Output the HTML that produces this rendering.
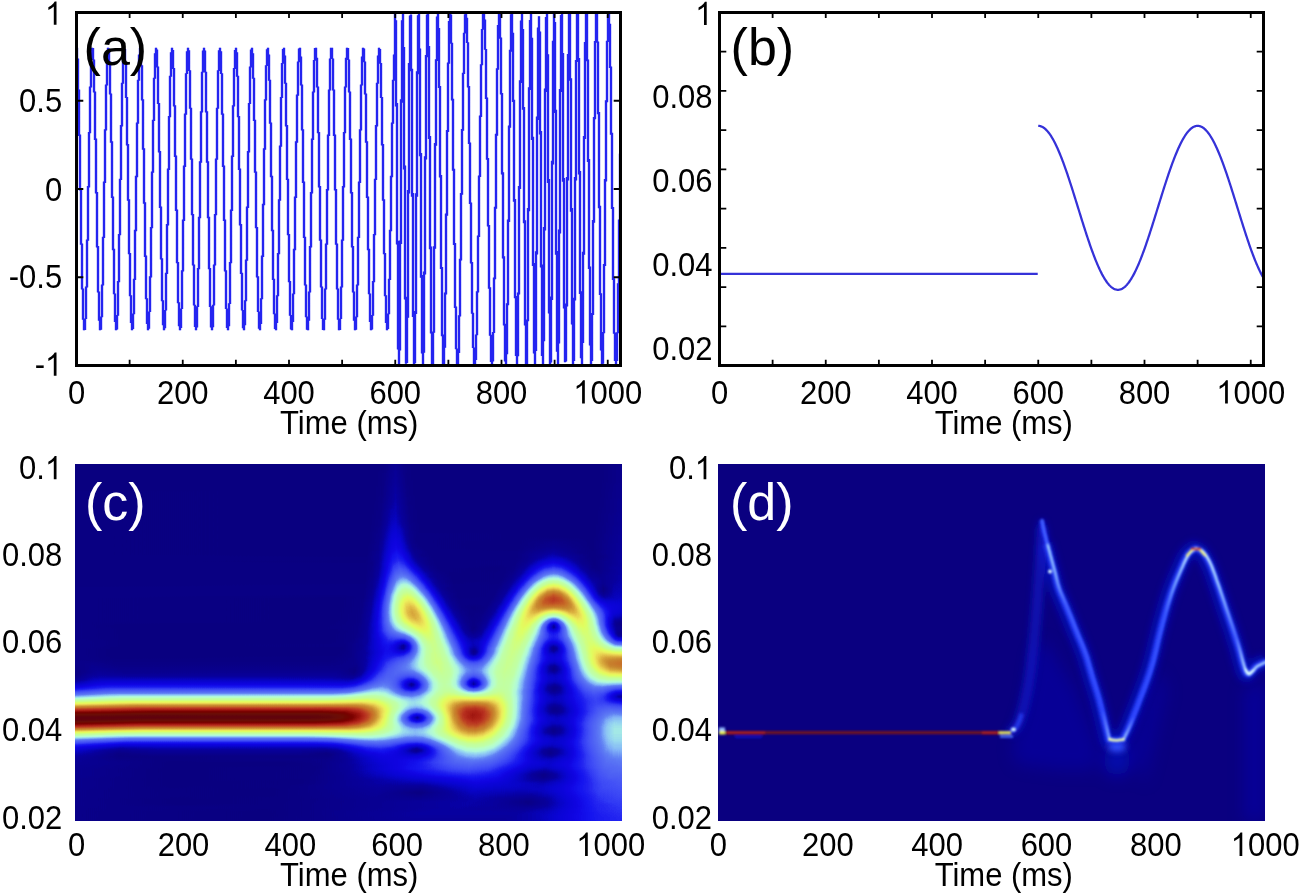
<!DOCTYPE html>
<html><head><meta charset="utf-8"><style>
html,body{margin:0;padding:0;background:#fff;}
body{width:1301px;height:896px;overflow:hidden;}
svg{display:block;font-family:"Liberation Sans", sans-serif;}
text{-webkit-font-smoothing:antialiased;}
</style></head><body>
<svg width="1301" height="896" viewBox="0 0 1301 896">
<rect width="1301" height="896" fill="#fff"/>
<svg x="0" y="0" width="1301" height="896" overflow="hidden"><clipPath id="ca"><rect x="76.5" y="12.5" width="544.0" height="353.0"/></clipPath></svg>
<g clip-path="url(#ca)"><path d="M77.0 47.8V59.1M78.0 58.6V90.6M79.0 89.6V135.9M80.0 134.6V190.5M81.0 189.0V244.8M82.0 243.4V289.4M83.0 288.4V319.8M84.0 319.4V330.2M85.0 318.4V330.0M86.0 286.4V318.9M87.0 239.4V287.4M88.0 186.0V240.7M89.0 131.9V187.5M90.0 86.6V133.2M91.0 57.7V87.6M92.0 47.8V58.2M93.0 48.1V60.0M94.0 59.6V92.5M95.0 91.6V140.0M96.0 138.6V193.4M97.0 192.0V247.5M98.0 246.1V292.4M99.0 291.4V320.7M100.0 320.3V330.2M101.0 316.5V329.7M102.0 284.5V317.3M103.0 236.7V285.5M104.0 181.6V238.0M105.0 129.2V183.1M106.0 84.6V130.5M107.0 56.4V85.6M108.0 47.8V56.8M109.0 48.4V62.2M110.0 61.5V94.5M111.0 93.5V142.7M112.0 141.3V197.9M113.0 196.4V250.2M114.0 248.8V294.3M115.0 293.4V322.1M116.0 321.6V330.2M117.0 315.0V329.4M118.0 281.1V315.8M119.0 234.0V282.3M120.0 178.7V235.3M121.0 125.1V180.1M122.0 82.7V126.5M123.0 55.4V83.7M124.0 47.8V55.9M125.0 48.9V63.7M126.0 63.0V98.1M127.0 96.9V145.4M128.0 144.0V200.8M129.0 199.3V254.2M130.0 252.9V296.3M131.0 295.3V323.0M132.0 322.6V330.2M133.0 313.6V329.0M134.0 278.7V314.3M135.0 229.7V279.9M136.0 175.7V231.2M137.0 122.4V177.2M138.0 79.7V123.8M139.0 54.5V80.7M140.0 47.8V55.0M141.0 49.2V65.9M142.0 65.2V100.5M143.0 99.3V149.7M144.0 148.3V203.8M145.0 202.3V256.9M146.0 255.6V299.3M147.0 298.3V323.9M148.0 323.5V330.2M149.0 311.4V328.7M150.0 276.3V312.1M151.0 226.9V277.5M152.0 171.4V228.3M153.0 119.7V172.8M154.0 77.7V121.1M155.0 53.2V78.7M156.0 47.8V53.6M157.0 49.5V67.4M158.0 66.6V104.1M159.0 102.9V152.6M160.0 151.1V208.1M161.0 206.6V259.6M162.0 258.3V301.3M163.0 300.3V325.3M164.0 324.8V330.2M165.0 309.9V328.3M166.0 272.7V310.6M167.0 224.0V273.9M168.0 168.5V225.4M169.0 116.0V169.9M170.0 75.8V117.2M171.0 52.3V76.7M172.0 47.8V52.7M173.0 50.0V68.9M174.0 68.1V106.5M175.0 105.3V156.9M176.0 155.5V211.0M177.0 209.5V263.2M178.0 262.0V303.2M179.0 302.2V326.2M180.0 325.7V330.2M181.0 308.4V327.9M182.0 270.3V309.1M183.0 219.6V271.5M184.0 165.6V221.1M185.0 113.6V167.0M186.0 73.3V114.8M187.0 51.3V74.0M188.0 47.8V51.8M189.0 50.3V71.1M190.0 70.3V108.8M191.0 107.7V159.8M192.0 158.4V215.3M193.0 213.9V265.6M194.0 264.4V305.4M195.0 304.7V327.1M196.0 326.7V330.2M197.0 306.2V327.6M198.0 268.0V306.9M199.0 216.8V269.2M200.0 161.2V218.2M201.0 111.2V162.7M202.0 71.8V112.4M203.0 50.6V72.6M204.0 47.8V50.7M205.0 50.6V72.6M206.0 71.8V112.4M207.0 111.2V162.7M208.0 161.2V218.2M209.0 216.8V269.2M210.0 268.0V306.9M211.0 306.2V327.6M212.0 327.1V330.2M213.0 304.7V327.3M214.0 264.4V305.4M215.0 213.9V265.6M216.0 158.4V215.3M217.0 107.7V159.8M218.0 70.3V108.8M219.0 50.3V71.1M220.0 47.8V51.8M221.0 51.3V74.0M222.0 73.3V114.8M223.0 113.6V167.0M224.0 165.6V221.1M225.0 219.6V271.5M226.0 270.3V309.1M227.0 308.4V327.9M228.0 325.7V330.2M229.0 303.2V326.2M230.0 262.0V304.0M231.0 209.5V263.2M232.0 155.5V211.0M233.0 105.3V156.9M234.0 68.1V106.5M235.0 50.0V68.9M236.0 47.8V52.7M237.0 52.3V76.7M238.0 75.8V117.2M239.0 116.0V169.9M240.0 168.5V225.4M241.0 224.0V273.9M242.0 272.7V310.6M243.0 309.9V328.3M244.0 324.8V330.2M245.0 300.3V325.3M246.0 259.6V301.3M247.0 206.6V260.8M248.0 151.1V208.1M249.0 102.9V152.6M250.0 66.6V104.1M251.0 49.5V67.4M252.0 47.8V53.6M253.0 53.2V78.7M254.0 77.7V121.1M255.0 119.7V172.8M256.0 171.4V228.3M257.0 226.9V277.5M258.0 276.3V312.1M259.0 311.4V328.7M260.0 323.5V330.2M261.0 298.3V323.9M262.0 255.6V299.3M263.0 203.8V256.9M264.0 148.3V205.2M265.0 99.3V149.7M266.0 65.2V100.5M267.0 49.2V65.9M268.0 47.8V55.0M269.0 54.5V80.7M270.0 79.7V123.8M271.0 122.4V177.2M272.0 175.7V231.2M273.0 229.7V279.9M274.0 278.7V314.3M275.0 313.6V329.0M276.0 322.6V330.2M277.0 295.3V323.0M278.0 252.9V296.3M279.0 199.3V254.2M280.0 145.4V200.8M281.0 96.9V146.8M282.0 63.0V98.1M283.0 48.9V63.7M284.0 47.8V55.9M285.0 55.4V83.7M286.0 82.7V126.5M287.0 125.1V180.1M288.0 178.7V235.3M289.0 234.0V282.3M290.0 281.1V315.8M291.0 315.0V329.4M292.0 321.6V330.2M293.0 293.4V322.1M294.0 248.8V294.3M295.0 196.4V250.2M296.0 141.3V197.9M297.0 94.5V142.7M298.0 61.5V95.7M299.0 48.4V62.2M300.0 47.8V56.8M301.0 56.4V85.6M302.0 84.6V130.5M303.0 129.2V183.1M304.0 181.6V238.0M305.0 236.7V285.5M306.0 284.5V317.3M307.0 316.5V329.7M308.0 320.3V330.2M309.0 291.4V320.7M310.0 246.1V292.4M311.0 192.0V247.5M312.0 138.6V193.4M313.0 91.6V140.0M314.0 60.0V92.5M315.0 48.1V60.7M316.0 47.8V58.2M317.0 57.7V87.6M318.0 86.6V133.2M319.0 131.9V187.5M320.0 186.0V240.7M321.0 239.4V287.4M322.0 286.4V318.9M323.0 318.4V330.0M324.0 319.4V330.2M325.0 288.4V319.8M326.0 243.4V289.4M327.0 189.0V244.8M328.0 134.6V190.5M329.0 89.6V135.9M330.0 58.6V90.6M331.0 47.8V59.1M332.0 47.8V59.1M333.0 58.6V90.6M334.0 89.6V135.9M335.0 134.6V190.5M336.0 189.0V244.8M337.0 243.4V289.4M338.0 288.4V319.8M339.0 319.4V330.2M340.0 318.4V330.0M341.0 286.4V318.9M342.0 239.4V287.4M343.0 186.0V240.7M344.0 131.9V187.5M345.0 86.6V133.2M346.0 57.7V87.6M347.0 47.8V58.2M348.0 48.1V60.0M349.0 59.6V92.5M350.0 91.6V140.0M351.0 138.6V193.4M352.0 192.0V247.5M353.0 246.1V292.4M354.0 291.4V320.7M355.0 320.3V330.2M356.0 316.5V329.7M357.0 284.5V317.3M358.0 236.7V285.5M359.0 181.6V238.0M360.0 129.2V183.1M361.0 84.6V130.5M362.0 56.4V85.6M363.0 47.8V56.8M364.0 48.4V62.2M365.0 61.5V94.5M366.0 93.5V142.7M367.0 141.3V197.9M368.0 196.4V250.2M369.0 248.8V294.3M370.0 293.4V322.1M371.0 321.6V330.2M372.0 315.0V329.4M373.0 281.1V315.8M374.0 234.0V282.3M375.0 178.7V235.3M376.0 125.1V180.1M377.0 82.7V126.5M378.0 55.4V83.7M379.0 47.8V55.9M380.0 48.9V63.7M381.0 63.0V98.1M382.0 96.9V145.4M383.0 144.0V200.8M384.0 199.3V254.2M385.0 252.9V296.3M386.0 295.3V323.0M387.0 322.6V330.2M388.0 313.6V329.0M389.0 278.7V314.3M390.0 229.7V279.9M391.0 175.7V231.2M392.0 122.4V177.2M393.0 79.7V123.8M394.0 54.5V80.7M395.0 12.5V55.0M396.0 20.3V106.5M397.0 102.9V244.4M398.0 240.8V349.6M399.0 348.7V365.5M400.0 240.6V350.5M401.0 99.3V244.1M402.0 20.2V102.8M403.0 12.8V49.2M404.0 47.0V169.4M405.0 165.6V299.5M406.0 296.8V363.8M407.0 314.8V362.9M408.0 189.9V317.8M409.0 63.0V193.6M410.0 15.6V65.9M411.0 14.4V71.3M412.0 68.7V196.7M413.0 193.1V316.9M414.0 314.6V365.0M415.0 311.0V363.2M416.0 193.3V313.9M417.0 71.3V196.8M418.0 15.3V74.2M419.0 12.5V50.3M420.0 48.4V156.2M421.0 152.9V277.8M422.0 274.9V353.4M423.0 351.2V365.1M424.0 271.5V352.7M425.0 156.3V274.5M426.0 55.0V159.5M427.0 14.6V57.3M428.0 12.9V47.7M429.0 46.0V138.9M430.0 136.0V249.3M431.0 246.6V333.4M432.0 332.0V365.5M433.0 331.5V364.6M434.0 246.2V332.8M435.0 143.0V248.7M436.0 59.2V145.7M437.0 16.6V61.1M438.0 12.5V29.1M439.0 28.0V88.1M440.0 85.9V177.4M441.0 174.9V269.1M442.0 267.1V336.2M443.0 334.6V364.3M444.0 346.9V365.5M445.0 292.6V347.8M446.0 213.5V294.4M447.0 130.0V215.7M448.0 62.4V132.1M449.0 20.9V63.8M450.0 13.2V21.3M451.0 14.4V43.7M452.0 42.7V100.5M453.0 98.8V170.8M454.0 168.8V244.9M455.0 243.0V308.0M456.0 306.5V349.2M457.0 348.5V365.2M458.0 352.1V364.9M459.0 315.2V352.9M460.0 258.8V316.4M461.0 192.9V260.4M462.0 129.1V194.7M463.0 72.7V130.8M464.0 32.8V74.0M465.0 14.3V33.6M466.0 12.6V18.2M467.0 17.7V43.1M468.0 42.3V87.4M469.0 86.1V144.0M470.0 142.4V204.1M471.0 202.5V263.6M472.0 262.1V313.8M473.0 312.7V348.1M474.0 347.5V364.3M475.0 359.3V365.2M476.0 334.5V359.9M477.0 291.2V335.3M478.0 235.4V292.5M479.0 175.5V237.0M480.0 115.4V177.1M481.0 64.2V116.9M482.0 29.1V65.3M483.0 13.3V29.8M484.0 13.3V19.9M485.0 19.5V49.8M486.0 48.9V99.1M487.0 97.6V159.7M488.0 158.0V226.6M489.0 224.9V288.8M490.0 287.3V335.7M491.0 334.7V361.9M492.0 360.8V365.5M493.0 332.0V361.4M494.0 277.6V333.0M495.0 206.8V279.2M496.0 133.8V208.8M497.0 68.2V135.8M498.0 25.1V69.7M499.0 12.5V25.8M500.0 13.8V38.7M501.0 37.5V94.6M502.0 92.9V174.4M503.0 172.2V258.5M504.0 256.3V325.4M505.0 323.8V361.4M506.0 353.4V365.3M507.0 303.3V354.3M508.0 219.6V305.2M509.0 125.4V222.1M510.0 49.8V127.7M511.0 14.3V51.7M512.0 12.7V33.8M513.0 32.8V102.1M514.0 99.8V201.7M515.0 198.9V298.2M516.0 296.0V356.1M517.0 355.0V365.3M518.0 292.5V356.2M519.0 185.9V294.5M520.0 80.3V188.9M521.0 20.6V82.9M522.0 14.1V30.1M523.0 28.9V109.8M524.0 107.0V223.3M525.0 220.2V325.5M526.0 323.8V365.5M527.0 319.5V364.9M528.0 208.1V321.3M529.0 87.2V211.3M530.0 20.0V90.1M531.0 12.9V39.4M532.0 37.7V140.1M533.0 136.7V265.9M534.0 262.9V353.6M535.0 350.1V365.5M536.0 251.3V350.9M537.0 116.5V254.4M538.0 27.4V120.0M539.0 16.2V32.9M540.0 31.4V134.5M541.0 130.9V267.6M542.0 264.4V356.1M543.0 338.7V365.1M544.0 227.0V341.2M545.0 88.4V230.5M546.0 16.9V91.9M547.0 12.5V56.6M548.0 54.3V182.9M549.0 179.1V313.5M550.0 310.9V365.3M551.0 296.6V362.6M552.0 160.7V300.0M553.0 40.8V164.6M554.0 12.9V43.4M555.0 21.9V113.1M556.0 109.7V254.7M557.0 251.1V351.8M558.0 341.5V364.8M559.0 229.6V343.6M560.0 89.1V233.4M561.0 15.1V91.9M562.0 13.8V55.0M563.0 53.1V181.7M564.0 178.0V308.6M565.0 305.8V362.2M566.0 303.6V361.4M567.0 176.9V306.6M568.0 54.1V180.6M569.0 13.4V56.1M570.0 13.4V80.8M571.0 78.3V211.7M572.0 208.1V324.6M573.0 322.2V364.4M574.0 297.8V361.0M575.0 177.0V300.6M576.0 60.1V180.5M577.0 12.5V62.1M578.0 13.1V60.0M579.0 58.1V174.5M580.0 171.1V294.1M581.0 291.3V358.3M582.0 341.6V365.1M583.0 251.8V343.1M584.0 136.1V254.8M585.0 42.1V139.1M586.0 13.2V43.4M587.0 13.2V61.3M588.0 59.5V162.0M589.0 159.1V269.1M590.0 266.4V345.5M591.0 344.2V365.4M592.0 312.9V361.0M593.0 220.1V315.1M594.0 116.9V222.8M595.0 40.9V119.2M596.0 13.5V42.6M597.0 12.8V42.8M598.0 41.5V114.3M599.0 112.0V208.2M600.0 205.7V295.1M601.0 293.2V350.4M602.0 349.6V364.9M603.0 332.1V363.8M604.0 263.9V333.2M605.0 179.1V265.9M606.0 100.3V181.4M607.0 40.8V102.3M608.0 14.5V42.0M609.0 12.7V24.7M610.0 23.8V68.1M611.0 66.4V134.7M612.0 132.7V209.0M613.0 207.0V280.1M614.0 278.3V333.7M615.0 332.5V361.1M616.0 360.5V364.5M617.0 332.2V360.9M618.0 283.3V333.3M619.0 219.5V284.9M620.0 153.4V221.3M621.0 153.4V155.2" fill="none" stroke="#c4c4fb" stroke-width="3.1" stroke-linecap="butt"/><path d="M77.0 47.8V59.1M78.0 58.6V90.6M79.0 89.6V135.9M80.0 134.6V190.5M81.0 189.0V244.8M82.0 243.4V289.4M83.0 288.4V319.8M84.0 319.4V330.2M85.0 318.4V330.0M86.0 286.4V318.9M87.0 239.4V287.4M88.0 186.0V240.7M89.0 131.9V187.5M90.0 86.6V133.2M91.0 57.7V87.6M92.0 47.8V58.2M93.0 48.1V60.0M94.0 59.6V92.5M95.0 91.6V140.0M96.0 138.6V193.4M97.0 192.0V247.5M98.0 246.1V292.4M99.0 291.4V320.7M100.0 320.3V330.2M101.0 316.5V329.7M102.0 284.5V317.3M103.0 236.7V285.5M104.0 181.6V238.0M105.0 129.2V183.1M106.0 84.6V130.5M107.0 56.4V85.6M108.0 47.8V56.8M109.0 48.4V62.2M110.0 61.5V94.5M111.0 93.5V142.7M112.0 141.3V197.9M113.0 196.4V250.2M114.0 248.8V294.3M115.0 293.4V322.1M116.0 321.6V330.2M117.0 315.0V329.4M118.0 281.1V315.8M119.0 234.0V282.3M120.0 178.7V235.3M121.0 125.1V180.1M122.0 82.7V126.5M123.0 55.4V83.7M124.0 47.8V55.9M125.0 48.9V63.7M126.0 63.0V98.1M127.0 96.9V145.4M128.0 144.0V200.8M129.0 199.3V254.2M130.0 252.9V296.3M131.0 295.3V323.0M132.0 322.6V330.2M133.0 313.6V329.0M134.0 278.7V314.3M135.0 229.7V279.9M136.0 175.7V231.2M137.0 122.4V177.2M138.0 79.7V123.8M139.0 54.5V80.7M140.0 47.8V55.0M141.0 49.2V65.9M142.0 65.2V100.5M143.0 99.3V149.7M144.0 148.3V203.8M145.0 202.3V256.9M146.0 255.6V299.3M147.0 298.3V323.9M148.0 323.5V330.2M149.0 311.4V328.7M150.0 276.3V312.1M151.0 226.9V277.5M152.0 171.4V228.3M153.0 119.7V172.8M154.0 77.7V121.1M155.0 53.2V78.7M156.0 47.8V53.6M157.0 49.5V67.4M158.0 66.6V104.1M159.0 102.9V152.6M160.0 151.1V208.1M161.0 206.6V259.6M162.0 258.3V301.3M163.0 300.3V325.3M164.0 324.8V330.2M165.0 309.9V328.3M166.0 272.7V310.6M167.0 224.0V273.9M168.0 168.5V225.4M169.0 116.0V169.9M170.0 75.8V117.2M171.0 52.3V76.7M172.0 47.8V52.7M173.0 50.0V68.9M174.0 68.1V106.5M175.0 105.3V156.9M176.0 155.5V211.0M177.0 209.5V263.2M178.0 262.0V303.2M179.0 302.2V326.2M180.0 325.7V330.2M181.0 308.4V327.9M182.0 270.3V309.1M183.0 219.6V271.5M184.0 165.6V221.1M185.0 113.6V167.0M186.0 73.3V114.8M187.0 51.3V74.0M188.0 47.8V51.8M189.0 50.3V71.1M190.0 70.3V108.8M191.0 107.7V159.8M192.0 158.4V215.3M193.0 213.9V265.6M194.0 264.4V305.4M195.0 304.7V327.1M196.0 326.7V330.2M197.0 306.2V327.6M198.0 268.0V306.9M199.0 216.8V269.2M200.0 161.2V218.2M201.0 111.2V162.7M202.0 71.8V112.4M203.0 50.6V72.6M204.0 47.8V50.7M205.0 50.6V72.6M206.0 71.8V112.4M207.0 111.2V162.7M208.0 161.2V218.2M209.0 216.8V269.2M210.0 268.0V306.9M211.0 306.2V327.6M212.0 327.1V330.2M213.0 304.7V327.3M214.0 264.4V305.4M215.0 213.9V265.6M216.0 158.4V215.3M217.0 107.7V159.8M218.0 70.3V108.8M219.0 50.3V71.1M220.0 47.8V51.8M221.0 51.3V74.0M222.0 73.3V114.8M223.0 113.6V167.0M224.0 165.6V221.1M225.0 219.6V271.5M226.0 270.3V309.1M227.0 308.4V327.9M228.0 325.7V330.2M229.0 303.2V326.2M230.0 262.0V304.0M231.0 209.5V263.2M232.0 155.5V211.0M233.0 105.3V156.9M234.0 68.1V106.5M235.0 50.0V68.9M236.0 47.8V52.7M237.0 52.3V76.7M238.0 75.8V117.2M239.0 116.0V169.9M240.0 168.5V225.4M241.0 224.0V273.9M242.0 272.7V310.6M243.0 309.9V328.3M244.0 324.8V330.2M245.0 300.3V325.3M246.0 259.6V301.3M247.0 206.6V260.8M248.0 151.1V208.1M249.0 102.9V152.6M250.0 66.6V104.1M251.0 49.5V67.4M252.0 47.8V53.6M253.0 53.2V78.7M254.0 77.7V121.1M255.0 119.7V172.8M256.0 171.4V228.3M257.0 226.9V277.5M258.0 276.3V312.1M259.0 311.4V328.7M260.0 323.5V330.2M261.0 298.3V323.9M262.0 255.6V299.3M263.0 203.8V256.9M264.0 148.3V205.2M265.0 99.3V149.7M266.0 65.2V100.5M267.0 49.2V65.9M268.0 47.8V55.0M269.0 54.5V80.7M270.0 79.7V123.8M271.0 122.4V177.2M272.0 175.7V231.2M273.0 229.7V279.9M274.0 278.7V314.3M275.0 313.6V329.0M276.0 322.6V330.2M277.0 295.3V323.0M278.0 252.9V296.3M279.0 199.3V254.2M280.0 145.4V200.8M281.0 96.9V146.8M282.0 63.0V98.1M283.0 48.9V63.7M284.0 47.8V55.9M285.0 55.4V83.7M286.0 82.7V126.5M287.0 125.1V180.1M288.0 178.7V235.3M289.0 234.0V282.3M290.0 281.1V315.8M291.0 315.0V329.4M292.0 321.6V330.2M293.0 293.4V322.1M294.0 248.8V294.3M295.0 196.4V250.2M296.0 141.3V197.9M297.0 94.5V142.7M298.0 61.5V95.7M299.0 48.4V62.2M300.0 47.8V56.8M301.0 56.4V85.6M302.0 84.6V130.5M303.0 129.2V183.1M304.0 181.6V238.0M305.0 236.7V285.5M306.0 284.5V317.3M307.0 316.5V329.7M308.0 320.3V330.2M309.0 291.4V320.7M310.0 246.1V292.4M311.0 192.0V247.5M312.0 138.6V193.4M313.0 91.6V140.0M314.0 60.0V92.5M315.0 48.1V60.7M316.0 47.8V58.2M317.0 57.7V87.6M318.0 86.6V133.2M319.0 131.9V187.5M320.0 186.0V240.7M321.0 239.4V287.4M322.0 286.4V318.9M323.0 318.4V330.0M324.0 319.4V330.2M325.0 288.4V319.8M326.0 243.4V289.4M327.0 189.0V244.8M328.0 134.6V190.5M329.0 89.6V135.9M330.0 58.6V90.6M331.0 47.8V59.1M332.0 47.8V59.1M333.0 58.6V90.6M334.0 89.6V135.9M335.0 134.6V190.5M336.0 189.0V244.8M337.0 243.4V289.4M338.0 288.4V319.8M339.0 319.4V330.2M340.0 318.4V330.0M341.0 286.4V318.9M342.0 239.4V287.4M343.0 186.0V240.7M344.0 131.9V187.5M345.0 86.6V133.2M346.0 57.7V87.6M347.0 47.8V58.2M348.0 48.1V60.0M349.0 59.6V92.5M350.0 91.6V140.0M351.0 138.6V193.4M352.0 192.0V247.5M353.0 246.1V292.4M354.0 291.4V320.7M355.0 320.3V330.2M356.0 316.5V329.7M357.0 284.5V317.3M358.0 236.7V285.5M359.0 181.6V238.0M360.0 129.2V183.1M361.0 84.6V130.5M362.0 56.4V85.6M363.0 47.8V56.8M364.0 48.4V62.2M365.0 61.5V94.5M366.0 93.5V142.7M367.0 141.3V197.9M368.0 196.4V250.2M369.0 248.8V294.3M370.0 293.4V322.1M371.0 321.6V330.2M372.0 315.0V329.4M373.0 281.1V315.8M374.0 234.0V282.3M375.0 178.7V235.3M376.0 125.1V180.1M377.0 82.7V126.5M378.0 55.4V83.7M379.0 47.8V55.9M380.0 48.9V63.7M381.0 63.0V98.1M382.0 96.9V145.4M383.0 144.0V200.8M384.0 199.3V254.2M385.0 252.9V296.3M386.0 295.3V323.0M387.0 322.6V330.2M388.0 313.6V329.0M389.0 278.7V314.3M390.0 229.7V279.9M391.0 175.7V231.2M392.0 122.4V177.2M393.0 79.7V123.8M394.0 54.5V80.7M395.0 12.5V55.0M396.0 20.3V106.5M397.0 102.9V244.4M398.0 240.8V349.6M399.0 348.7V365.5M400.0 240.6V350.5M401.0 99.3V244.1M402.0 20.2V102.8M403.0 12.8V49.2M404.0 47.0V169.4M405.0 165.6V299.5M406.0 296.8V363.8M407.0 314.8V362.9M408.0 189.9V317.8M409.0 63.0V193.6M410.0 15.6V65.9M411.0 14.4V71.3M412.0 68.7V196.7M413.0 193.1V316.9M414.0 314.6V365.0M415.0 311.0V363.2M416.0 193.3V313.9M417.0 71.3V196.8M418.0 15.3V74.2M419.0 12.5V50.3M420.0 48.4V156.2M421.0 152.9V277.8M422.0 274.9V353.4M423.0 351.2V365.1M424.0 271.5V352.7M425.0 156.3V274.5M426.0 55.0V159.5M427.0 14.6V57.3M428.0 12.9V47.7M429.0 46.0V138.9M430.0 136.0V249.3M431.0 246.6V333.4M432.0 332.0V365.5M433.0 331.5V364.6M434.0 246.2V332.8M435.0 143.0V248.7M436.0 59.2V145.7M437.0 16.6V61.1M438.0 12.5V29.1M439.0 28.0V88.1M440.0 85.9V177.4M441.0 174.9V269.1M442.0 267.1V336.2M443.0 334.6V364.3M444.0 346.9V365.5M445.0 292.6V347.8M446.0 213.5V294.4M447.0 130.0V215.7M448.0 62.4V132.1M449.0 20.9V63.8M450.0 13.2V21.3M451.0 14.4V43.7M452.0 42.7V100.5M453.0 98.8V170.8M454.0 168.8V244.9M455.0 243.0V308.0M456.0 306.5V349.2M457.0 348.5V365.2M458.0 352.1V364.9M459.0 315.2V352.9M460.0 258.8V316.4M461.0 192.9V260.4M462.0 129.1V194.7M463.0 72.7V130.8M464.0 32.8V74.0M465.0 14.3V33.6M466.0 12.6V18.2M467.0 17.7V43.1M468.0 42.3V87.4M469.0 86.1V144.0M470.0 142.4V204.1M471.0 202.5V263.6M472.0 262.1V313.8M473.0 312.7V348.1M474.0 347.5V364.3M475.0 359.3V365.2M476.0 334.5V359.9M477.0 291.2V335.3M478.0 235.4V292.5M479.0 175.5V237.0M480.0 115.4V177.1M481.0 64.2V116.9M482.0 29.1V65.3M483.0 13.3V29.8M484.0 13.3V19.9M485.0 19.5V49.8M486.0 48.9V99.1M487.0 97.6V159.7M488.0 158.0V226.6M489.0 224.9V288.8M490.0 287.3V335.7M491.0 334.7V361.9M492.0 360.8V365.5M493.0 332.0V361.4M494.0 277.6V333.0M495.0 206.8V279.2M496.0 133.8V208.8M497.0 68.2V135.8M498.0 25.1V69.7M499.0 12.5V25.8M500.0 13.8V38.7M501.0 37.5V94.6M502.0 92.9V174.4M503.0 172.2V258.5M504.0 256.3V325.4M505.0 323.8V361.4M506.0 353.4V365.3M507.0 303.3V354.3M508.0 219.6V305.2M509.0 125.4V222.1M510.0 49.8V127.7M511.0 14.3V51.7M512.0 12.7V33.8M513.0 32.8V102.1M514.0 99.8V201.7M515.0 198.9V298.2M516.0 296.0V356.1M517.0 355.0V365.3M518.0 292.5V356.2M519.0 185.9V294.5M520.0 80.3V188.9M521.0 20.6V82.9M522.0 14.1V30.1M523.0 28.9V109.8M524.0 107.0V223.3M525.0 220.2V325.5M526.0 323.8V365.5M527.0 319.5V364.9M528.0 208.1V321.3M529.0 87.2V211.3M530.0 20.0V90.1M531.0 12.9V39.4M532.0 37.7V140.1M533.0 136.7V265.9M534.0 262.9V353.6M535.0 350.1V365.5M536.0 251.3V350.9M537.0 116.5V254.4M538.0 27.4V120.0M539.0 16.2V32.9M540.0 31.4V134.5M541.0 130.9V267.6M542.0 264.4V356.1M543.0 338.7V365.1M544.0 227.0V341.2M545.0 88.4V230.5M546.0 16.9V91.9M547.0 12.5V56.6M548.0 54.3V182.9M549.0 179.1V313.5M550.0 310.9V365.3M551.0 296.6V362.6M552.0 160.7V300.0M553.0 40.8V164.6M554.0 12.9V43.4M555.0 21.9V113.1M556.0 109.7V254.7M557.0 251.1V351.8M558.0 341.5V364.8M559.0 229.6V343.6M560.0 89.1V233.4M561.0 15.1V91.9M562.0 13.8V55.0M563.0 53.1V181.7M564.0 178.0V308.6M565.0 305.8V362.2M566.0 303.6V361.4M567.0 176.9V306.6M568.0 54.1V180.6M569.0 13.4V56.1M570.0 13.4V80.8M571.0 78.3V211.7M572.0 208.1V324.6M573.0 322.2V364.4M574.0 297.8V361.0M575.0 177.0V300.6M576.0 60.1V180.5M577.0 12.5V62.1M578.0 13.1V60.0M579.0 58.1V174.5M580.0 171.1V294.1M581.0 291.3V358.3M582.0 341.6V365.1M583.0 251.8V343.1M584.0 136.1V254.8M585.0 42.1V139.1M586.0 13.2V43.4M587.0 13.2V61.3M588.0 59.5V162.0M589.0 159.1V269.1M590.0 266.4V345.5M591.0 344.2V365.4M592.0 312.9V361.0M593.0 220.1V315.1M594.0 116.9V222.8M595.0 40.9V119.2M596.0 13.5V42.6M597.0 12.8V42.8M598.0 41.5V114.3M599.0 112.0V208.2M600.0 205.7V295.1M601.0 293.2V350.4M602.0 349.6V364.9M603.0 332.1V363.8M604.0 263.9V333.2M605.0 179.1V265.9M606.0 100.3V181.4M607.0 40.8V102.3M608.0 14.5V42.0M609.0 12.7V24.7M610.0 23.8V68.1M611.0 66.4V134.7M612.0 132.7V209.0M613.0 207.0V280.1M614.0 278.3V333.7M615.0 332.5V361.1M616.0 360.5V364.5M617.0 332.2V360.9M618.0 283.3V333.3M619.0 219.5V284.9M620.0 153.4V221.3M621.0 153.4V155.2" fill="none" stroke="#2424f0" stroke-width="2.1" stroke-linecap="butt"/></g>
<path d="M129.62 364.00v-4.3M129.62 14.00v3.9M182.75 364.00v-4.3M182.75 14.00v3.9M235.88 364.00v-4.3M235.88 14.00v3.9M289.00 364.00v-4.3M289.00 14.00v3.9M342.12 364.00v-4.3M342.12 14.00v3.9M395.25 364.00v-4.3M395.25 14.00v3.9M448.38 364.00v-4.3M448.38 14.00v3.9M501.50 364.00v-4.3M501.50 14.00v3.9M554.62 364.00v-4.3M554.62 14.00v3.9M607.75 364.00v-4.3M607.75 14.00v3.9M78.00 100.75h5.3M619.00 100.75h-5.3M78.00 189.00h5.3M619.00 189.00h-5.3M78.00 277.25h5.3M619.00 277.25h-5.3" stroke="#000" stroke-width="1.8" fill="none"/>
<rect x="76.5" y="12.5" width="544.0" height="353.0" fill="none" stroke="#000" stroke-width="3"/>
<clipPath id="cb"><rect x="719.5" y="12.5" width="544.0" height="353.0"/></clipPath>
<filter id="bl06" x="-5%" y="-5%" width="110%" height="110%"><feGaussianBlur stdDeviation="0.55"/></filter>
<g clip-path="url(#cb)"><path filter="url(#bl06)" d="M719.50 273.98L1037.72 273.98M1038.25 125.85L1038.78 125.87L1039.31 125.92L1039.84 126.01L1040.38 126.14L1040.91 126.30L1041.44 126.50L1041.97 126.73L1042.50 127.00L1043.03 127.30L1043.56 127.64L1044.09 128.02L1044.62 128.43L1045.16 128.87L1045.69 129.35L1046.22 129.86L1046.75 130.41L1047.28 130.99L1047.81 131.61L1048.34 132.26L1048.88 132.94L1049.41 133.65L1049.94 134.40L1050.47 135.18L1051.00 135.99L1051.53 136.83L1052.06 137.71L1052.59 138.61L1053.12 139.55L1053.66 140.51L1054.19 141.51L1054.72 142.53L1055.25 143.58L1055.78 144.66L1056.31 145.77L1056.84 146.91L1057.38 148.07L1057.91 149.26L1058.44 150.47L1058.97 151.71L1059.50 152.98L1060.03 154.26L1060.56 155.57L1061.09 156.91L1061.62 158.26L1062.16 159.64L1062.69 161.04L1063.22 162.46L1063.75 163.90L1064.28 165.36L1064.81 166.84L1065.34 168.34L1065.88 169.85L1066.41 171.38L1066.94 172.92L1067.47 174.48L1068.00 176.06L1068.53 177.65L1069.06 179.25L1069.59 180.87L1070.12 182.50L1070.66 184.13L1071.19 185.78L1071.72 187.44L1072.25 189.11L1072.78 190.78L1073.31 192.47L1073.84 194.16L1074.38 195.85L1074.91 197.55L1075.44 199.26L1075.97 200.97L1076.50 202.68L1077.03 204.39L1077.56 206.11L1078.09 207.83L1078.62 209.54L1079.16 211.26L1079.69 212.97L1080.22 214.69L1080.75 216.40L1081.28 218.10L1081.81 219.80L1082.34 221.50L1082.88 223.19L1083.41 224.87L1083.94 226.55L1084.47 228.21L1085.00 229.87L1085.53 231.52L1086.06 233.16L1086.59 234.79L1087.12 236.40L1087.66 238.00L1088.19 239.59L1088.72 241.17L1089.25 242.73L1089.78 244.28L1090.31 245.81L1090.84 247.32L1091.38 248.81L1091.91 250.29L1092.44 251.75L1092.97 253.19L1093.50 254.61L1094.03 256.01L1094.56 257.39L1095.09 258.74L1095.62 260.08L1096.16 261.39L1096.69 262.68L1097.22 263.94L1097.75 265.18L1098.28 266.40L1098.81 267.58L1099.34 268.75L1099.88 269.88L1100.41 270.99L1100.94 272.07L1101.47 273.12L1102.00 274.15L1102.53 275.14L1103.06 276.10L1103.59 277.04L1104.12 277.94L1104.66 278.82L1105.19 279.66L1105.72 280.47L1106.25 281.25L1106.78 282.00L1107.31 282.71L1107.84 283.40L1108.38 284.04L1108.91 284.66L1109.44 285.24L1109.97 285.79L1110.50 286.30L1111.03 286.78L1111.56 287.23L1112.09 287.64L1112.62 288.01L1113.16 288.35L1113.69 288.65L1114.22 288.92L1114.75 289.15L1115.28 289.35L1115.81 289.51L1116.34 289.64L1116.88 289.73L1117.41 289.78L1117.94 289.80L1118.47 289.78L1119.00 289.73L1119.53 289.64L1120.06 289.51L1120.59 289.35L1121.12 289.15L1121.66 288.92L1122.19 288.65L1122.72 288.35L1123.25 288.01L1123.78 287.64L1124.31 287.23L1124.84 286.78L1125.38 286.30L1125.91 285.79L1126.44 285.24L1126.97 284.66L1127.50 284.04L1128.03 283.40L1128.56 282.71L1129.09 282.00L1129.62 281.25L1130.16 280.47L1130.69 279.66L1131.22 278.82L1131.75 277.94L1132.28 277.04L1132.81 276.10L1133.34 275.14L1133.88 274.15L1134.41 273.12L1134.94 272.07L1135.47 270.99L1136.00 269.88L1136.53 268.75L1137.06 267.58L1137.59 266.40L1138.12 265.18L1138.66 263.94L1139.19 262.68L1139.72 261.39L1140.25 260.08L1140.78 258.74L1141.31 257.39L1141.84 256.01L1142.38 254.61L1142.91 253.19L1143.44 251.75L1143.97 250.29L1144.50 248.81L1145.03 247.32L1145.56 245.81L1146.09 244.28L1146.62 242.73L1147.16 241.17L1147.69 239.59L1148.22 238.00L1148.75 236.40L1149.28 234.79L1149.81 233.16L1150.34 231.52L1150.88 229.87L1151.41 228.21L1151.94 226.55L1152.47 224.87L1153.00 223.19L1153.53 221.50L1154.06 219.80L1154.59 218.10L1155.12 216.40L1155.66 214.69L1156.19 212.97L1156.72 211.26L1157.25 209.54L1157.78 207.83L1158.31 206.11L1158.84 204.39L1159.38 202.68L1159.91 200.97L1160.44 199.26L1160.97 197.55L1161.50 195.85L1162.03 194.16L1162.56 192.47L1163.09 190.78L1163.62 189.11L1164.16 187.44L1164.69 185.78L1165.22 184.13L1165.75 182.50L1166.28 180.87L1166.81 179.25L1167.34 177.65L1167.88 176.06L1168.41 174.48L1168.94 172.92L1169.47 171.38L1170.00 169.85L1170.53 168.34L1171.06 166.84L1171.59 165.36L1172.12 163.90L1172.66 162.46L1173.19 161.04L1173.72 159.64L1174.25 158.26L1174.78 156.91L1175.31 155.57L1175.84 154.26L1176.38 152.98L1176.91 151.71L1177.44 150.47L1177.97 149.26L1178.50 148.07L1179.03 146.91L1179.56 145.77L1180.09 144.66L1180.62 143.58L1181.16 142.53L1181.69 141.51L1182.22 140.51L1182.75 139.55L1183.28 138.61L1183.81 137.71L1184.34 136.83L1184.88 135.99L1185.41 135.18L1185.94 134.40L1186.47 133.65L1187.00 132.94L1187.53 132.26L1188.06 131.61L1188.59 130.99L1189.12 130.41L1189.66 129.86L1190.19 129.35L1190.72 128.87L1191.25 128.43L1191.78 128.02L1192.31 127.64L1192.84 127.30L1193.38 127.00L1193.91 126.73L1194.44 126.50L1194.97 126.30L1195.50 126.14L1196.03 126.01L1196.56 125.92L1197.09 125.87L1197.62 125.85L1198.16 125.87L1198.69 125.92L1199.22 126.01L1199.75 126.14L1200.28 126.30L1200.81 126.50L1201.34 126.73L1201.88 127.00L1202.41 127.30L1202.94 127.64L1203.47 128.02L1204.00 128.43L1204.53 128.87L1205.06 129.35L1205.59 129.86L1206.12 130.41L1206.66 130.99L1207.19 131.61L1207.72 132.26L1208.25 132.94L1208.78 133.65L1209.31 134.40L1209.84 135.18L1210.38 135.99L1210.91 136.83L1211.44 137.71L1211.97 138.61L1212.50 139.55L1213.03 140.51L1213.56 141.51L1214.09 142.53L1214.62 143.58L1215.16 144.66L1215.69 145.77L1216.22 146.91L1216.75 148.07L1217.28 149.26L1217.81 150.47L1218.34 151.71L1218.88 152.98L1219.41 154.26L1219.94 155.57L1220.47 156.91L1221.00 158.26L1221.53 159.64L1222.06 161.04L1222.59 162.46L1223.12 163.90L1223.66 165.36L1224.19 166.84L1224.72 168.34L1225.25 169.85L1225.78 171.38L1226.31 172.92L1226.84 174.48L1227.38 176.06L1227.91 177.65L1228.44 179.25L1228.97 180.87L1229.50 182.50L1230.03 184.13L1230.56 185.78L1231.09 187.44L1231.62 189.11L1232.16 190.78L1232.69 192.47L1233.22 194.16L1233.75 195.85L1234.28 197.55L1234.81 199.26L1235.34 200.97L1235.88 202.68L1236.41 204.39L1236.94 206.11L1237.47 207.83L1238.00 209.54L1238.53 211.26L1239.06 212.97L1239.59 214.69L1240.12 216.40L1240.66 218.10L1241.19 219.80L1241.72 221.50L1242.25 223.19L1242.78 224.87L1243.31 226.55L1243.84 228.21L1244.38 229.87L1244.91 231.52L1245.44 233.16L1245.97 234.79L1246.50 236.40L1247.03 238.00L1247.56 239.59L1248.09 241.17L1248.62 242.73L1249.16 244.28L1249.69 245.81L1250.22 247.32L1250.75 248.81L1251.28 250.29L1251.81 251.75L1252.34 253.19L1252.88 254.61L1253.41 256.01L1253.94 257.39L1254.47 258.74L1255.00 260.08L1255.53 261.39L1256.06 262.68L1256.59 263.94L1257.12 265.18L1257.66 266.40L1258.19 267.58L1258.72 268.75L1259.25 269.88L1259.78 270.99L1260.31 272.07L1260.84 273.12L1261.38 274.15L1261.91 275.14L1262.44 276.10L1262.97 277.04L1263.50 277.94" fill="none" stroke="#3430d8" stroke-width="2.25"/></g>
<path d="M772.62 364.00v-4.3M772.62 14.00v3.9M825.75 364.00v-4.3M825.75 14.00v3.9M878.88 364.00v-4.3M878.88 14.00v3.9M932.00 364.00v-4.3M932.00 14.00v3.9M985.12 364.00v-4.3M985.12 14.00v3.9M1038.25 364.00v-4.3M1038.25 14.00v3.9M1091.38 364.00v-4.3M1091.38 14.00v3.9M1144.50 364.00v-4.3M1144.50 14.00v3.9M1197.62 364.00v-4.3M1197.62 14.00v3.9M1250.75 364.00v-4.3M1250.75 14.00v3.9M721.00 326.28h5.3M1262.00 326.28h-5.3M721.00 287.06h5.3M1262.00 287.06h-5.3M721.00 247.83h5.3M1262.00 247.83h-5.3M721.00 208.61h5.3M1262.00 208.61h-5.3M721.00 169.39h5.3M1262.00 169.39h-5.3M721.00 130.17h5.3M1262.00 130.17h-5.3M721.00 90.94h5.3M1262.00 90.94h-5.3M721.00 51.72h5.3M1262.00 51.72h-5.3" stroke="#000" stroke-width="1.8" fill="none"/>
<rect x="719.5" y="12.5" width="544.0" height="353.0" fill="none" stroke="#000" stroke-width="3"/>
<defs><filter id="jetc" x="0" y="0" width="1" height="1" color-interpolation-filters="sRGB"><feGaussianBlur stdDeviation="0 1.3"/>
<feComponentTransfer>
<feFuncR type="table" tableValues="0.039 0.037 0.035 0.033 0.031 0.031 0.031 0.034 0.039 0.049 0.059 0.067 0.073 0.084 0.114 0.149 0.188 0.218 0.245 0.268 0.289 0.304 0.320 0.336 0.351 0.367 0.397 0.450 0.502 0.536 0.569 0.604 0.643 0.682 0.699 0.710 0.722 0.733 0.744 0.754 0.760 0.765 0.775 0.792 0.808 0.826 0.847 0.868 0.886 0.902 0.918 0.923 0.918 0.912 0.900 0.879 0.859 0.837 0.816 0.794 0.784 0.784 0.784 0.777 0.765 0.754 0.742 0.730 0.713 0.688 0.663 0.622 0.579 0.533 0.486 0.458 0.441 0.429 0.410 0.388 0.376"/>
<feFuncG type="table" tableValues="0.000 0.000 0.000 0.000 0.000 0.007 0.013 0.016 0.016 0.016 0.016 0.031 0.058 0.084 0.114 0.161 0.220 0.259 0.295 0.326 0.355 0.378 0.402 0.425 0.452 0.483 0.533 0.612 0.690 0.746 0.802 0.858 0.910 0.962 0.980 0.990 1.000 1.000 1.000 1.000 1.000 1.000 1.000 1.000 1.000 1.000 1.000 1.000 0.990 0.971 0.951 0.920 0.878 0.837 0.791 0.739 0.688 0.640 0.596 0.553 0.515 0.482 0.450 0.405 0.355 0.304 0.260 0.217 0.178 0.146 0.115 0.085 0.056 0.031 0.008 0.012 0.030 0.051 0.049 0.023 0.000"/>
<feFuncB type="table" tableValues="0.502 0.531 0.561 0.590 0.620 0.680 0.741 0.790 0.831 0.854 0.877 0.900 0.923 0.941 0.941 0.947 0.957 0.962 0.965 0.965 0.963 0.959 0.957 0.957 0.957 0.957 0.959 0.966 0.973 0.961 0.950 0.935 0.902 0.869 0.840 0.812 0.784 0.739 0.695 0.655 0.639 0.622 0.597 0.558 0.520 0.480 0.439 0.398 0.374 0.369 0.363 0.353 0.337 0.322 0.301 0.276 0.250 0.228 0.212 0.195 0.182 0.171 0.160 0.153 0.147 0.142 0.136 0.130 0.119 0.100 0.081 0.060 0.038 0.021 0.005 0.000 0.000 0.020 0.031 0.040 0.063"/>
</feComponentTransfer></filter><linearGradient id="c0" gradientUnits="userSpaceOnUse" x1="75" x2="622" y1="0" y2="0"><stop offset="0.0009" stop-color="#000000"/><stop offset="0.5512" stop-color="#000000"/><stop offset="0.5658" stop-color="#020202"/><stop offset="0.5859" stop-color="#080808"/><stop offset="0.6042" stop-color="#010101"/><stop offset="0.6188" stop-color="#000000"/><stop offset="0.9625" stop-color="#000000"/><stop offset="0.9991" stop-color="#040404"/></linearGradient>
<linearGradient id="c1" gradientUnits="userSpaceOnUse" x1="75" x2="622" y1="0" y2="0"><stop offset="0.0009" stop-color="#000000"/><stop offset="0.5494" stop-color="#000000"/><stop offset="0.5640" stop-color="#010101"/><stop offset="0.5859" stop-color="#090909"/><stop offset="0.6042" stop-color="#020202"/><stop offset="0.6188" stop-color="#000000"/><stop offset="0.9625" stop-color="#000000"/><stop offset="0.9991" stop-color="#050505"/></linearGradient>
<linearGradient id="c2" gradientUnits="userSpaceOnUse" x1="75" x2="622" y1="0" y2="0"><stop offset="0.0009" stop-color="#000000"/><stop offset="0.5494" stop-color="#000000"/><stop offset="0.5640" stop-color="#010101"/><stop offset="0.5859" stop-color="#090909"/><stop offset="0.6042" stop-color="#020202"/><stop offset="0.6188" stop-color="#000000"/><stop offset="0.9607" stop-color="#000000"/><stop offset="0.9991" stop-color="#050505"/></linearGradient>
<linearGradient id="c3" gradientUnits="userSpaceOnUse" x1="75" x2="622" y1="0" y2="0"><stop offset="0.0009" stop-color="#000000"/><stop offset="0.5494" stop-color="#000000"/><stop offset="0.5640" stop-color="#020202"/><stop offset="0.5859" stop-color="#0a0a0a"/><stop offset="0.6060" stop-color="#010101"/><stop offset="0.6207" stop-color="#000000"/><stop offset="0.9607" stop-color="#000000"/><stop offset="0.9991" stop-color="#050505"/></linearGradient>
<linearGradient id="c4" gradientUnits="userSpaceOnUse" x1="75" x2="622" y1="0" y2="0"><stop offset="0.0009" stop-color="#000000"/><stop offset="0.5494" stop-color="#000000"/><stop offset="0.5640" stop-color="#020202"/><stop offset="0.5859" stop-color="#0a0a0a"/><stop offset="0.6060" stop-color="#020202"/><stop offset="0.6207" stop-color="#000000"/><stop offset="0.9607" stop-color="#000000"/><stop offset="0.9991" stop-color="#050505"/></linearGradient>
<linearGradient id="c5" gradientUnits="userSpaceOnUse" x1="75" x2="622" y1="0" y2="0"><stop offset="0.0009" stop-color="#000000"/><stop offset="0.5475" stop-color="#000000"/><stop offset="0.5640" stop-color="#020202"/><stop offset="0.5859" stop-color="#0b0b0b"/><stop offset="0.6060" stop-color="#020202"/><stop offset="0.6207" stop-color="#000000"/><stop offset="0.9607" stop-color="#000000"/><stop offset="0.9991" stop-color="#050505"/></linearGradient>
<linearGradient id="c6" gradientUnits="userSpaceOnUse" x1="75" x2="622" y1="0" y2="0"><stop offset="0.0009" stop-color="#000000"/><stop offset="0.5475" stop-color="#000000"/><stop offset="0.5622" stop-color="#020202"/><stop offset="0.5859" stop-color="#0b0b0b"/><stop offset="0.6060" stop-color="#020202"/><stop offset="0.6225" stop-color="#000000"/><stop offset="0.9589" stop-color="#000000"/><stop offset="0.9991" stop-color="#050505"/></linearGradient>
<linearGradient id="c7" gradientUnits="userSpaceOnUse" x1="75" x2="622" y1="0" y2="0"><stop offset="0.0009" stop-color="#000000"/><stop offset="0.5475" stop-color="#000000"/><stop offset="0.5622" stop-color="#020202"/><stop offset="0.5859" stop-color="#0c0c0c"/><stop offset="0.6060" stop-color="#020202"/><stop offset="0.6225" stop-color="#000000"/><stop offset="0.9589" stop-color="#000000"/><stop offset="0.9991" stop-color="#060606"/></linearGradient>
<linearGradient id="c8" gradientUnits="userSpaceOnUse" x1="75" x2="622" y1="0" y2="0"><stop offset="0.0009" stop-color="#000000"/><stop offset="0.5457" stop-color="#000000"/><stop offset="0.5622" stop-color="#020202"/><stop offset="0.5859" stop-color="#0d0d0d"/><stop offset="0.6079" stop-color="#020202"/><stop offset="0.6225" stop-color="#000000"/><stop offset="0.9589" stop-color="#000000"/><stop offset="0.9991" stop-color="#060606"/></linearGradient>
<linearGradient id="c9" gradientUnits="userSpaceOnUse" x1="75" x2="622" y1="0" y2="0"><stop offset="0.0009" stop-color="#010101"/><stop offset="0.5457" stop-color="#000000"/><stop offset="0.5622" stop-color="#020202"/><stop offset="0.5859" stop-color="#0d0d0d"/><stop offset="0.6079" stop-color="#020202"/><stop offset="0.6243" stop-color="#000000"/><stop offset="0.9570" stop-color="#000000"/><stop offset="0.9991" stop-color="#060606"/></linearGradient>
<linearGradient id="c10" gradientUnits="userSpaceOnUse" x1="75" x2="622" y1="0" y2="0"><stop offset="0.0009" stop-color="#010101"/><stop offset="0.5457" stop-color="#000000"/><stop offset="0.5622" stop-color="#020202"/><stop offset="0.5859" stop-color="#0e0e0e"/><stop offset="0.6079" stop-color="#020202"/><stop offset="0.6243" stop-color="#000000"/><stop offset="0.9570" stop-color="#000000"/><stop offset="0.9991" stop-color="#060606"/></linearGradient>
<linearGradient id="c11" gradientUnits="userSpaceOnUse" x1="75" x2="622" y1="0" y2="0"><stop offset="0.0009" stop-color="#010101"/><stop offset="0.5457" stop-color="#000000"/><stop offset="0.5622" stop-color="#030303"/><stop offset="0.5859" stop-color="#0e0e0e"/><stop offset="0.6079" stop-color="#030303"/><stop offset="0.6243" stop-color="#000000"/><stop offset="0.9570" stop-color="#000000"/><stop offset="0.9991" stop-color="#060606"/></linearGradient>
<linearGradient id="c12" gradientUnits="userSpaceOnUse" x1="75" x2="622" y1="0" y2="0"><stop offset="0.0009" stop-color="#010101"/><stop offset="0.5439" stop-color="#000000"/><stop offset="0.5603" stop-color="#020202"/><stop offset="0.5859" stop-color="#0f0f0f"/><stop offset="0.6097" stop-color="#020202"/><stop offset="0.6261" stop-color="#000000"/><stop offset="0.9552" stop-color="#000000"/><stop offset="0.9991" stop-color="#070707"/></linearGradient>
<linearGradient id="c13" gradientUnits="userSpaceOnUse" x1="75" x2="622" y1="0" y2="0"><stop offset="0.0009" stop-color="#010101"/><stop offset="0.5439" stop-color="#000000"/><stop offset="0.5603" stop-color="#030303"/><stop offset="0.5859" stop-color="#101010"/><stop offset="0.6097" stop-color="#020202"/><stop offset="0.6261" stop-color="#000000"/><stop offset="0.9552" stop-color="#000000"/><stop offset="0.9991" stop-color="#070707"/></linearGradient>
<linearGradient id="c14" gradientUnits="userSpaceOnUse" x1="75" x2="622" y1="0" y2="0"><stop offset="0.0009" stop-color="#010101"/><stop offset="0.5420" stop-color="#000000"/><stop offset="0.5603" stop-color="#030303"/><stop offset="0.5859" stop-color="#111111"/><stop offset="0.6097" stop-color="#030303"/><stop offset="0.6261" stop-color="#000000"/><stop offset="0.9552" stop-color="#000000"/><stop offset="0.9991" stop-color="#070707"/></linearGradient>
<linearGradient id="c15" gradientUnits="userSpaceOnUse" x1="75" x2="622" y1="0" y2="0"><stop offset="0.0009" stop-color="#010101"/><stop offset="0.5420" stop-color="#000000"/><stop offset="0.5603" stop-color="#030303"/><stop offset="0.5786" stop-color="#101010"/><stop offset="0.5859" stop-color="#111111"/><stop offset="0.6097" stop-color="#030303"/><stop offset="0.6280" stop-color="#000000"/><stop offset="0.9534" stop-color="#000000"/><stop offset="0.9991" stop-color="#070707"/></linearGradient>
<linearGradient id="c16" gradientUnits="userSpaceOnUse" x1="75" x2="622" y1="0" y2="0"><stop offset="0.0009" stop-color="#010101"/><stop offset="0.5420" stop-color="#000000"/><stop offset="0.5585" stop-color="#030303"/><stop offset="0.5786" stop-color="#101010"/><stop offset="0.5859" stop-color="#121212"/><stop offset="0.6097" stop-color="#030303"/><stop offset="0.6280" stop-color="#000000"/><stop offset="0.9534" stop-color="#000000"/><stop offset="0.9991" stop-color="#070707"/></linearGradient>
<linearGradient id="c17" gradientUnits="userSpaceOnUse" x1="75" x2="622" y1="0" y2="0"><stop offset="0.0009" stop-color="#010101"/><stop offset="0.5402" stop-color="#000000"/><stop offset="0.5585" stop-color="#030303"/><stop offset="0.5786" stop-color="#111111"/><stop offset="0.5859" stop-color="#131313"/><stop offset="0.6115" stop-color="#030303"/><stop offset="0.6298" stop-color="#000000"/><stop offset="0.9516" stop-color="#000000"/><stop offset="0.9991" stop-color="#080808"/></linearGradient>
<linearGradient id="c18" gradientUnits="userSpaceOnUse" x1="75" x2="622" y1="0" y2="0"><stop offset="0.0009" stop-color="#010101"/><stop offset="0.5402" stop-color="#000000"/><stop offset="0.5585" stop-color="#030303"/><stop offset="0.5786" stop-color="#121212"/><stop offset="0.5859" stop-color="#141414"/><stop offset="0.6115" stop-color="#030303"/><stop offset="0.6298" stop-color="#000000"/><stop offset="0.9516" stop-color="#000000"/><stop offset="0.9991" stop-color="#080808"/></linearGradient>
<linearGradient id="c19" gradientUnits="userSpaceOnUse" x1="75" x2="622" y1="0" y2="0"><stop offset="0.0009" stop-color="#010101"/><stop offset="0.5402" stop-color="#000000"/><stop offset="0.5585" stop-color="#040404"/><stop offset="0.5786" stop-color="#131313"/><stop offset="0.5859" stop-color="#151515"/><stop offset="0.6115" stop-color="#030303"/><stop offset="0.6298" stop-color="#000000"/><stop offset="0.9516" stop-color="#000000"/><stop offset="0.9991" stop-color="#080808"/></linearGradient>
<linearGradient id="c20" gradientUnits="userSpaceOnUse" x1="75" x2="622" y1="0" y2="0"><stop offset="0.0009" stop-color="#010101"/><stop offset="0.5384" stop-color="#000000"/><stop offset="0.5567" stop-color="#030303"/><stop offset="0.5786" stop-color="#141414"/><stop offset="0.5859" stop-color="#171717"/><stop offset="0.6115" stop-color="#040404"/><stop offset="0.6316" stop-color="#000000"/><stop offset="0.9497" stop-color="#000000"/><stop offset="0.9991" stop-color="#080808"/></linearGradient>
<linearGradient id="c21" gradientUnits="userSpaceOnUse" x1="75" x2="622" y1="0" y2="0"><stop offset="0.0009" stop-color="#010101"/><stop offset="0.5384" stop-color="#000000"/><stop offset="0.5567" stop-color="#040404"/><stop offset="0.5786" stop-color="#161616"/><stop offset="0.5859" stop-color="#181818"/><stop offset="0.5932" stop-color="#151515"/><stop offset="0.6115" stop-color="#040404"/><stop offset="0.6316" stop-color="#000000"/><stop offset="0.9497" stop-color="#000000"/><stop offset="0.9991" stop-color="#090909"/></linearGradient>
<linearGradient id="c22" gradientUnits="userSpaceOnUse" x1="75" x2="622" y1="0" y2="0"><stop offset="0.0009" stop-color="#010101"/><stop offset="0.5384" stop-color="#000000"/><stop offset="0.5567" stop-color="#040404"/><stop offset="0.5786" stop-color="#171717"/><stop offset="0.5859" stop-color="#1a1a1a"/><stop offset="0.5932" stop-color="#161616"/><stop offset="0.6133" stop-color="#040404"/><stop offset="0.6298" stop-color="#000000"/><stop offset="0.9497" stop-color="#000000"/><stop offset="0.9991" stop-color="#090909"/></linearGradient>
<linearGradient id="c23" gradientUnits="userSpaceOnUse" x1="75" x2="622" y1="0" y2="0"><stop offset="0.0009" stop-color="#010101"/><stop offset="0.5366" stop-color="#000000"/><stop offset="0.5567" stop-color="#050505"/><stop offset="0.5786" stop-color="#191919"/><stop offset="0.5859" stop-color="#1b1b1b"/><stop offset="0.5932" stop-color="#181818"/><stop offset="0.6115" stop-color="#050505"/><stop offset="0.6261" stop-color="#010101"/><stop offset="0.9479" stop-color="#000000"/><stop offset="0.9991" stop-color="#090909"/></linearGradient>
<linearGradient id="c24" gradientUnits="userSpaceOnUse" x1="75" x2="622" y1="0" y2="0"><stop offset="0.0009" stop-color="#010101"/><stop offset="0.5366" stop-color="#000000"/><stop offset="0.5567" stop-color="#050505"/><stop offset="0.5786" stop-color="#1a1a1a"/><stop offset="0.5859" stop-color="#1d1d1d"/><stop offset="0.5932" stop-color="#1a1a1a"/><stop offset="0.6133" stop-color="#050505"/><stop offset="0.6243" stop-color="#010101"/><stop offset="0.9479" stop-color="#000000"/><stop offset="0.9991" stop-color="#0a0a0a"/></linearGradient>
<linearGradient id="c25" gradientUnits="userSpaceOnUse" x1="75" x2="622" y1="0" y2="0"><stop offset="0.0009" stop-color="#010101"/><stop offset="0.5366" stop-color="#000000"/><stop offset="0.5567" stop-color="#060606"/><stop offset="0.5786" stop-color="#1c1c1c"/><stop offset="0.5859" stop-color="#1f1f1f"/><stop offset="0.5932" stop-color="#1c1c1c"/><stop offset="0.6133" stop-color="#050505"/><stop offset="0.6243" stop-color="#010101"/><stop offset="0.8090" stop-color="#000000"/><stop offset="0.8748" stop-color="#030303"/><stop offset="0.9461" stop-color="#000000"/><stop offset="0.9991" stop-color="#0a0a0a"/></linearGradient>
<linearGradient id="c26" gradientUnits="userSpaceOnUse" x1="75" x2="622" y1="0" y2="0"><stop offset="0.0009" stop-color="#010101"/><stop offset="0.5347" stop-color="#000000"/><stop offset="0.5548" stop-color="#050505"/><stop offset="0.5786" stop-color="#1d1d1d"/><stop offset="0.5859" stop-color="#202020"/><stop offset="0.5951" stop-color="#1c1c1c"/><stop offset="0.6152" stop-color="#050505"/><stop offset="0.6280" stop-color="#010101"/><stop offset="0.8071" stop-color="#000000"/><stop offset="0.8748" stop-color="#050505"/><stop offset="0.9442" stop-color="#000000"/><stop offset="0.9991" stop-color="#0a0a0a"/></linearGradient>
<linearGradient id="c27" gradientUnits="userSpaceOnUse" x1="75" x2="622" y1="0" y2="0"><stop offset="0.0009" stop-color="#010101"/><stop offset="0.5347" stop-color="#000000"/><stop offset="0.5548" stop-color="#060606"/><stop offset="0.5786" stop-color="#1e1e1e"/><stop offset="0.5859" stop-color="#222222"/><stop offset="0.5951" stop-color="#1e1e1e"/><stop offset="0.6170" stop-color="#050505"/><stop offset="0.6316" stop-color="#010101"/><stop offset="0.8071" stop-color="#000000"/><stop offset="0.8748" stop-color="#060606"/><stop offset="0.9442" stop-color="#000000"/><stop offset="0.9991" stop-color="#0b0b0b"/></linearGradient>
<linearGradient id="c28" gradientUnits="userSpaceOnUse" x1="75" x2="622" y1="0" y2="0"><stop offset="0.0009" stop-color="#010101"/><stop offset="0.5347" stop-color="#000000"/><stop offset="0.5548" stop-color="#060606"/><stop offset="0.5786" stop-color="#202020"/><stop offset="0.5878" stop-color="#242424"/><stop offset="0.5951" stop-color="#212121"/><stop offset="0.6188" stop-color="#060606"/><stop offset="0.6408" stop-color="#010101"/><stop offset="0.8071" stop-color="#000000"/><stop offset="0.8748" stop-color="#090909"/><stop offset="0.9461" stop-color="#000000"/><stop offset="0.9991" stop-color="#0b0b0b"/></linearGradient>
<linearGradient id="c29" gradientUnits="userSpaceOnUse" x1="75" x2="622" y1="0" y2="0"><stop offset="0.0009" stop-color="#010101"/><stop offset="0.5329" stop-color="#000000"/><stop offset="0.5548" stop-color="#070707"/><stop offset="0.5786" stop-color="#222222"/><stop offset="0.5878" stop-color="#272727"/><stop offset="0.5969" stop-color="#222222"/><stop offset="0.6207" stop-color="#070707"/><stop offset="0.6463" stop-color="#010101"/><stop offset="0.8071" stop-color="#010101"/><stop offset="0.8748" stop-color="#0d0d0d"/><stop offset="0.9241" stop-color="#020202"/><stop offset="0.9479" stop-color="#010101"/><stop offset="0.9991" stop-color="#0b0b0b"/></linearGradient>
<linearGradient id="c30" gradientUnits="userSpaceOnUse" x1="75" x2="622" y1="0" y2="0"><stop offset="0.0009" stop-color="#010101"/><stop offset="0.5329" stop-color="#000000"/><stop offset="0.5548" stop-color="#080808"/><stop offset="0.5804" stop-color="#262626"/><stop offset="0.5896" stop-color="#2a2a2a"/><stop offset="0.5987" stop-color="#242424"/><stop offset="0.6225" stop-color="#080808"/><stop offset="0.6335" stop-color="#030303"/><stop offset="0.6517" stop-color="#010101"/><stop offset="0.8071" stop-color="#010101"/><stop offset="0.8729" stop-color="#111111"/><stop offset="0.9424" stop-color="#010101"/><stop offset="0.9607" stop-color="#020202"/><stop offset="0.9991" stop-color="#0c0c0c"/></linearGradient>
<linearGradient id="c31" gradientUnits="userSpaceOnUse" x1="75" x2="622" y1="0" y2="0"><stop offset="0.0009" stop-color="#010101"/><stop offset="0.5329" stop-color="#010101"/><stop offset="0.5548" stop-color="#080808"/><stop offset="0.5804" stop-color="#282828"/><stop offset="0.5896" stop-color="#2d2d2d"/><stop offset="0.5987" stop-color="#282828"/><stop offset="0.6170" stop-color="#111111"/><stop offset="0.6261" stop-color="#080808"/><stop offset="0.6554" stop-color="#010101"/><stop offset="0.8053" stop-color="#010101"/><stop offset="0.8254" stop-color="#050505"/><stop offset="0.8729" stop-color="#171717"/><stop offset="0.8876" stop-color="#151515"/><stop offset="0.9223" stop-color="#060606"/><stop offset="0.9442" stop-color="#010101"/><stop offset="0.9589" stop-color="#020202"/><stop offset="0.9991" stop-color="#0c0c0c"/></linearGradient>
<linearGradient id="c32" gradientUnits="userSpaceOnUse" x1="75" x2="622" y1="0" y2="0"><stop offset="0.0009" stop-color="#010101"/><stop offset="0.5311" stop-color="#000000"/><stop offset="0.5439" stop-color="#030303"/><stop offset="0.5548" stop-color="#090909"/><stop offset="0.5804" stop-color="#2b2b2b"/><stop offset="0.5914" stop-color="#313131"/><stop offset="0.6005" stop-color="#2c2c2c"/><stop offset="0.6188" stop-color="#131313"/><stop offset="0.6280" stop-color="#0a0a0a"/><stop offset="0.6408" stop-color="#040404"/><stop offset="0.6590" stop-color="#010101"/><stop offset="0.8053" stop-color="#020202"/><stop offset="0.8254" stop-color="#070707"/><stop offset="0.8601" stop-color="#1b1b1b"/><stop offset="0.8748" stop-color="#1f1f1f"/><stop offset="0.8894" stop-color="#1b1b1b"/><stop offset="0.9260" stop-color="#060606"/><stop offset="0.9479" stop-color="#010101"/><stop offset="0.9991" stop-color="#0d0d0d"/></linearGradient>
<linearGradient id="c33" gradientUnits="userSpaceOnUse" x1="75" x2="622" y1="0" y2="0"><stop offset="0.0009" stop-color="#010101"/><stop offset="0.5311" stop-color="#010101"/><stop offset="0.5439" stop-color="#030303"/><stop offset="0.5548" stop-color="#0a0a0a"/><stop offset="0.5823" stop-color="#303030"/><stop offset="0.5914" stop-color="#363636"/><stop offset="0.6024" stop-color="#303030"/><stop offset="0.6207" stop-color="#161616"/><stop offset="0.6316" stop-color="#0b0b0b"/><stop offset="0.6444" stop-color="#040404"/><stop offset="0.6609" stop-color="#010101"/><stop offset="0.8035" stop-color="#020202"/><stop offset="0.8236" stop-color="#090909"/><stop offset="0.8583" stop-color="#222222"/><stop offset="0.8748" stop-color="#282828"/><stop offset="0.8912" stop-color="#222222"/><stop offset="0.9278" stop-color="#080808"/><stop offset="0.9497" stop-color="#010101"/><stop offset="0.9991" stop-color="#0d0d0d"/></linearGradient>
<linearGradient id="c34" gradientUnits="userSpaceOnUse" x1="75" x2="622" y1="0" y2="0"><stop offset="0.0009" stop-color="#010101"/><stop offset="0.5311" stop-color="#010101"/><stop offset="0.5439" stop-color="#040404"/><stop offset="0.5548" stop-color="#0b0b0b"/><stop offset="0.5640" stop-color="#161616"/><stop offset="0.5823" stop-color="#343434"/><stop offset="0.5932" stop-color="#3b3b3b"/><stop offset="0.6042" stop-color="#353535"/><stop offset="0.6243" stop-color="#181818"/><stop offset="0.6353" stop-color="#0c0c0c"/><stop offset="0.6481" stop-color="#050505"/><stop offset="0.6645" stop-color="#010101"/><stop offset="0.7724" stop-color="#000000"/><stop offset="0.8035" stop-color="#030303"/><stop offset="0.8218" stop-color="#0b0b0b"/><stop offset="0.8583" stop-color="#2c2c2c"/><stop offset="0.8748" stop-color="#333333"/><stop offset="0.8894" stop-color="#2e2e2e"/><stop offset="0.9241" stop-color="#0e0e0e"/><stop offset="0.9461" stop-color="#020202"/><stop offset="0.9552" stop-color="#020202"/><stop offset="0.9863" stop-color="#0c0c0c"/><stop offset="0.9991" stop-color="#0d0d0d"/></linearGradient>
<linearGradient id="c35" gradientUnits="userSpaceOnUse" x1="75" x2="622" y1="0" y2="0"><stop offset="0.0009" stop-color="#010101"/><stop offset="0.5311" stop-color="#010101"/><stop offset="0.5439" stop-color="#040404"/><stop offset="0.5548" stop-color="#0c0c0c"/><stop offset="0.5640" stop-color="#181818"/><stop offset="0.5841" stop-color="#3a3a3a"/><stop offset="0.5951" stop-color="#424242"/><stop offset="0.6060" stop-color="#3b3b3b"/><stop offset="0.6280" stop-color="#191919"/><stop offset="0.6389" stop-color="#0d0d0d"/><stop offset="0.6517" stop-color="#050505"/><stop offset="0.6682" stop-color="#010101"/><stop offset="0.7706" stop-color="#000000"/><stop offset="0.8016" stop-color="#030303"/><stop offset="0.8218" stop-color="#0f0f0f"/><stop offset="0.8583" stop-color="#383838"/><stop offset="0.8748" stop-color="#404040"/><stop offset="0.8894" stop-color="#3a3a3a"/><stop offset="0.9241" stop-color="#121212"/><stop offset="0.9442" stop-color="#050505"/><stop offset="0.9570" stop-color="#030303"/><stop offset="0.9991" stop-color="#0e0e0e"/></linearGradient>
<linearGradient id="c36" gradientUnits="userSpaceOnUse" x1="75" x2="622" y1="0" y2="0"><stop offset="0.0009" stop-color="#010101"/><stop offset="0.5311" stop-color="#010101"/><stop offset="0.5439" stop-color="#050505"/><stop offset="0.5548" stop-color="#0d0d0d"/><stop offset="0.5640" stop-color="#1a1a1a"/><stop offset="0.5859" stop-color="#414141"/><stop offset="0.5969" stop-color="#494949"/><stop offset="0.6079" stop-color="#414141"/><stop offset="0.6371" stop-color="#141414"/><stop offset="0.6572" stop-color="#050505"/><stop offset="0.6865" stop-color="#000000"/><stop offset="0.7834" stop-color="#010101"/><stop offset="0.8016" stop-color="#050505"/><stop offset="0.8163" stop-color="#0e0e0e"/><stop offset="0.8291" stop-color="#1c1c1c"/><stop offset="0.8583" stop-color="#464646"/><stop offset="0.8675" stop-color="#4d4d4d"/><stop offset="0.8748" stop-color="#505050"/><stop offset="0.8821" stop-color="#4e4e4e"/><stop offset="0.8912" stop-color="#464646"/><stop offset="0.9241" stop-color="#181818"/><stop offset="0.9424" stop-color="#080808"/><stop offset="0.9589" stop-color="#050505"/><stop offset="0.9991" stop-color="#0e0e0e"/></linearGradient>
<linearGradient id="c37" gradientUnits="userSpaceOnUse" x1="75" x2="622" y1="0" y2="0"><stop offset="0.0009" stop-color="#010101"/><stop offset="0.5293" stop-color="#010101"/><stop offset="0.5439" stop-color="#050505"/><stop offset="0.5548" stop-color="#0e0e0e"/><stop offset="0.5640" stop-color="#1c1c1c"/><stop offset="0.5859" stop-color="#474747"/><stop offset="0.5932" stop-color="#4f4f4f"/><stop offset="0.5987" stop-color="#515151"/><stop offset="0.6042" stop-color="#4f4f4f"/><stop offset="0.6115" stop-color="#464646"/><stop offset="0.6408" stop-color="#151515"/><stop offset="0.6499" stop-color="#0b0b0b"/><stop offset="0.6609" stop-color="#050505"/><stop offset="0.6901" stop-color="#000000"/><stop offset="0.7815" stop-color="#010101"/><stop offset="0.7998" stop-color="#060606"/><stop offset="0.8144" stop-color="#111111"/><stop offset="0.8272" stop-color="#222222"/><stop offset="0.8565" stop-color="#535353"/><stop offset="0.8656" stop-color="#5d5d5d"/><stop offset="0.8748" stop-color="#616161"/><stop offset="0.8821" stop-color="#5f5f5f"/><stop offset="0.8912" stop-color="#565656"/><stop offset="0.9260" stop-color="#1d1d1d"/><stop offset="0.9424" stop-color="#0b0b0b"/><stop offset="0.9607" stop-color="#060606"/><stop offset="0.9991" stop-color="#0f0f0f"/></linearGradient>
<linearGradient id="c38" gradientUnits="userSpaceOnUse" x1="75" x2="622" y1="0" y2="0"><stop offset="0.0009" stop-color="#010101"/><stop offset="0.5293" stop-color="#010101"/><stop offset="0.5439" stop-color="#060606"/><stop offset="0.5548" stop-color="#101010"/><stop offset="0.5658" stop-color="#222222"/><stop offset="0.5878" stop-color="#505050"/><stop offset="0.5951" stop-color="#585858"/><stop offset="0.6005" stop-color="#5a5a5a"/><stop offset="0.6060" stop-color="#585858"/><stop offset="0.6133" stop-color="#4e4e4e"/><stop offset="0.6353" stop-color="#242424"/><stop offset="0.6444" stop-color="#161616"/><stop offset="0.6627" stop-color="#060606"/><stop offset="0.6920" stop-color="#000000"/><stop offset="0.7797" stop-color="#010101"/><stop offset="0.7980" stop-color="#070707"/><stop offset="0.8126" stop-color="#141414"/><stop offset="0.8254" stop-color="#272727"/><stop offset="0.8565" stop-color="#646464"/><stop offset="0.8656" stop-color="#6f6f6f"/><stop offset="0.8748" stop-color="#737373"/><stop offset="0.8839" stop-color="#707070"/><stop offset="0.8931" stop-color="#656565"/><stop offset="0.9260" stop-color="#252525"/><stop offset="0.9351" stop-color="#171717"/><stop offset="0.9442" stop-color="#0e0e0e"/><stop offset="0.9644" stop-color="#070707"/><stop offset="0.9991" stop-color="#0f0f0f"/></linearGradient>
<linearGradient id="c39" gradientUnits="userSpaceOnUse" x1="75" x2="622" y1="0" y2="0"><stop offset="0.0009" stop-color="#010101"/><stop offset="0.5293" stop-color="#010101"/><stop offset="0.5439" stop-color="#070707"/><stop offset="0.5548" stop-color="#111111"/><stop offset="0.5658" stop-color="#242424"/><stop offset="0.5878" stop-color="#575757"/><stop offset="0.5951" stop-color="#616161"/><stop offset="0.6005" stop-color="#646464"/><stop offset="0.6060" stop-color="#636363"/><stop offset="0.6115" stop-color="#5d5d5d"/><stop offset="0.6444" stop-color="#1c1c1c"/><stop offset="0.6536" stop-color="#101010"/><stop offset="0.6645" stop-color="#070707"/><stop offset="0.6920" stop-color="#000000"/><stop offset="0.7761" stop-color="#010101"/><stop offset="0.7962" stop-color="#090909"/><stop offset="0.8108" stop-color="#171717"/><stop offset="0.8236" stop-color="#2e2e2e"/><stop offset="0.8473" stop-color="#656565"/><stop offset="0.8565" stop-color="#777777"/><stop offset="0.8656" stop-color="#838383"/><stop offset="0.8748" stop-color="#878787"/><stop offset="0.8839" stop-color="#838383"/><stop offset="0.8931" stop-color="#777777"/><stop offset="0.9022" stop-color="#666666"/><stop offset="0.9278" stop-color="#2b2b2b"/><stop offset="0.9369" stop-color="#1b1b1b"/><stop offset="0.9461" stop-color="#101010"/><stop offset="0.9644" stop-color="#070707"/><stop offset="0.9991" stop-color="#101010"/></linearGradient>
<linearGradient id="c40" gradientUnits="userSpaceOnUse" x1="75" x2="622" y1="0" y2="0"><stop offset="0.0009" stop-color="#010101"/><stop offset="0.5293" stop-color="#020202"/><stop offset="0.5439" stop-color="#070707"/><stop offset="0.5548" stop-color="#131313"/><stop offset="0.5658" stop-color="#272727"/><stop offset="0.5896" stop-color="#626262"/><stop offset="0.5969" stop-color="#6c6c6c"/><stop offset="0.6024" stop-color="#6f6f6f"/><stop offset="0.6079" stop-color="#6d6d6d"/><stop offset="0.6152" stop-color="#646464"/><stop offset="0.6463" stop-color="#202020"/><stop offset="0.6554" stop-color="#121212"/><stop offset="0.6664" stop-color="#080808"/><stop offset="0.6938" stop-color="#010101"/><stop offset="0.7742" stop-color="#020202"/><stop offset="0.7925" stop-color="#090909"/><stop offset="0.8071" stop-color="#181818"/><stop offset="0.8218" stop-color="#343434"/><stop offset="0.8455" stop-color="#727272"/><stop offset="0.8547" stop-color="#868686"/><stop offset="0.8656" stop-color="#969696"/><stop offset="0.8748" stop-color="#9b9b9b"/><stop offset="0.8839" stop-color="#979797"/><stop offset="0.8949" stop-color="#878787"/><stop offset="0.9040" stop-color="#737373"/><stop offset="0.9314" stop-color="#2d2d2d"/><stop offset="0.9406" stop-color="#1c1c1c"/><stop offset="0.9497" stop-color="#101010"/><stop offset="0.9644" stop-color="#050505"/><stop offset="0.9863" stop-color="#0f0f0f"/><stop offset="0.9991" stop-color="#111111"/></linearGradient>
<linearGradient id="c41" gradientUnits="userSpaceOnUse" x1="75" x2="622" y1="0" y2="0"><stop offset="0.0009" stop-color="#020202"/><stop offset="0.5293" stop-color="#020202"/><stop offset="0.5439" stop-color="#080808"/><stop offset="0.5548" stop-color="#151515"/><stop offset="0.5658" stop-color="#2a2a2a"/><stop offset="0.5896" stop-color="#696969"/><stop offset="0.5969" stop-color="#757575"/><stop offset="0.6042" stop-color="#7a7a7a"/><stop offset="0.6115" stop-color="#767676"/><stop offset="0.6188" stop-color="#6a6a6a"/><stop offset="0.6426" stop-color="#303030"/><stop offset="0.6517" stop-color="#1e1e1e"/><stop offset="0.6609" stop-color="#111111"/><stop offset="0.6700" stop-color="#080808"/><stop offset="0.6810" stop-color="#030303"/><stop offset="0.6974" stop-color="#010101"/><stop offset="0.7724" stop-color="#020202"/><stop offset="0.7907" stop-color="#0a0a0a"/><stop offset="0.8053" stop-color="#1c1c1c"/><stop offset="0.8199" stop-color="#3b3b3b"/><stop offset="0.8437" stop-color="#7e7e7e"/><stop offset="0.8528" stop-color="#959595"/><stop offset="0.8638" stop-color="#a7a7a7"/><stop offset="0.8748" stop-color="#adadad"/><stop offset="0.8839" stop-color="#a9a9a9"/><stop offset="0.8949" stop-color="#999999"/><stop offset="0.9059" stop-color="#7f7f7f"/><stop offset="0.9260" stop-color="#464646"/><stop offset="0.9351" stop-color="#2f2f2f"/><stop offset="0.9442" stop-color="#1c1c1c"/><stop offset="0.9552" stop-color="#0c0c0c"/><stop offset="0.9662" stop-color="#020202"/><stop offset="0.9845" stop-color="#0f0f0f"/><stop offset="0.9991" stop-color="#111111"/></linearGradient>
<linearGradient id="c42" gradientUnits="userSpaceOnUse" x1="75" x2="622" y1="0" y2="0"><stop offset="0.0009" stop-color="#020202"/><stop offset="0.5274" stop-color="#020202"/><stop offset="0.5420" stop-color="#080808"/><stop offset="0.5548" stop-color="#171717"/><stop offset="0.5658" stop-color="#2d2d2d"/><stop offset="0.5914" stop-color="#747474"/><stop offset="0.5987" stop-color="#808080"/><stop offset="0.6060" stop-color="#858585"/><stop offset="0.6115" stop-color="#828282"/><stop offset="0.6188" stop-color="#777777"/><stop offset="0.6517" stop-color="#252525"/><stop offset="0.6609" stop-color="#151515"/><stop offset="0.6718" stop-color="#0a0a0a"/><stop offset="0.6828" stop-color="#040404"/><stop offset="0.6993" stop-color="#010101"/><stop offset="0.7687" stop-color="#020202"/><stop offset="0.7888" stop-color="#0c0c0c"/><stop offset="0.8035" stop-color="#1f1f1f"/><stop offset="0.8163" stop-color="#3d3d3d"/><stop offset="0.8419" stop-color="#8a8a8a"/><stop offset="0.8510" stop-color="#a2a2a2"/><stop offset="0.8638" stop-color="#b8b8b8"/><stop offset="0.8748" stop-color="#bebebe"/><stop offset="0.8857" stop-color="#b8b8b8"/><stop offset="0.8967" stop-color="#a7a7a7"/><stop offset="0.9077" stop-color="#8b8b8b"/><stop offset="0.9369" stop-color="#343434"/><stop offset="0.9479" stop-color="#1b1b1b"/><stop offset="0.9589" stop-color="#090909"/><stop offset="0.9662" stop-color="#030303"/><stop offset="0.9845" stop-color="#101010"/><stop offset="0.9991" stop-color="#121212"/></linearGradient>
<linearGradient id="c43" gradientUnits="userSpaceOnUse" x1="75" x2="622" y1="0" y2="0"><stop offset="0.0009" stop-color="#020202"/><stop offset="0.5274" stop-color="#020202"/><stop offset="0.5420" stop-color="#090909"/><stop offset="0.5548" stop-color="#181818"/><stop offset="0.5658" stop-color="#303030"/><stop offset="0.5859" stop-color="#6d6d6d"/><stop offset="0.5932" stop-color="#7f7f7f"/><stop offset="0.6005" stop-color="#8b8b8b"/><stop offset="0.6079" stop-color="#8f8f8f"/><stop offset="0.6133" stop-color="#8c8c8c"/><stop offset="0.6207" stop-color="#808080"/><stop offset="0.6536" stop-color="#292929"/><stop offset="0.6627" stop-color="#181818"/><stop offset="0.6737" stop-color="#0b0b0b"/><stop offset="0.6846" stop-color="#050505"/><stop offset="0.7011" stop-color="#010101"/><stop offset="0.7669" stop-color="#020202"/><stop offset="0.7852" stop-color="#0c0c0c"/><stop offset="0.7998" stop-color="#202020"/><stop offset="0.8144" stop-color="#434343"/><stop offset="0.8382" stop-color="#8f8f8f"/><stop offset="0.8492" stop-color="#adadad"/><stop offset="0.8620" stop-color="#c3c3c3"/><stop offset="0.8748" stop-color="#cbcbcb"/><stop offset="0.8876" stop-color="#c4c4c4"/><stop offset="0.9004" stop-color="#aeaeae"/><stop offset="0.9113" stop-color="#909090"/><stop offset="0.9388" stop-color="#393939"/><stop offset="0.9479" stop-color="#222222"/><stop offset="0.9570" stop-color="#111111"/><stop offset="0.9662" stop-color="#080808"/><stop offset="0.9863" stop-color="#121212"/><stop offset="0.9991" stop-color="#131313"/></linearGradient>
<linearGradient id="c44" gradientUnits="userSpaceOnUse" x1="75" x2="622" y1="0" y2="0"><stop offset="0.0009" stop-color="#020202"/><stop offset="0.4854" stop-color="#000000"/><stop offset="0.5274" stop-color="#020202"/><stop offset="0.5420" stop-color="#0a0a0a"/><stop offset="0.5548" stop-color="#1a1a1a"/><stop offset="0.5676" stop-color="#383838"/><stop offset="0.5859" stop-color="#727272"/><stop offset="0.5932" stop-color="#868686"/><stop offset="0.6005" stop-color="#939393"/><stop offset="0.6079" stop-color="#999999"/><stop offset="0.6152" stop-color="#959595"/><stop offset="0.6225" stop-color="#898989"/><stop offset="0.6298" stop-color="#777777"/><stop offset="0.6554" stop-color="#2e2e2e"/><stop offset="0.6645" stop-color="#1b1b1b"/><stop offset="0.6755" stop-color="#0d0d0d"/><stop offset="0.6883" stop-color="#040404"/><stop offset="0.7029" stop-color="#010101"/><stop offset="0.7633" stop-color="#020202"/><stop offset="0.7815" stop-color="#0c0c0c"/><stop offset="0.7962" stop-color="#202020"/><stop offset="0.8108" stop-color="#444444"/><stop offset="0.8364" stop-color="#979797"/><stop offset="0.8473" stop-color="#b5b5b5"/><stop offset="0.8601" stop-color="#cbcbcb"/><stop offset="0.8748" stop-color="#d3d3d3"/><stop offset="0.8894" stop-color="#cbcbcb"/><stop offset="0.9022" stop-color="#b6b6b6"/><stop offset="0.9132" stop-color="#999999"/><stop offset="0.9424" stop-color="#393939"/><stop offset="0.9497" stop-color="#262626"/><stop offset="0.9570" stop-color="#181818"/><stop offset="0.9625" stop-color="#121212"/><stop offset="0.9680" stop-color="#0f0f0f"/><stop offset="0.9991" stop-color="#151515"/></linearGradient>
<linearGradient id="c45" gradientUnits="userSpaceOnUse" x1="75" x2="622" y1="0" y2="0"><stop offset="0.0009" stop-color="#020202"/><stop offset="0.4854" stop-color="#000000"/><stop offset="0.5274" stop-color="#030303"/><stop offset="0.5420" stop-color="#0b0b0b"/><stop offset="0.5548" stop-color="#1c1c1c"/><stop offset="0.5676" stop-color="#3b3b3b"/><stop offset="0.5932" stop-color="#8b8b8b"/><stop offset="0.6024" stop-color="#9d9d9d"/><stop offset="0.6097" stop-color="#a2a2a2"/><stop offset="0.6170" stop-color="#9e9e9e"/><stop offset="0.6243" stop-color="#919191"/><stop offset="0.6316" stop-color="#7f7f7f"/><stop offset="0.6572" stop-color="#323232"/><stop offset="0.6664" stop-color="#1e1e1e"/><stop offset="0.6773" stop-color="#0f0f0f"/><stop offset="0.6883" stop-color="#060606"/><stop offset="0.7029" stop-color="#020202"/><stop offset="0.7596" stop-color="#020202"/><stop offset="0.7761" stop-color="#0a0a0a"/><stop offset="0.7907" stop-color="#1c1c1c"/><stop offset="0.7980" stop-color="#2b2b2b"/><stop offset="0.8053" stop-color="#3e3e3e"/><stop offset="0.8327" stop-color="#999999"/><stop offset="0.8437" stop-color="#b6b6b6"/><stop offset="0.8510" stop-color="#c4c4c4"/><stop offset="0.8583" stop-color="#cdcdcd"/><stop offset="0.8748" stop-color="#d5d5d5"/><stop offset="0.8912" stop-color="#cecece"/><stop offset="0.8985" stop-color="#c5c5c5"/><stop offset="0.9059" stop-color="#b7b7b7"/><stop offset="0.9168" stop-color="#9a9a9a"/><stop offset="0.9442" stop-color="#3f3f3f"/><stop offset="0.9516" stop-color="#2c2c2c"/><stop offset="0.9589" stop-color="#1f1f1f"/><stop offset="0.9644" stop-color="#191919"/><stop offset="0.9717" stop-color="#161616"/><stop offset="0.9991" stop-color="#171717"/></linearGradient>
<linearGradient id="c46" gradientUnits="userSpaceOnUse" x1="75" x2="622" y1="0" y2="0"><stop offset="0.0009" stop-color="#020202"/><stop offset="0.4817" stop-color="#000000"/><stop offset="0.5256" stop-color="#030303"/><stop offset="0.5420" stop-color="#0c0c0c"/><stop offset="0.5548" stop-color="#1e1e1e"/><stop offset="0.5676" stop-color="#3e3e3e"/><stop offset="0.5878" stop-color="#7f7f7f"/><stop offset="0.5951" stop-color="#949494"/><stop offset="0.6042" stop-color="#a5a5a5"/><stop offset="0.6115" stop-color="#a9a9a9"/><stop offset="0.6188" stop-color="#a5a5a5"/><stop offset="0.6261" stop-color="#989898"/><stop offset="0.6335" stop-color="#868686"/><stop offset="0.6517" stop-color="#4c4c4c"/><stop offset="0.6609" stop-color="#323232"/><stop offset="0.6700" stop-color="#1e1e1e"/><stop offset="0.6792" stop-color="#101010"/><stop offset="0.6901" stop-color="#070707"/><stop offset="0.7048" stop-color="#020202"/><stop offset="0.7559" stop-color="#020202"/><stop offset="0.7761" stop-color="#0d0d0d"/><stop offset="0.7852" stop-color="#191919"/><stop offset="0.7925" stop-color="#272727"/><stop offset="0.8053" stop-color="#494949"/><stop offset="0.8309" stop-color="#9e9e9e"/><stop offset="0.8437" stop-color="#bcbcbc"/><stop offset="0.8565" stop-color="#cbcbcb"/><stop offset="0.8729" stop-color="#cfcfcf"/><stop offset="0.8931" stop-color="#cbcbcb"/><stop offset="0.9004" stop-color="#c5c5c5"/><stop offset="0.9077" stop-color="#bababa"/><stop offset="0.9205" stop-color="#9a9a9a"/><stop offset="0.9479" stop-color="#414141"/><stop offset="0.9552" stop-color="#303030"/><stop offset="0.9607" stop-color="#262626"/><stop offset="0.9735" stop-color="#1b1b1b"/><stop offset="0.9991" stop-color="#191919"/></linearGradient>
<linearGradient id="c47" gradientUnits="userSpaceOnUse" x1="75" x2="622" y1="0" y2="0"><stop offset="0.0009" stop-color="#020202"/><stop offset="0.4835" stop-color="#000000"/><stop offset="0.5256" stop-color="#030303"/><stop offset="0.5420" stop-color="#0d0d0d"/><stop offset="0.5548" stop-color="#202020"/><stop offset="0.5676" stop-color="#404040"/><stop offset="0.5878" stop-color="#818181"/><stop offset="0.5969" stop-color="#9b9b9b"/><stop offset="0.6060" stop-color="#ababab"/><stop offset="0.6133" stop-color="#afafaf"/><stop offset="0.6207" stop-color="#ababab"/><stop offset="0.6298" stop-color="#9a9a9a"/><stop offset="0.6371" stop-color="#868686"/><stop offset="0.6627" stop-color="#363636"/><stop offset="0.6718" stop-color="#212121"/><stop offset="0.6810" stop-color="#121212"/><stop offset="0.6920" stop-color="#080808"/><stop offset="0.7066" stop-color="#020202"/><stop offset="0.7285" stop-color="#000000"/><stop offset="0.7523" stop-color="#020202"/><stop offset="0.7706" stop-color="#0b0b0b"/><stop offset="0.7852" stop-color="#1f1f1f"/><stop offset="0.7925" stop-color="#2f2f2f"/><stop offset="0.7998" stop-color="#434343"/><stop offset="0.8236" stop-color="#919191"/><stop offset="0.8327" stop-color="#aaaaaa"/><stop offset="0.8437" stop-color="#bebebe"/><stop offset="0.8565" stop-color="#c5c5c5"/><stop offset="0.8949" stop-color="#c4c4c4"/><stop offset="0.9077" stop-color="#bcbcbc"/><stop offset="0.9132" stop-color="#b3b3b3"/><stop offset="0.9205" stop-color="#a2a2a2"/><stop offset="0.9479" stop-color="#4d4d4d"/><stop offset="0.9607" stop-color="#2f2f2f"/><stop offset="0.9680" stop-color="#252525"/><stop offset="0.9771" stop-color="#1e1e1e"/><stop offset="0.9991" stop-color="#1a1a1a"/></linearGradient>
<linearGradient id="c48" gradientUnits="userSpaceOnUse" x1="75" x2="622" y1="0" y2="0"><stop offset="0.0009" stop-color="#020202"/><stop offset="0.4781" stop-color="#000000"/><stop offset="0.5238" stop-color="#030303"/><stop offset="0.5402" stop-color="#0c0c0c"/><stop offset="0.5548" stop-color="#212121"/><stop offset="0.5676" stop-color="#414141"/><stop offset="0.5878" stop-color="#828282"/><stop offset="0.5969" stop-color="#9c9c9c"/><stop offset="0.6060" stop-color="#adadad"/><stop offset="0.6152" stop-color="#b3b3b3"/><stop offset="0.6225" stop-color="#afafaf"/><stop offset="0.6316" stop-color="#9f9f9f"/><stop offset="0.6408" stop-color="#858585"/><stop offset="0.6645" stop-color="#3a3a3a"/><stop offset="0.6737" stop-color="#242424"/><stop offset="0.6828" stop-color="#141414"/><stop offset="0.6938" stop-color="#090909"/><stop offset="0.7066" stop-color="#030303"/><stop offset="0.7285" stop-color="#000000"/><stop offset="0.7486" stop-color="#020202"/><stop offset="0.7669" stop-color="#0b0b0b"/><stop offset="0.7815" stop-color="#1e1e1e"/><stop offset="0.7888" stop-color="#2e2e2e"/><stop offset="0.7962" stop-color="#414141"/><stop offset="0.8181" stop-color="#898989"/><stop offset="0.8272" stop-color="#a3a3a3"/><stop offset="0.8364" stop-color="#b4b4b4"/><stop offset="0.8473" stop-color="#bbbbbb"/><stop offset="0.8748" stop-color="#afafaf"/><stop offset="0.9004" stop-color="#bbbbbb"/><stop offset="0.9113" stop-color="#b6b6b6"/><stop offset="0.9168" stop-color="#afafaf"/><stop offset="0.9241" stop-color="#a0a0a0"/><stop offset="0.9516" stop-color="#4d4d4d"/><stop offset="0.9644" stop-color="#313131"/><stop offset="0.9717" stop-color="#262626"/><stop offset="0.9808" stop-color="#1e1e1e"/><stop offset="0.9991" stop-color="#191919"/></linearGradient>
<linearGradient id="c49" gradientUnits="userSpaceOnUse" x1="75" x2="622" y1="0" y2="0"><stop offset="0.0009" stop-color="#020202"/><stop offset="0.4799" stop-color="#000000"/><stop offset="0.5238" stop-color="#030303"/><stop offset="0.5402" stop-color="#0d0d0d"/><stop offset="0.5530" stop-color="#1f1f1f"/><stop offset="0.5658" stop-color="#3d3d3d"/><stop offset="0.5896" stop-color="#878787"/><stop offset="0.5987" stop-color="#9f9f9f"/><stop offset="0.6079" stop-color="#b0b0b0"/><stop offset="0.6170" stop-color="#b5b5b5"/><stop offset="0.6261" stop-color="#afafaf"/><stop offset="0.6353" stop-color="#9e9e9e"/><stop offset="0.6444" stop-color="#848484"/><stop offset="0.6645" stop-color="#434343"/><stop offset="0.6773" stop-color="#232323"/><stop offset="0.6901" stop-color="#101010"/><stop offset="0.7048" stop-color="#050505"/><stop offset="0.7249" stop-color="#010101"/><stop offset="0.7450" stop-color="#020202"/><stop offset="0.7596" stop-color="#080808"/><stop offset="0.7706" stop-color="#121212"/><stop offset="0.7797" stop-color="#212121"/><stop offset="0.7888" stop-color="#363636"/><stop offset="0.8144" stop-color="#868686"/><stop offset="0.8236" stop-color="#9f9f9f"/><stop offset="0.8327" stop-color="#aeaeae"/><stop offset="0.8400" stop-color="#b2b2b2"/><stop offset="0.8473" stop-color="#b0b0b0"/><stop offset="0.8656" stop-color="#9a9a9a"/><stop offset="0.8748" stop-color="#959595"/><stop offset="0.8839" stop-color="#999999"/><stop offset="0.9040" stop-color="#b1b1b1"/><stop offset="0.9113" stop-color="#b2b2b2"/><stop offset="0.9168" stop-color="#afafaf"/><stop offset="0.9223" stop-color="#a7a7a7"/><stop offset="0.9296" stop-color="#989898"/><stop offset="0.9552" stop-color="#4c4c4c"/><stop offset="0.9680" stop-color="#2f2f2f"/><stop offset="0.9826" stop-color="#1c1c1c"/><stop offset="0.9991" stop-color="#171717"/></linearGradient>
<linearGradient id="c50" gradientUnits="userSpaceOnUse" x1="75" x2="622" y1="0" y2="0"><stop offset="0.0009" stop-color="#020202"/><stop offset="0.4744" stop-color="#000000"/><stop offset="0.5219" stop-color="#030303"/><stop offset="0.5384" stop-color="#0c0c0c"/><stop offset="0.5530" stop-color="#202020"/><stop offset="0.5658" stop-color="#3d3d3d"/><stop offset="0.5896" stop-color="#848484"/><stop offset="0.5987" stop-color="#9c9c9c"/><stop offset="0.6097" stop-color="#afafaf"/><stop offset="0.6188" stop-color="#b5b5b5"/><stop offset="0.6280" stop-color="#afafaf"/><stop offset="0.6371" stop-color="#9f9f9f"/><stop offset="0.6463" stop-color="#878787"/><stop offset="0.6682" stop-color="#414141"/><stop offset="0.6810" stop-color="#222222"/><stop offset="0.6938" stop-color="#0f0f0f"/><stop offset="0.7084" stop-color="#050505"/><stop offset="0.7249" stop-color="#010101"/><stop offset="0.7431" stop-color="#030303"/><stop offset="0.7578" stop-color="#090909"/><stop offset="0.7687" stop-color="#141414"/><stop offset="0.7779" stop-color="#242424"/><stop offset="0.7870" stop-color="#393939"/><stop offset="0.8108" stop-color="#828282"/><stop offset="0.8181" stop-color="#969696"/><stop offset="0.8272" stop-color="#a7a7a7"/><stop offset="0.8346" stop-color="#ababab"/><stop offset="0.8400" stop-color="#a9a9a9"/><stop offset="0.8455" stop-color="#a3a3a3"/><stop offset="0.8656" stop-color="#7d7d7d"/><stop offset="0.8748" stop-color="#767676"/><stop offset="0.8839" stop-color="#7d7d7d"/><stop offset="0.9004" stop-color="#9d9d9d"/><stop offset="0.9077" stop-color="#a7a7a7"/><stop offset="0.9150" stop-color="#ababab"/><stop offset="0.9205" stop-color="#a9a9a9"/><stop offset="0.9260" stop-color="#a3a3a3"/><stop offset="0.9333" stop-color="#949494"/><stop offset="0.9589" stop-color="#484848"/><stop offset="0.9717" stop-color="#2a2a2a"/><stop offset="0.9845" stop-color="#181818"/><stop offset="0.9991" stop-color="#131313"/></linearGradient>
<linearGradient id="c51" gradientUnits="userSpaceOnUse" x1="75" x2="622" y1="0" y2="0"><stop offset="0.0009" stop-color="#020202"/><stop offset="0.4762" stop-color="#000000"/><stop offset="0.5219" stop-color="#030303"/><stop offset="0.5384" stop-color="#0d0d0d"/><stop offset="0.5512" stop-color="#1d1d1d"/><stop offset="0.5640" stop-color="#383838"/><stop offset="0.5896" stop-color="#7f7f7f"/><stop offset="0.6005" stop-color="#9a9a9a"/><stop offset="0.6115" stop-color="#acacac"/><stop offset="0.6225" stop-color="#b2b2b2"/><stop offset="0.6316" stop-color="#acacac"/><stop offset="0.6408" stop-color="#9c9c9c"/><stop offset="0.6499" stop-color="#848484"/><stop offset="0.6718" stop-color="#3f3f3f"/><stop offset="0.6828" stop-color="#252525"/><stop offset="0.6956" stop-color="#111111"/><stop offset="0.7102" stop-color="#060606"/><stop offset="0.7249" stop-color="#020202"/><stop offset="0.7413" stop-color="#030303"/><stop offset="0.7541" stop-color="#090909"/><stop offset="0.7651" stop-color="#141414"/><stop offset="0.7742" stop-color="#232323"/><stop offset="0.7834" stop-color="#373737"/><stop offset="0.8071" stop-color="#7f7f7f"/><stop offset="0.8144" stop-color="#929292"/><stop offset="0.8236" stop-color="#a2a2a2"/><stop offset="0.8309" stop-color="#a5a5a5"/><stop offset="0.8364" stop-color="#a3a3a3"/><stop offset="0.8437" stop-color="#989898"/><stop offset="0.8656" stop-color="#5f5f5f"/><stop offset="0.8711" stop-color="#565656"/><stop offset="0.8748" stop-color="#545454"/><stop offset="0.8784" stop-color="#555555"/><stop offset="0.8839" stop-color="#5e5e5e"/><stop offset="0.9022" stop-color="#8f8f8f"/><stop offset="0.9095" stop-color="#9d9d9d"/><stop offset="0.9186" stop-color="#a5a5a5"/><stop offset="0.9260" stop-color="#a2a2a2"/><stop offset="0.9314" stop-color="#9a9a9a"/><stop offset="0.9388" stop-color="#8a8a8a"/><stop offset="0.9644" stop-color="#3c3c3c"/><stop offset="0.9753" stop-color="#212121"/><stop offset="0.9863" stop-color="#111111"/><stop offset="0.9991" stop-color="#0d0d0d"/></linearGradient>
<linearGradient id="c52" gradientUnits="userSpaceOnUse" x1="75" x2="622" y1="0" y2="0"><stop offset="0.0009" stop-color="#020202"/><stop offset="0.4707" stop-color="#000000"/><stop offset="0.5201" stop-color="#030303"/><stop offset="0.5366" stop-color="#0c0c0c"/><stop offset="0.5494" stop-color="#1b1b1b"/><stop offset="0.5622" stop-color="#343434"/><stop offset="0.5896" stop-color="#797979"/><stop offset="0.6024" stop-color="#959595"/><stop offset="0.6152" stop-color="#a8a8a8"/><stop offset="0.6261" stop-color="#adadad"/><stop offset="0.6353" stop-color="#a8a8a8"/><stop offset="0.6444" stop-color="#989898"/><stop offset="0.6536" stop-color="#808080"/><stop offset="0.6755" stop-color="#3d3d3d"/><stop offset="0.6865" stop-color="#242424"/><stop offset="0.6993" stop-color="#101010"/><stop offset="0.7139" stop-color="#050505"/><stop offset="0.7267" stop-color="#020202"/><stop offset="0.7413" stop-color="#040404"/><stop offset="0.7523" stop-color="#0a0a0a"/><stop offset="0.7633" stop-color="#161616"/><stop offset="0.7724" stop-color="#252525"/><stop offset="0.7797" stop-color="#363636"/><stop offset="0.8108" stop-color="#8e8e8e"/><stop offset="0.8199" stop-color="#9d9d9d"/><stop offset="0.8272" stop-color="#a1a1a1"/><stop offset="0.8346" stop-color="#9b9b9b"/><stop offset="0.8419" stop-color="#8e8e8e"/><stop offset="0.8492" stop-color="#797979"/><stop offset="0.8675" stop-color="#3d3d3d"/><stop offset="0.8711" stop-color="#353535"/><stop offset="0.8748" stop-color="#313131"/><stop offset="0.8784" stop-color="#343434"/><stop offset="0.8821" stop-color="#3b3b3b"/><stop offset="0.9004" stop-color="#787878"/><stop offset="0.9095" stop-color="#919191"/><stop offset="0.9186" stop-color="#9e9e9e"/><stop offset="0.9278" stop-color="#9e9e9e"/><stop offset="0.9351" stop-color="#959595"/><stop offset="0.9424" stop-color="#848484"/><stop offset="0.9662" stop-color="#393939"/><stop offset="0.9771" stop-color="#1c1c1c"/><stop offset="0.9881" stop-color="#0a0a0a"/><stop offset="0.9991" stop-color="#050505"/></linearGradient>
<linearGradient id="c53" gradientUnits="userSpaceOnUse" x1="75" x2="622" y1="0" y2="0"><stop offset="0.0009" stop-color="#030303"/><stop offset="0.0777" stop-color="#000000"/><stop offset="0.4653" stop-color="#000000"/><stop offset="0.5183" stop-color="#030303"/><stop offset="0.5347" stop-color="#0b0b0b"/><stop offset="0.5494" stop-color="#1c1c1c"/><stop offset="0.5603" stop-color="#2f2f2f"/><stop offset="0.5878" stop-color="#6c6c6c"/><stop offset="0.6042" stop-color="#8c8c8c"/><stop offset="0.6188" stop-color="#a1a1a1"/><stop offset="0.6298" stop-color="#a7a7a7"/><stop offset="0.6389" stop-color="#a2a2a2"/><stop offset="0.6481" stop-color="#939393"/><stop offset="0.6572" stop-color="#7c7c7c"/><stop offset="0.6773" stop-color="#404040"/><stop offset="0.6901" stop-color="#222222"/><stop offset="0.7029" stop-color="#101010"/><stop offset="0.7176" stop-color="#050505"/><stop offset="0.7285" stop-color="#020202"/><stop offset="0.7395" stop-color="#050505"/><stop offset="0.7505" stop-color="#0b0b0b"/><stop offset="0.7614" stop-color="#171717"/><stop offset="0.7687" stop-color="#242424"/><stop offset="0.7779" stop-color="#383838"/><stop offset="0.8071" stop-color="#8a8a8a"/><stop offset="0.8163" stop-color="#999999"/><stop offset="0.8236" stop-color="#9d9d9d"/><stop offset="0.8327" stop-color="#959595"/><stop offset="0.8419" stop-color="#818181"/><stop offset="0.8510" stop-color="#646464"/><stop offset="0.8693" stop-color="#1f1f1f"/><stop offset="0.8748" stop-color="#121212"/><stop offset="0.8766" stop-color="#131313"/><stop offset="0.8803" stop-color="#1d1d1d"/><stop offset="0.8985" stop-color="#626262"/><stop offset="0.9095" stop-color="#858585"/><stop offset="0.9186" stop-color="#979797"/><stop offset="0.9278" stop-color="#9b9b9b"/><stop offset="0.9351" stop-color="#959595"/><stop offset="0.9442" stop-color="#828282"/><stop offset="0.9698" stop-color="#303030"/><stop offset="0.9790" stop-color="#181818"/><stop offset="0.9899" stop-color="#060606"/><stop offset="0.9991" stop-color="#020202"/></linearGradient>
<linearGradient id="c54" gradientUnits="userSpaceOnUse" x1="75" x2="622" y1="0" y2="0"><stop offset="0.0009" stop-color="#030303"/><stop offset="0.0795" stop-color="#000000"/><stop offset="0.4488" stop-color="#000000"/><stop offset="0.5165" stop-color="#030303"/><stop offset="0.5329" stop-color="#0a0a0a"/><stop offset="0.5475" stop-color="#191919"/><stop offset="0.5603" stop-color="#2e2e2e"/><stop offset="0.5878" stop-color="#636363"/><stop offset="0.6115" stop-color="#8a8a8a"/><stop offset="0.6243" stop-color="#9c9c9c"/><stop offset="0.6335" stop-color="#a1a1a1"/><stop offset="0.6426" stop-color="#9d9d9d"/><stop offset="0.6517" stop-color="#8e8e8e"/><stop offset="0.6609" stop-color="#777777"/><stop offset="0.6828" stop-color="#393939"/><stop offset="0.6956" stop-color="#1e1e1e"/><stop offset="0.7084" stop-color="#0d0d0d"/><stop offset="0.7249" stop-color="#020202"/><stop offset="0.7303" stop-color="#010101"/><stop offset="0.7431" stop-color="#080808"/><stop offset="0.7523" stop-color="#101010"/><stop offset="0.7614" stop-color="#1c1c1c"/><stop offset="0.7761" stop-color="#3b3b3b"/><stop offset="0.8035" stop-color="#868686"/><stop offset="0.8126" stop-color="#959595"/><stop offset="0.8199" stop-color="#9a9a9a"/><stop offset="0.8291" stop-color="#939393"/><stop offset="0.8382" stop-color="#818181"/><stop offset="0.8492" stop-color="#606060"/><stop offset="0.8693" stop-color="#181818"/><stop offset="0.8748" stop-color="#0a0a0a"/><stop offset="0.8766" stop-color="#0c0c0c"/><stop offset="0.8803" stop-color="#171717"/><stop offset="0.9022" stop-color="#646464"/><stop offset="0.9113" stop-color="#7f7f7f"/><stop offset="0.9205" stop-color="#929292"/><stop offset="0.9296" stop-color="#979797"/><stop offset="0.9369" stop-color="#929292"/><stop offset="0.9461" stop-color="#808080"/><stop offset="0.9534" stop-color="#6b6b6b"/><stop offset="0.9717" stop-color="#2e2e2e"/><stop offset="0.9808" stop-color="#171717"/><stop offset="0.9899" stop-color="#090909"/><stop offset="0.9991" stop-color="#060606"/></linearGradient>
<linearGradient id="c55" gradientUnits="userSpaceOnUse" x1="75" x2="622" y1="0" y2="0"><stop offset="0.0009" stop-color="#030303"/><stop offset="0.0941" stop-color="#000000"/><stop offset="0.4762" stop-color="#000000"/><stop offset="0.5146" stop-color="#030303"/><stop offset="0.5311" stop-color="#090909"/><stop offset="0.5457" stop-color="#171717"/><stop offset="0.5804" stop-color="#4e4e4e"/><stop offset="0.6042" stop-color="#6e6e6e"/><stop offset="0.6243" stop-color="#8f8f8f"/><stop offset="0.6316" stop-color="#989898"/><stop offset="0.6389" stop-color="#9b9b9b"/><stop offset="0.6463" stop-color="#979797"/><stop offset="0.6554" stop-color="#898989"/><stop offset="0.6645" stop-color="#737373"/><stop offset="0.6846" stop-color="#3b3b3b"/><stop offset="0.6974" stop-color="#202020"/><stop offset="0.7102" stop-color="#0e0e0e"/><stop offset="0.7267" stop-color="#020202"/><stop offset="0.7413" stop-color="#080808"/><stop offset="0.7578" stop-color="#1b1b1b"/><stop offset="0.7724" stop-color="#383838"/><stop offset="0.7943" stop-color="#747474"/><stop offset="0.8016" stop-color="#868686"/><stop offset="0.8108" stop-color="#949494"/><stop offset="0.8181" stop-color="#979797"/><stop offset="0.8254" stop-color="#929292"/><stop offset="0.8327" stop-color="#868686"/><stop offset="0.8419" stop-color="#6f6f6f"/><stop offset="0.8638" stop-color="#2e2e2e"/><stop offset="0.8693" stop-color="#232323"/><stop offset="0.8748" stop-color="#1e1e1e"/><stop offset="0.8803" stop-color="#222222"/><stop offset="0.8857" stop-color="#2d2d2d"/><stop offset="0.9095" stop-color="#737373"/><stop offset="0.9186" stop-color="#888888"/><stop offset="0.9278" stop-color="#939393"/><stop offset="0.9369" stop-color="#929292"/><stop offset="0.9424" stop-color="#8a8a8a"/><stop offset="0.9497" stop-color="#7a7a7a"/><stop offset="0.9735" stop-color="#2f2f2f"/><stop offset="0.9826" stop-color="#171717"/><stop offset="0.9918" stop-color="#080808"/><stop offset="0.9991" stop-color="#060606"/></linearGradient>
<linearGradient id="c56" gradientUnits="userSpaceOnUse" x1="75" x2="622" y1="0" y2="0"><stop offset="0.0009" stop-color="#030303"/><stop offset="0.0941" stop-color="#000000"/><stop offset="0.4744" stop-color="#000000"/><stop offset="0.5146" stop-color="#030303"/><stop offset="0.5311" stop-color="#0a0a0a"/><stop offset="0.5457" stop-color="#171717"/><stop offset="0.5768" stop-color="#414141"/><stop offset="0.6024" stop-color="#595959"/><stop offset="0.6115" stop-color="#686868"/><stop offset="0.6298" stop-color="#8b8b8b"/><stop offset="0.6371" stop-color="#939393"/><stop offset="0.6426" stop-color="#959595"/><stop offset="0.6499" stop-color="#929292"/><stop offset="0.6590" stop-color="#848484"/><stop offset="0.6664" stop-color="#747474"/><stop offset="0.6883" stop-color="#393939"/><stop offset="0.7011" stop-color="#1f1f1f"/><stop offset="0.7139" stop-color="#0e0e0e"/><stop offset="0.7285" stop-color="#060606"/><stop offset="0.7431" stop-color="#0d0d0d"/><stop offset="0.7578" stop-color="#202020"/><stop offset="0.7706" stop-color="#3b3b3b"/><stop offset="0.7962" stop-color="#7e7e7e"/><stop offset="0.8035" stop-color="#8c8c8c"/><stop offset="0.8108" stop-color="#949494"/><stop offset="0.8181" stop-color="#949494"/><stop offset="0.8272" stop-color="#8a8a8a"/><stop offset="0.8364" stop-color="#777777"/><stop offset="0.8601" stop-color="#3a3a3a"/><stop offset="0.8675" stop-color="#2e2e2e"/><stop offset="0.8748" stop-color="#292929"/><stop offset="0.8821" stop-color="#2e2e2e"/><stop offset="0.8894" stop-color="#393939"/><stop offset="0.9132" stop-color="#767676"/><stop offset="0.9223" stop-color="#898989"/><stop offset="0.9296" stop-color="#919191"/><stop offset="0.9369" stop-color="#919191"/><stop offset="0.9442" stop-color="#8a8a8a"/><stop offset="0.9516" stop-color="#7b7b7b"/><stop offset="0.9771" stop-color="#2c2c2c"/><stop offset="0.9863" stop-color="#141414"/><stop offset="0.9936" stop-color="#050505"/><stop offset="0.9991" stop-color="#030303"/></linearGradient>
<linearGradient id="c57" gradientUnits="userSpaceOnUse" x1="75" x2="622" y1="0" y2="0"><stop offset="0.0009" stop-color="#030303"/><stop offset="0.0960" stop-color="#000000"/><stop offset="0.4707" stop-color="#000000"/><stop offset="0.5128" stop-color="#030303"/><stop offset="0.5256" stop-color="#070707"/><stop offset="0.5384" stop-color="#101010"/><stop offset="0.5750" stop-color="#383838"/><stop offset="0.6024" stop-color="#464646"/><stop offset="0.6115" stop-color="#545454"/><stop offset="0.6335" stop-color="#858585"/><stop offset="0.6408" stop-color="#8f8f8f"/><stop offset="0.6463" stop-color="#919191"/><stop offset="0.6536" stop-color="#8e8e8e"/><stop offset="0.6627" stop-color="#808080"/><stop offset="0.6920" stop-color="#373737"/><stop offset="0.7048" stop-color="#1e1e1e"/><stop offset="0.7194" stop-color="#0e0e0e"/><stop offset="0.7322" stop-color="#0b0b0b"/><stop offset="0.7431" stop-color="#111111"/><stop offset="0.7559" stop-color="#222222"/><stop offset="0.7669" stop-color="#393939"/><stop offset="0.7962" stop-color="#828282"/><stop offset="0.8053" stop-color="#8f8f8f"/><stop offset="0.8126" stop-color="#939393"/><stop offset="0.8199" stop-color="#8f8f8f"/><stop offset="0.8272" stop-color="#858585"/><stop offset="0.8528" stop-color="#484848"/><stop offset="0.8601" stop-color="#3a3a3a"/><stop offset="0.8675" stop-color="#303030"/><stop offset="0.8748" stop-color="#2d2d2d"/><stop offset="0.8821" stop-color="#303030"/><stop offset="0.8912" stop-color="#3c3c3c"/><stop offset="0.9168" stop-color="#787878"/><stop offset="0.9260" stop-color="#898989"/><stop offset="0.9333" stop-color="#909090"/><stop offset="0.9406" stop-color="#909090"/><stop offset="0.9479" stop-color="#878787"/><stop offset="0.9552" stop-color="#787878"/><stop offset="0.9881" stop-color="#181818"/><stop offset="0.9936" stop-color="#0e0e0e"/><stop offset="0.9991" stop-color="#0d0d0d"/></linearGradient>
<linearGradient id="c58" gradientUnits="userSpaceOnUse" x1="75" x2="622" y1="0" y2="0"><stop offset="0.0009" stop-color="#030303"/><stop offset="0.0978" stop-color="#000000"/><stop offset="0.4689" stop-color="#000000"/><stop offset="0.5110" stop-color="#030303"/><stop offset="0.5347" stop-color="#0d0d0d"/><stop offset="0.5731" stop-color="#313131"/><stop offset="0.5823" stop-color="#333333"/><stop offset="0.5969" stop-color="#303030"/><stop offset="0.6024" stop-color="#323232"/><stop offset="0.6115" stop-color="#414141"/><stop offset="0.6353" stop-color="#7f7f7f"/><stop offset="0.6426" stop-color="#8a8a8a"/><stop offset="0.6499" stop-color="#8e8e8e"/><stop offset="0.6572" stop-color="#8a8a8a"/><stop offset="0.6664" stop-color="#7c7c7c"/><stop offset="0.6938" stop-color="#393939"/><stop offset="0.7048" stop-color="#232323"/><stop offset="0.7139" stop-color="#171717"/><stop offset="0.7249" stop-color="#101010"/><stop offset="0.7395" stop-color="#131313"/><stop offset="0.7523" stop-color="#212121"/><stop offset="0.7651" stop-color="#3b3b3b"/><stop offset="0.7925" stop-color="#7e7e7e"/><stop offset="0.8016" stop-color="#8d8d8d"/><stop offset="0.8090" stop-color="#919191"/><stop offset="0.8163" stop-color="#8f8f8f"/><stop offset="0.8236" stop-color="#868686"/><stop offset="0.8309" stop-color="#787878"/><stop offset="0.8492" stop-color="#4b4b4b"/><stop offset="0.8583" stop-color="#383838"/><stop offset="0.8675" stop-color="#2c2c2c"/><stop offset="0.8748" stop-color="#282828"/><stop offset="0.8821" stop-color="#2c2c2c"/><stop offset="0.8912" stop-color="#373737"/><stop offset="0.9004" stop-color="#4a4a4a"/><stop offset="0.9186" stop-color="#777777"/><stop offset="0.9278" stop-color="#888888"/><stop offset="0.9369" stop-color="#909090"/><stop offset="0.9442" stop-color="#8f8f8f"/><stop offset="0.9516" stop-color="#878787"/><stop offset="0.9589" stop-color="#787878"/><stop offset="0.9808" stop-color="#3b3b3b"/><stop offset="0.9881" stop-color="#292929"/><stop offset="0.9936" stop-color="#222222"/><stop offset="0.9991" stop-color="#212121"/></linearGradient>
<linearGradient id="c59" gradientUnits="userSpaceOnUse" x1="75" x2="622" y1="0" y2="0"><stop offset="0.0009" stop-color="#040404"/><stop offset="0.0996" stop-color="#000000"/><stop offset="0.4671" stop-color="#000000"/><stop offset="0.5091" stop-color="#030303"/><stop offset="0.5329" stop-color="#0c0c0c"/><stop offset="0.5622" stop-color="#262626"/><stop offset="0.5713" stop-color="#2b2b2b"/><stop offset="0.5804" stop-color="#2b2b2b"/><stop offset="0.5969" stop-color="#1d1d1d"/><stop offset="0.6024" stop-color="#1e1e1e"/><stop offset="0.6060" stop-color="#232323"/><stop offset="0.6115" stop-color="#303030"/><stop offset="0.6280" stop-color="#636363"/><stop offset="0.6353" stop-color="#777777"/><stop offset="0.6444" stop-color="#878787"/><stop offset="0.6517" stop-color="#8b8b8b"/><stop offset="0.6590" stop-color="#898989"/><stop offset="0.6682" stop-color="#7c7c7c"/><stop offset="0.6956" stop-color="#3b3b3b"/><stop offset="0.7066" stop-color="#252525"/><stop offset="0.7176" stop-color="#171717"/><stop offset="0.7267" stop-color="#121212"/><stop offset="0.7377" stop-color="#151515"/><stop offset="0.7505" stop-color="#232323"/><stop offset="0.7614" stop-color="#393939"/><stop offset="0.7907" stop-color="#7e7e7e"/><stop offset="0.7998" stop-color="#8c8c8c"/><stop offset="0.8071" stop-color="#8f8f8f"/><stop offset="0.8144" stop-color="#8d8d8d"/><stop offset="0.8236" stop-color="#818181"/><stop offset="0.8565" stop-color="#343434"/><stop offset="0.8656" stop-color="#242424"/><stop offset="0.8729" stop-color="#1e1e1e"/><stop offset="0.8803" stop-color="#202020"/><stop offset="0.8894" stop-color="#2c2c2c"/><stop offset="0.8985" stop-color="#3f3f3f"/><stop offset="0.9241" stop-color="#7e7e7e"/><stop offset="0.9333" stop-color="#8d8d8d"/><stop offset="0.9406" stop-color="#929292"/><stop offset="0.9479" stop-color="#919191"/><stop offset="0.9552" stop-color="#898989"/><stop offset="0.9644" stop-color="#777777"/><stop offset="0.9863" stop-color="#434343"/><stop offset="0.9918" stop-color="#3c3c3c"/><stop offset="0.9991" stop-color="#3a3a3a"/></linearGradient>
<linearGradient id="c60" gradientUnits="userSpaceOnUse" x1="75" x2="622" y1="0" y2="0"><stop offset="0.0009" stop-color="#040404"/><stop offset="0.0941" stop-color="#000000"/><stop offset="0.4927" stop-color="#010101"/><stop offset="0.5256" stop-color="#080808"/><stop offset="0.5622" stop-color="#242424"/><stop offset="0.5731" stop-color="#272727"/><stop offset="0.5841" stop-color="#212121"/><stop offset="0.6005" stop-color="#090909"/><stop offset="0.6079" stop-color="#191919"/><stop offset="0.6261" stop-color="#565656"/><stop offset="0.6353" stop-color="#717171"/><stop offset="0.6444" stop-color="#838383"/><stop offset="0.6536" stop-color="#8a8a8a"/><stop offset="0.6609" stop-color="#888888"/><stop offset="0.6682" stop-color="#7f7f7f"/><stop offset="0.6773" stop-color="#6d6d6d"/><stop offset="0.6974" stop-color="#3c3c3c"/><stop offset="0.7066" stop-color="#292929"/><stop offset="0.7176" stop-color="#191919"/><stop offset="0.7285" stop-color="#111111"/><stop offset="0.7377" stop-color="#151515"/><stop offset="0.7486" stop-color="#242424"/><stop offset="0.7596" stop-color="#3a3a3a"/><stop offset="0.7870" stop-color="#7b7b7b"/><stop offset="0.7962" stop-color="#898989"/><stop offset="0.8035" stop-color="#8e8e8e"/><stop offset="0.8126" stop-color="#8b8b8b"/><stop offset="0.8218" stop-color="#7f7f7f"/><stop offset="0.8309" stop-color="#6c6c6c"/><stop offset="0.8601" stop-color="#242424"/><stop offset="0.8693" stop-color="#141414"/><stop offset="0.8748" stop-color="#101010"/><stop offset="0.8821" stop-color="#161616"/><stop offset="0.8912" stop-color="#272727"/><stop offset="0.9278" stop-color="#818181"/><stop offset="0.9351" stop-color="#8d8d8d"/><stop offset="0.9424" stop-color="#949494"/><stop offset="0.9497" stop-color="#959595"/><stop offset="0.9570" stop-color="#8f8f8f"/><stop offset="0.9644" stop-color="#858585"/><stop offset="0.9863" stop-color="#5d5d5d"/><stop offset="0.9918" stop-color="#585858"/><stop offset="0.9991" stop-color="#565656"/></linearGradient>
<linearGradient id="c61" gradientUnits="userSpaceOnUse" x1="75" x2="622" y1="0" y2="0"><stop offset="0.0009" stop-color="#040404"/><stop offset="0.0686" stop-color="#000000"/><stop offset="0.4890" stop-color="#000000"/><stop offset="0.5238" stop-color="#080808"/><stop offset="0.5603" stop-color="#222222"/><stop offset="0.5713" stop-color="#262626"/><stop offset="0.5823" stop-color="#212121"/><stop offset="0.5969" stop-color="#0c0c0c"/><stop offset="0.6005" stop-color="#0a0a0a"/><stop offset="0.6079" stop-color="#1a1a1a"/><stop offset="0.6280" stop-color="#5a5a5a"/><stop offset="0.6371" stop-color="#727272"/><stop offset="0.6481" stop-color="#858585"/><stop offset="0.6572" stop-color="#8a8a8a"/><stop offset="0.6645" stop-color="#868686"/><stop offset="0.6718" stop-color="#7c7c7c"/><stop offset="0.6810" stop-color="#6a6a6a"/><stop offset="0.7011" stop-color="#393939"/><stop offset="0.7121" stop-color="#222222"/><stop offset="0.7230" stop-color="#101010"/><stop offset="0.7303" stop-color="#0d0d0d"/><stop offset="0.7377" stop-color="#141414"/><stop offset="0.7486" stop-color="#272727"/><stop offset="0.7779" stop-color="#6c6c6c"/><stop offset="0.7870" stop-color="#7e7e7e"/><stop offset="0.7962" stop-color="#8a8a8a"/><stop offset="0.8035" stop-color="#8d8d8d"/><stop offset="0.8126" stop-color="#888888"/><stop offset="0.8218" stop-color="#7a7a7a"/><stop offset="0.8583" stop-color="#232323"/><stop offset="0.8748" stop-color="#040404"/><stop offset="0.8803" stop-color="#0b0b0b"/><stop offset="0.8931" stop-color="#262626"/><stop offset="0.9278" stop-color="#7e7e7e"/><stop offset="0.9351" stop-color="#8c8c8c"/><stop offset="0.9424" stop-color="#969696"/><stop offset="0.9497" stop-color="#9a9a9a"/><stop offset="0.9589" stop-color="#989898"/><stop offset="0.9863" stop-color="#787878"/><stop offset="0.9991" stop-color="#747474"/></linearGradient>
<linearGradient id="c62" gradientUnits="userSpaceOnUse" x1="75" x2="622" y1="0" y2="0"><stop offset="0.0009" stop-color="#040404"/><stop offset="0.0686" stop-color="#000000"/><stop offset="0.4799" stop-color="#000000"/><stop offset="0.5055" stop-color="#030303"/><stop offset="0.5293" stop-color="#0b0b0b"/><stop offset="0.5676" stop-color="#252525"/><stop offset="0.5786" stop-color="#252525"/><stop offset="0.5951" stop-color="#1b1b1b"/><stop offset="0.6024" stop-color="#1d1d1d"/><stop offset="0.6115" stop-color="#2e2e2e"/><stop offset="0.6298" stop-color="#606060"/><stop offset="0.6389" stop-color="#767676"/><stop offset="0.6481" stop-color="#848484"/><stop offset="0.6572" stop-color="#8a8a8a"/><stop offset="0.6664" stop-color="#868686"/><stop offset="0.6773" stop-color="#767676"/><stop offset="0.7121" stop-color="#242424"/><stop offset="0.7285" stop-color="#040404"/><stop offset="0.7322" stop-color="#070707"/><stop offset="0.7450" stop-color="#212121"/><stop offset="0.7815" stop-color="#777777"/><stop offset="0.7907" stop-color="#868686"/><stop offset="0.7998" stop-color="#8b8b8b"/><stop offset="0.8090" stop-color="#888888"/><stop offset="0.8181" stop-color="#7c7c7c"/><stop offset="0.8272" stop-color="#6a6a6a"/><stop offset="0.8565" stop-color="#262626"/><stop offset="0.8675" stop-color="#131313"/><stop offset="0.8748" stop-color="#0d0d0d"/><stop offset="0.8821" stop-color="#131313"/><stop offset="0.8931" stop-color="#252525"/><stop offset="0.9040" stop-color="#3e3e3e"/><stop offset="0.9314" stop-color="#838383"/><stop offset="0.9388" stop-color="#919191"/><stop offset="0.9461" stop-color="#9b9b9b"/><stop offset="0.9534" stop-color="#a1a1a1"/><stop offset="0.9625" stop-color="#a1a1a1"/><stop offset="0.9881" stop-color="#919191"/><stop offset="0.9991" stop-color="#8f8f8f"/></linearGradient>
<linearGradient id="c63" gradientUnits="userSpaceOnUse" x1="75" x2="622" y1="0" y2="0"><stop offset="0.0009" stop-color="#040404"/><stop offset="0.0686" stop-color="#000000"/><stop offset="0.4781" stop-color="#000000"/><stop offset="0.5073" stop-color="#040404"/><stop offset="0.5311" stop-color="#0c0c0c"/><stop offset="0.5676" stop-color="#272727"/><stop offset="0.5932" stop-color="#282828"/><stop offset="0.6005" stop-color="#2b2b2b"/><stop offset="0.6115" stop-color="#3a3a3a"/><stop offset="0.6335" stop-color="#6b6b6b"/><stop offset="0.6426" stop-color="#7d7d7d"/><stop offset="0.6517" stop-color="#888888"/><stop offset="0.6590" stop-color="#8b8b8b"/><stop offset="0.6682" stop-color="#868686"/><stop offset="0.6792" stop-color="#767676"/><stop offset="0.7157" stop-color="#212121"/><stop offset="0.7230" stop-color="#121212"/><stop offset="0.7285" stop-color="#0c0c0c"/><stop offset="0.7322" stop-color="#0e0e0e"/><stop offset="0.7395" stop-color="#1b1b1b"/><stop offset="0.7797" stop-color="#787878"/><stop offset="0.7888" stop-color="#858585"/><stop offset="0.7980" stop-color="#8a8a8a"/><stop offset="0.8071" stop-color="#878787"/><stop offset="0.8163" stop-color="#7b7b7b"/><stop offset="0.8254" stop-color="#6a6a6a"/><stop offset="0.8473" stop-color="#383838"/><stop offset="0.8583" stop-color="#242424"/><stop offset="0.8675" stop-color="#1a1a1a"/><stop offset="0.8766" stop-color="#171717"/><stop offset="0.8876" stop-color="#1f1f1f"/><stop offset="0.8985" stop-color="#313131"/><stop offset="0.9095" stop-color="#494949"/><stop offset="0.9351" stop-color="#888888"/><stop offset="0.9497" stop-color="#a1a1a1"/><stop offset="0.9570" stop-color="#a8a8a8"/><stop offset="0.9662" stop-color="#acacac"/><stop offset="0.9991" stop-color="#a6a6a6"/></linearGradient>
<linearGradient id="c64" gradientUnits="userSpaceOnUse" x1="75" x2="622" y1="0" y2="0"><stop offset="0.0009" stop-color="#040404"/><stop offset="0.0704" stop-color="#000000"/><stop offset="0.4744" stop-color="#010101"/><stop offset="0.5091" stop-color="#040404"/><stop offset="0.5293" stop-color="#0c0c0c"/><stop offset="0.5658" stop-color="#282828"/><stop offset="0.6005" stop-color="#383838"/><stop offset="0.6133" stop-color="#484848"/><stop offset="0.6426" stop-color="#7e7e7e"/><stop offset="0.6517" stop-color="#888888"/><stop offset="0.6590" stop-color="#8b8b8b"/><stop offset="0.6682" stop-color="#888888"/><stop offset="0.6792" stop-color="#7b7b7b"/><stop offset="0.6883" stop-color="#696969"/><stop offset="0.7139" stop-color="#2f2f2f"/><stop offset="0.7212" stop-color="#222222"/><stop offset="0.7267" stop-color="#1d1d1d"/><stop offset="0.7340" stop-color="#1f1f1f"/><stop offset="0.7413" stop-color="#292929"/><stop offset="0.7706" stop-color="#6a6a6a"/><stop offset="0.7797" stop-color="#7b7b7b"/><stop offset="0.7888" stop-color="#868686"/><stop offset="0.7962" stop-color="#8a8a8a"/><stop offset="0.8053" stop-color="#868686"/><stop offset="0.8144" stop-color="#7b7b7b"/><stop offset="0.8455" stop-color="#3a3a3a"/><stop offset="0.8565" stop-color="#282828"/><stop offset="0.8675" stop-color="#1d1d1d"/><stop offset="0.8766" stop-color="#1b1b1b"/><stop offset="0.8876" stop-color="#212121"/><stop offset="0.9004" stop-color="#333333"/><stop offset="0.9113" stop-color="#4a4a4a"/><stop offset="0.9388" stop-color="#8e8e8e"/><stop offset="0.9534" stop-color="#a8a8a8"/><stop offset="0.9625" stop-color="#b1b1b1"/><stop offset="0.9717" stop-color="#b6b6b6"/><stop offset="0.9991" stop-color="#b8b8b8"/></linearGradient>
<linearGradient id="c65" gradientUnits="userSpaceOnUse" x1="75" x2="622" y1="0" y2="0"><stop offset="0.0009" stop-color="#040404"/><stop offset="0.0722" stop-color="#010101"/><stop offset="0.4671" stop-color="#010101"/><stop offset="0.5128" stop-color="#050505"/><stop offset="0.5329" stop-color="#0e0e0e"/><stop offset="0.5676" stop-color="#2d2d2d"/><stop offset="0.6005" stop-color="#424242"/><stop offset="0.6152" stop-color="#535353"/><stop offset="0.6444" stop-color="#808080"/><stop offset="0.6536" stop-color="#898989"/><stop offset="0.6609" stop-color="#8c8c8c"/><stop offset="0.6682" stop-color="#8a8a8a"/><stop offset="0.6773" stop-color="#818181"/><stop offset="0.6865" stop-color="#727272"/><stop offset="0.7139" stop-color="#3c3c3c"/><stop offset="0.7212" stop-color="#323232"/><stop offset="0.7285" stop-color="#2e2e2e"/><stop offset="0.7358" stop-color="#313131"/><stop offset="0.7431" stop-color="#3a3a3a"/><stop offset="0.7706" stop-color="#707070"/><stop offset="0.7815" stop-color="#818181"/><stop offset="0.7907" stop-color="#888888"/><stop offset="0.7998" stop-color="#888888"/><stop offset="0.8071" stop-color="#828282"/><stop offset="0.8163" stop-color="#747474"/><stop offset="0.8437" stop-color="#3b3b3b"/><stop offset="0.8547" stop-color="#292929"/><stop offset="0.8656" stop-color="#1d1d1d"/><stop offset="0.8766" stop-color="#1a1a1a"/><stop offset="0.8894" stop-color="#212121"/><stop offset="0.9022" stop-color="#343434"/><stop offset="0.9132" stop-color="#4b4b4b"/><stop offset="0.9424" stop-color="#939393"/><stop offset="0.9570" stop-color="#adadad"/><stop offset="0.9662" stop-color="#b8b8b8"/><stop offset="0.9753" stop-color="#bebebe"/><stop offset="0.9991" stop-color="#c3c3c3"/></linearGradient>
<linearGradient id="c66" gradientUnits="userSpaceOnUse" x1="75" x2="622" y1="0" y2="0"><stop offset="0.0009" stop-color="#040404"/><stop offset="0.0320" stop-color="#050505"/><stop offset="0.0759" stop-color="#020202"/><stop offset="0.4616" stop-color="#020202"/><stop offset="0.5146" stop-color="#050505"/><stop offset="0.5329" stop-color="#0f0f0f"/><stop offset="0.5695" stop-color="#333333"/><stop offset="0.6042" stop-color="#4c4c4c"/><stop offset="0.6188" stop-color="#5c5c5c"/><stop offset="0.6463" stop-color="#818181"/><stop offset="0.6554" stop-color="#898989"/><stop offset="0.6627" stop-color="#8c8c8c"/><stop offset="0.6700" stop-color="#8a8a8a"/><stop offset="0.6792" stop-color="#828282"/><stop offset="0.7121" stop-color="#4b4b4b"/><stop offset="0.7212" stop-color="#414141"/><stop offset="0.7285" stop-color="#3e3e3e"/><stop offset="0.7358" stop-color="#404040"/><stop offset="0.7450" stop-color="#494949"/><stop offset="0.7706" stop-color="#757575"/><stop offset="0.7797" stop-color="#818181"/><stop offset="0.7888" stop-color="#888888"/><stop offset="0.7980" stop-color="#878787"/><stop offset="0.8053" stop-color="#818181"/><stop offset="0.8144" stop-color="#747474"/><stop offset="0.8419" stop-color="#3b3b3b"/><stop offset="0.8547" stop-color="#252525"/><stop offset="0.8675" stop-color="#161616"/><stop offset="0.8766" stop-color="#131313"/><stop offset="0.8876" stop-color="#1a1a1a"/><stop offset="0.9022" stop-color="#303030"/><stop offset="0.9150" stop-color="#4b4b4b"/><stop offset="0.9442" stop-color="#939393"/><stop offset="0.9589" stop-color="#aeaeae"/><stop offset="0.9771" stop-color="#c1c1c1"/><stop offset="0.9991" stop-color="#c7c7c7"/></linearGradient>
<linearGradient id="c67" gradientUnits="userSpaceOnUse" x1="75" x2="622" y1="0" y2="0"><stop offset="0.0009" stop-color="#030303"/><stop offset="0.0320" stop-color="#060606"/><stop offset="0.0814" stop-color="#030303"/><stop offset="0.5146" stop-color="#040404"/><stop offset="0.5329" stop-color="#101010"/><stop offset="0.5731" stop-color="#3a3a3a"/><stop offset="0.6133" stop-color="#565656"/><stop offset="0.6517" stop-color="#848484"/><stop offset="0.6664" stop-color="#8b8b8b"/><stop offset="0.6810" stop-color="#828282"/><stop offset="0.7121" stop-color="#545454"/><stop offset="0.7212" stop-color="#4b4b4b"/><stop offset="0.7285" stop-color="#494949"/><stop offset="0.7358" stop-color="#4a4a4a"/><stop offset="0.7450" stop-color="#525252"/><stop offset="0.7706" stop-color="#797979"/><stop offset="0.7797" stop-color="#838383"/><stop offset="0.7888" stop-color="#888888"/><stop offset="0.7980" stop-color="#868686"/><stop offset="0.8053" stop-color="#7f7f7f"/><stop offset="0.8144" stop-color="#717171"/><stop offset="0.8437" stop-color="#343434"/><stop offset="0.8565" stop-color="#1d1d1d"/><stop offset="0.8693" stop-color="#0c0c0c"/><stop offset="0.8766" stop-color="#090909"/><stop offset="0.8894" stop-color="#171717"/><stop offset="0.9040" stop-color="#303030"/><stop offset="0.9168" stop-color="#4b4b4b"/><stop offset="0.9442" stop-color="#8d8d8d"/><stop offset="0.9607" stop-color="#ababab"/><stop offset="0.9790" stop-color="#bebebe"/><stop offset="0.9991" stop-color="#c3c3c3"/></linearGradient>
<linearGradient id="c68" gradientUnits="userSpaceOnUse" x1="75" x2="622" y1="0" y2="0"><stop offset="0.0009" stop-color="#020202"/><stop offset="0.0375" stop-color="#080808"/><stop offset="0.0850" stop-color="#050505"/><stop offset="0.4854" stop-color="#050505"/><stop offset="0.5128" stop-color="#020202"/><stop offset="0.5293" stop-color="#0e0e0e"/><stop offset="0.5731" stop-color="#3e3e3e"/><stop offset="0.6188" stop-color="#575757"/><stop offset="0.6536" stop-color="#828282"/><stop offset="0.6682" stop-color="#8a8a8a"/><stop offset="0.6828" stop-color="#828282"/><stop offset="0.7139" stop-color="#565656"/><stop offset="0.7285" stop-color="#4d4d4d"/><stop offset="0.7431" stop-color="#555555"/><stop offset="0.7687" stop-color="#797979"/><stop offset="0.7779" stop-color="#838383"/><stop offset="0.7870" stop-color="#888888"/><stop offset="0.7962" stop-color="#858585"/><stop offset="0.8035" stop-color="#7e7e7e"/><stop offset="0.8126" stop-color="#717171"/><stop offset="0.8419" stop-color="#353535"/><stop offset="0.8547" stop-color="#1e1e1e"/><stop offset="0.8748" stop-color="#030303"/><stop offset="0.8876" stop-color="#121212"/><stop offset="0.9040" stop-color="#2c2c2c"/><stop offset="0.9442" stop-color="#858585"/><stop offset="0.9607" stop-color="#a3a3a3"/><stop offset="0.9790" stop-color="#b5b5b5"/><stop offset="0.9991" stop-color="#bababa"/></linearGradient>
<linearGradient id="c69" gradientUnits="userSpaceOnUse" x1="75" x2="622" y1="0" y2="0"><stop offset="0.0009" stop-color="#010101"/><stop offset="0.0411" stop-color="#0a0a0a"/><stop offset="0.0905" stop-color="#070707"/><stop offset="0.4781" stop-color="#080808"/><stop offset="0.5110" stop-color="#020202"/><stop offset="0.5256" stop-color="#0d0d0d"/><stop offset="0.5567" stop-color="#323232"/><stop offset="0.5713" stop-color="#404040"/><stop offset="0.5859" stop-color="#464646"/><stop offset="0.6097" stop-color="#494949"/><stop offset="0.6207" stop-color="#4f4f4f"/><stop offset="0.6298" stop-color="#595959"/><stop offset="0.6554" stop-color="#7e7e7e"/><stop offset="0.6700" stop-color="#878787"/><stop offset="0.6846" stop-color="#808080"/><stop offset="0.7157" stop-color="#535353"/><stop offset="0.7285" stop-color="#4a4a4a"/><stop offset="0.7358" stop-color="#4d4d4d"/><stop offset="0.7431" stop-color="#545454"/><stop offset="0.7669" stop-color="#787878"/><stop offset="0.7761" stop-color="#828282"/><stop offset="0.7852" stop-color="#878787"/><stop offset="0.7943" stop-color="#848484"/><stop offset="0.8016" stop-color="#7e7e7e"/><stop offset="0.8108" stop-color="#717171"/><stop offset="0.8400" stop-color="#373737"/><stop offset="0.8528" stop-color="#212121"/><stop offset="0.8656" stop-color="#111111"/><stop offset="0.8766" stop-color="#0d0d0d"/><stop offset="0.8894" stop-color="#161616"/><stop offset="0.9040" stop-color="#2b2b2b"/><stop offset="0.9442" stop-color="#7c7c7c"/><stop offset="0.9607" stop-color="#979797"/><stop offset="0.9790" stop-color="#a8a8a8"/><stop offset="0.9991" stop-color="#acacac"/></linearGradient>
<linearGradient id="c70" gradientUnits="userSpaceOnUse" x1="75" x2="622" y1="0" y2="0"><stop offset="0.0009" stop-color="#020202"/><stop offset="0.0265" stop-color="#0b0b0b"/><stop offset="0.0466" stop-color="#0d0d0d"/><stop offset="0.0978" stop-color="#0b0b0b"/><stop offset="0.4707" stop-color="#0b0b0b"/><stop offset="0.5091" stop-color="#060606"/><stop offset="0.5219" stop-color="#0e0e0e"/><stop offset="0.5548" stop-color="#363636"/><stop offset="0.5695" stop-color="#424242"/><stop offset="0.5841" stop-color="#454545"/><stop offset="0.6097" stop-color="#3d3d3d"/><stop offset="0.6207" stop-color="#414141"/><stop offset="0.6298" stop-color="#4d4d4d"/><stop offset="0.6554" stop-color="#787878"/><stop offset="0.6645" stop-color="#818181"/><stop offset="0.6718" stop-color="#848484"/><stop offset="0.6792" stop-color="#838383"/><stop offset="0.6883" stop-color="#7a7a7a"/><stop offset="0.7176" stop-color="#484848"/><stop offset="0.7285" stop-color="#3f3f3f"/><stop offset="0.7340" stop-color="#414141"/><stop offset="0.7413" stop-color="#494949"/><stop offset="0.7633" stop-color="#717171"/><stop offset="0.7724" stop-color="#7e7e7e"/><stop offset="0.7834" stop-color="#858585"/><stop offset="0.7925" stop-color="#848484"/><stop offset="0.7998" stop-color="#7e7e7e"/><stop offset="0.8090" stop-color="#717171"/><stop offset="0.8382" stop-color="#393939"/><stop offset="0.8510" stop-color="#252525"/><stop offset="0.8656" stop-color="#161616"/><stop offset="0.8784" stop-color="#141414"/><stop offset="0.8912" stop-color="#1b1b1b"/><stop offset="0.9040" stop-color="#2a2a2a"/><stop offset="0.9442" stop-color="#737373"/><stop offset="0.9607" stop-color="#8a8a8a"/><stop offset="0.9771" stop-color="#969696"/><stop offset="0.9991" stop-color="#999999"/></linearGradient>
<linearGradient id="c71" gradientUnits="userSpaceOnUse" x1="75" x2="622" y1="0" y2="0"><stop offset="0.0009" stop-color="#070707"/><stop offset="0.0320" stop-color="#101010"/><stop offset="0.0503" stop-color="#121212"/><stop offset="0.4616" stop-color="#101010"/><stop offset="0.5073" stop-color="#0d0d0d"/><stop offset="0.5219" stop-color="#161616"/><stop offset="0.5548" stop-color="#3c3c3c"/><stop offset="0.5695" stop-color="#454545"/><stop offset="0.5823" stop-color="#444444"/><stop offset="0.6097" stop-color="#2e2e2e"/><stop offset="0.6188" stop-color="#2f2f2f"/><stop offset="0.6280" stop-color="#3b3b3b"/><stop offset="0.6481" stop-color="#646464"/><stop offset="0.6572" stop-color="#747474"/><stop offset="0.6664" stop-color="#7e7e7e"/><stop offset="0.6737" stop-color="#818181"/><stop offset="0.6810" stop-color="#7f7f7f"/><stop offset="0.6901" stop-color="#757575"/><stop offset="0.6993" stop-color="#656565"/><stop offset="0.7212" stop-color="#343434"/><stop offset="0.7267" stop-color="#2d2d2d"/><stop offset="0.7303" stop-color="#2d2d2d"/><stop offset="0.7395" stop-color="#393939"/><stop offset="0.7578" stop-color="#636363"/><stop offset="0.7669" stop-color="#747474"/><stop offset="0.7761" stop-color="#808080"/><stop offset="0.7852" stop-color="#848484"/><stop offset="0.7943" stop-color="#808080"/><stop offset="0.8053" stop-color="#747474"/><stop offset="0.8382" stop-color="#383838"/><stop offset="0.8528" stop-color="#232323"/><stop offset="0.8656" stop-color="#181818"/><stop offset="0.8784" stop-color="#161616"/><stop offset="0.8912" stop-color="#1c1c1c"/><stop offset="0.9040" stop-color="#292929"/><stop offset="0.9424" stop-color="#666666"/><stop offset="0.9589" stop-color="#7a7a7a"/><stop offset="0.9753" stop-color="#838383"/><stop offset="0.9991" stop-color="#858585"/></linearGradient>
<linearGradient id="c72" gradientUnits="userSpaceOnUse" x1="75" x2="622" y1="0" y2="0"><stop offset="0.0009" stop-color="#0d0d0d"/><stop offset="0.0356" stop-color="#171717"/><stop offset="0.0558" stop-color="#191919"/><stop offset="0.4525" stop-color="#171717"/><stop offset="0.5000" stop-color="#151515"/><stop offset="0.5165" stop-color="#1c1c1c"/><stop offset="0.5512" stop-color="#404040"/><stop offset="0.5603" stop-color="#474747"/><stop offset="0.5695" stop-color="#494949"/><stop offset="0.5768" stop-color="#474747"/><stop offset="0.5859" stop-color="#404040"/><stop offset="0.6097" stop-color="#1d1d1d"/><stop offset="0.6152" stop-color="#191919"/><stop offset="0.6188" stop-color="#1b1b1b"/><stop offset="0.6243" stop-color="#242424"/><stop offset="0.6463" stop-color="#595959"/><stop offset="0.6572" stop-color="#6f6f6f"/><stop offset="0.6664" stop-color="#7b7b7b"/><stop offset="0.6755" stop-color="#7f7f7f"/><stop offset="0.6846" stop-color="#7a7a7a"/><stop offset="0.6956" stop-color="#6a6a6a"/><stop offset="0.7066" stop-color="#4f4f4f"/><stop offset="0.7230" stop-color="#1e1e1e"/><stop offset="0.7285" stop-color="#141414"/><stop offset="0.7340" stop-color="#1b1b1b"/><stop offset="0.7523" stop-color="#515151"/><stop offset="0.7633" stop-color="#6c6c6c"/><stop offset="0.7742" stop-color="#7d7d7d"/><stop offset="0.7852" stop-color="#828282"/><stop offset="0.7943" stop-color="#7e7e7e"/><stop offset="0.8035" stop-color="#747474"/><stop offset="0.8382" stop-color="#363636"/><stop offset="0.8510" stop-color="#242424"/><stop offset="0.8656" stop-color="#161616"/><stop offset="0.8784" stop-color="#141414"/><stop offset="0.8894" stop-color="#181818"/><stop offset="0.9022" stop-color="#242424"/><stop offset="0.9406" stop-color="#5a5a5a"/><stop offset="0.9552" stop-color="#696969"/><stop offset="0.9717" stop-color="#6f6f6f"/><stop offset="0.9991" stop-color="#6e6e6e"/></linearGradient>
<linearGradient id="c73" gradientUnits="userSpaceOnUse" x1="75" x2="622" y1="0" y2="0"><stop offset="0.0009" stop-color="#151515"/><stop offset="0.0411" stop-color="#202020"/><stop offset="0.0612" stop-color="#222222"/><stop offset="0.4945" stop-color="#202020"/><stop offset="0.5128" stop-color="#262626"/><stop offset="0.5475" stop-color="#474747"/><stop offset="0.5640" stop-color="#4f4f4f"/><stop offset="0.5750" stop-color="#4b4b4b"/><stop offset="0.5859" stop-color="#404040"/><stop offset="0.5969" stop-color="#2e2e2e"/><stop offset="0.6152" stop-color="#060606"/><stop offset="0.6207" stop-color="#101010"/><stop offset="0.6408" stop-color="#484848"/><stop offset="0.6536" stop-color="#666666"/><stop offset="0.6645" stop-color="#777777"/><stop offset="0.6755" stop-color="#7e7e7e"/><stop offset="0.6865" stop-color="#787878"/><stop offset="0.6974" stop-color="#676767"/><stop offset="0.7084" stop-color="#4a4a4a"/><stop offset="0.7249" stop-color="#141414"/><stop offset="0.7285" stop-color="#0b0b0b"/><stop offset="0.7322" stop-color="#111111"/><stop offset="0.7505" stop-color="#4c4c4c"/><stop offset="0.7614" stop-color="#696969"/><stop offset="0.7724" stop-color="#7b7b7b"/><stop offset="0.7834" stop-color="#818181"/><stop offset="0.7925" stop-color="#7e7e7e"/><stop offset="0.8035" stop-color="#727272"/><stop offset="0.8382" stop-color="#343434"/><stop offset="0.8528" stop-color="#1e1e1e"/><stop offset="0.8656" stop-color="#111111"/><stop offset="0.8766" stop-color="#0d0d0d"/><stop offset="0.8857" stop-color="#111111"/><stop offset="0.8967" stop-color="#1a1a1a"/><stop offset="0.9369" stop-color="#4c4c4c"/><stop offset="0.9516" stop-color="#5a5a5a"/><stop offset="0.9662" stop-color="#5e5e5e"/><stop offset="0.9991" stop-color="#585858"/></linearGradient>
<linearGradient id="c74" gradientUnits="userSpaceOnUse" x1="75" x2="622" y1="0" y2="0"><stop offset="0.0009" stop-color="#212121"/><stop offset="0.0448" stop-color="#2c2c2c"/><stop offset="0.0667" stop-color="#2f2f2f"/><stop offset="0.4890" stop-color="#2d2d2d"/><stop offset="0.5091" stop-color="#343434"/><stop offset="0.5439" stop-color="#515151"/><stop offset="0.5603" stop-color="#575757"/><stop offset="0.5713" stop-color="#535353"/><stop offset="0.5804" stop-color="#4b4b4b"/><stop offset="0.5914" stop-color="#3b3b3b"/><stop offset="0.6097" stop-color="#191919"/><stop offset="0.6152" stop-color="#151515"/><stop offset="0.6188" stop-color="#171717"/><stop offset="0.6243" stop-color="#212121"/><stop offset="0.6463" stop-color="#575757"/><stop offset="0.6572" stop-color="#6d6d6d"/><stop offset="0.6682" stop-color="#7b7b7b"/><stop offset="0.6773" stop-color="#7f7f7f"/><stop offset="0.6865" stop-color="#7b7b7b"/><stop offset="0.6956" stop-color="#707070"/><stop offset="0.7048" stop-color="#5d5d5d"/><stop offset="0.7212" stop-color="#343434"/><stop offset="0.7285" stop-color="#2b2b2b"/><stop offset="0.7358" stop-color="#323232"/><stop offset="0.7559" stop-color="#636363"/><stop offset="0.7669" stop-color="#777777"/><stop offset="0.7779" stop-color="#818181"/><stop offset="0.7888" stop-color="#808080"/><stop offset="0.7962" stop-color="#7a7a7a"/><stop offset="0.8053" stop-color="#6e6e6e"/><stop offset="0.8492" stop-color="#212121"/><stop offset="0.8638" stop-color="#0e0e0e"/><stop offset="0.8748" stop-color="#050505"/><stop offset="0.8803" stop-color="#060606"/><stop offset="0.8894" stop-color="#0f0f0f"/><stop offset="0.9314" stop-color="#3f3f3f"/><stop offset="0.9479" stop-color="#4d4d4d"/><stop offset="0.9644" stop-color="#4f4f4f"/><stop offset="0.9881" stop-color="#434343"/><stop offset="0.9991" stop-color="#414141"/></linearGradient>
<linearGradient id="c75" gradientUnits="userSpaceOnUse" x1="75" x2="622" y1="0" y2="0"><stop offset="0.0009" stop-color="#313131"/><stop offset="0.0503" stop-color="#3c3c3c"/><stop offset="0.0740" stop-color="#3f3f3f"/><stop offset="0.4817" stop-color="#3e3e3e"/><stop offset="0.5037" stop-color="#444444"/><stop offset="0.5402" stop-color="#5d5d5d"/><stop offset="0.5548" stop-color="#626262"/><stop offset="0.5640" stop-color="#606060"/><stop offset="0.5731" stop-color="#5b5b5b"/><stop offset="0.5841" stop-color="#4f4f4f"/><stop offset="0.6042" stop-color="#323232"/><stop offset="0.6152" stop-color="#2c2c2c"/><stop offset="0.6207" stop-color="#2f2f2f"/><stop offset="0.6280" stop-color="#393939"/><stop offset="0.6590" stop-color="#737373"/><stop offset="0.6737" stop-color="#828282"/><stop offset="0.6828" stop-color="#838383"/><stop offset="0.6920" stop-color="#7e7e7e"/><stop offset="0.7011" stop-color="#727272"/><stop offset="0.7194" stop-color="#535353"/><stop offset="0.7285" stop-color="#4c4c4c"/><stop offset="0.7340" stop-color="#4e4e4e"/><stop offset="0.7395" stop-color="#545454"/><stop offset="0.7651" stop-color="#7d7d7d"/><stop offset="0.7724" stop-color="#838383"/><stop offset="0.7797" stop-color="#858585"/><stop offset="0.7888" stop-color="#818181"/><stop offset="0.7980" stop-color="#777777"/><stop offset="0.8455" stop-color="#252525"/><stop offset="0.8620" stop-color="#101010"/><stop offset="0.8748" stop-color="#050505"/><stop offset="0.8857" stop-color="#0b0b0b"/><stop offset="0.9314" stop-color="#3a3a3a"/><stop offset="0.9479" stop-color="#444444"/><stop offset="0.9644" stop-color="#434343"/><stop offset="0.9881" stop-color="#2f2f2f"/><stop offset="0.9991" stop-color="#2c2c2c"/></linearGradient>
<linearGradient id="c76" gradientUnits="userSpaceOnUse" x1="75" x2="622" y1="0" y2="0"><stop offset="0.0009" stop-color="#444444"/><stop offset="0.0539" stop-color="#505050"/><stop offset="0.0814" stop-color="#525252"/><stop offset="0.4726" stop-color="#535353"/><stop offset="0.4982" stop-color="#585858"/><stop offset="0.5347" stop-color="#6c6c6c"/><stop offset="0.5494" stop-color="#707070"/><stop offset="0.5676" stop-color="#6a6a6a"/><stop offset="0.6024" stop-color="#464646"/><stop offset="0.6152" stop-color="#414141"/><stop offset="0.6280" stop-color="#4a4a4a"/><stop offset="0.6609" stop-color="#7b7b7b"/><stop offset="0.6773" stop-color="#8a8a8a"/><stop offset="0.6846" stop-color="#8b8b8b"/><stop offset="0.6938" stop-color="#888888"/><stop offset="0.7176" stop-color="#727272"/><stop offset="0.7285" stop-color="#6c6c6c"/><stop offset="0.7395" stop-color="#717171"/><stop offset="0.7633" stop-color="#878787"/><stop offset="0.7742" stop-color="#8b8b8b"/><stop offset="0.7834" stop-color="#888888"/><stop offset="0.7943" stop-color="#7d7d7d"/><stop offset="0.8419" stop-color="#2b2b2b"/><stop offset="0.8565" stop-color="#191919"/><stop offset="0.8693" stop-color="#0f0f0f"/><stop offset="0.8784" stop-color="#0d0d0d"/><stop offset="0.8894" stop-color="#111111"/><stop offset="0.9333" stop-color="#363636"/><stop offset="0.9497" stop-color="#3e3e3e"/><stop offset="0.9662" stop-color="#383838"/><stop offset="0.9899" stop-color="#1c1c1c"/><stop offset="0.9991" stop-color="#191919"/></linearGradient>
<linearGradient id="c77" gradientUnits="userSpaceOnUse" x1="75" x2="622" y1="0" y2="0"><stop offset="0.0009" stop-color="#5b5b5b"/><stop offset="0.0594" stop-color="#676767"/><stop offset="0.0887" stop-color="#6a6a6a"/><stop offset="0.4653" stop-color="#6b6b6b"/><stop offset="0.4909" stop-color="#6f6f6f"/><stop offset="0.5293" stop-color="#7e7e7e"/><stop offset="0.5439" stop-color="#808080"/><stop offset="0.5622" stop-color="#7a7a7a"/><stop offset="0.5987" stop-color="#595959"/><stop offset="0.6152" stop-color="#535353"/><stop offset="0.6316" stop-color="#5c5c5c"/><stop offset="0.6664" stop-color="#888888"/><stop offset="0.6828" stop-color="#959595"/><stop offset="0.6974" stop-color="#969696"/><stop offset="0.7285" stop-color="#8a8a8a"/><stop offset="0.7669" stop-color="#959595"/><stop offset="0.7779" stop-color="#919191"/><stop offset="0.7888" stop-color="#868686"/><stop offset="0.8016" stop-color="#727272"/><stop offset="0.8382" stop-color="#313131"/><stop offset="0.8510" stop-color="#212121"/><stop offset="0.8638" stop-color="#161616"/><stop offset="0.8766" stop-color="#121212"/><stop offset="0.8894" stop-color="#151515"/><stop offset="0.9351" stop-color="#343434"/><stop offset="0.9516" stop-color="#393939"/><stop offset="0.9607" stop-color="#363636"/><stop offset="0.9698" stop-color="#2f2f2f"/><stop offset="0.9936" stop-color="#0d0d0d"/><stop offset="0.9991" stop-color="#0b0b0b"/></linearGradient>
<linearGradient id="c78" gradientUnits="userSpaceOnUse" x1="75" x2="622" y1="0" y2="0"><stop offset="0.0009" stop-color="#767676"/><stop offset="0.0649" stop-color="#828282"/><stop offset="0.0960" stop-color="#848484"/><stop offset="0.4580" stop-color="#858585"/><stop offset="0.5347" stop-color="#939393"/><stop offset="0.5567" stop-color="#8c8c8c"/><stop offset="0.5987" stop-color="#666666"/><stop offset="0.6170" stop-color="#5f5f5f"/><stop offset="0.6261" stop-color="#626262"/><stop offset="0.6371" stop-color="#696969"/><stop offset="0.6737" stop-color="#969696"/><stop offset="0.6901" stop-color="#a3a3a3"/><stop offset="0.7048" stop-color="#a6a6a6"/><stop offset="0.7523" stop-color="#a5a5a5"/><stop offset="0.7669" stop-color="#a1a1a1"/><stop offset="0.7815" stop-color="#939393"/><stop offset="0.7962" stop-color="#7d7d7d"/><stop offset="0.8346" stop-color="#363636"/><stop offset="0.8492" stop-color="#232323"/><stop offset="0.8620" stop-color="#181818"/><stop offset="0.8766" stop-color="#141414"/><stop offset="0.8912" stop-color="#161616"/><stop offset="0.9351" stop-color="#313131"/><stop offset="0.9516" stop-color="#373737"/><stop offset="0.9662" stop-color="#323232"/><stop offset="0.9899" stop-color="#1b1b1b"/><stop offset="0.9991" stop-color="#181818"/></linearGradient>
<linearGradient id="c79" gradientUnits="userSpaceOnUse" x1="75" x2="622" y1="0" y2="0"><stop offset="0.0009" stop-color="#939393"/><stop offset="0.0996" stop-color="#a0a0a0"/><stop offset="0.4397" stop-color="#a1a1a1"/><stop offset="0.5238" stop-color="#a8a8a8"/><stop offset="0.5494" stop-color="#9f9f9f"/><stop offset="0.5640" stop-color="#929292"/><stop offset="0.5987" stop-color="#6e6e6e"/><stop offset="0.6097" stop-color="#666666"/><stop offset="0.6207" stop-color="#646464"/><stop offset="0.6316" stop-color="#686868"/><stop offset="0.6426" stop-color="#717171"/><stop offset="0.6773" stop-color="#9f9f9f"/><stop offset="0.6938" stop-color="#b0b0b0"/><stop offset="0.7121" stop-color="#b9b9b9"/><stop offset="0.7358" stop-color="#bbbbbb"/><stop offset="0.7559" stop-color="#b4b4b4"/><stop offset="0.7742" stop-color="#a3a3a3"/><stop offset="0.7907" stop-color="#898989"/><stop offset="0.8199" stop-color="#4f4f4f"/><stop offset="0.8346" stop-color="#353535"/><stop offset="0.8492" stop-color="#222222"/><stop offset="0.8638" stop-color="#151515"/><stop offset="0.8766" stop-color="#111111"/><stop offset="0.8894" stop-color="#131313"/><stop offset="0.9369" stop-color="#313131"/><stop offset="0.9534" stop-color="#373737"/><stop offset="0.9662" stop-color="#353535"/><stop offset="0.9991" stop-color="#282828"/></linearGradient>
<linearGradient id="c80" gradientUnits="userSpaceOnUse" x1="75" x2="622" y1="0" y2="0"><stop offset="0.0009" stop-color="#b1b1b1"/><stop offset="0.1106" stop-color="#bdbdbd"/><stop offset="0.5110" stop-color="#bfbfbf"/><stop offset="0.5293" stop-color="#bababa"/><stop offset="0.5457" stop-color="#afafaf"/><stop offset="0.5622" stop-color="#9e9e9e"/><stop offset="0.6005" stop-color="#6d6d6d"/><stop offset="0.6115" stop-color="#646464"/><stop offset="0.6225" stop-color="#616161"/><stop offset="0.6335" stop-color="#646464"/><stop offset="0.6444" stop-color="#6f6f6f"/><stop offset="0.6810" stop-color="#a8a8a8"/><stop offset="0.6974" stop-color="#bdbdbd"/><stop offset="0.7139" stop-color="#c9c9c9"/><stop offset="0.7322" stop-color="#cccccc"/><stop offset="0.7505" stop-color="#c5c5c5"/><stop offset="0.7687" stop-color="#b1b1b1"/><stop offset="0.7852" stop-color="#969696"/><stop offset="0.8181" stop-color="#525252"/><stop offset="0.8327" stop-color="#373737"/><stop offset="0.8510" stop-color="#1d1d1d"/><stop offset="0.8675" stop-color="#0e0e0e"/><stop offset="0.8766" stop-color="#0b0b0b"/><stop offset="0.8876" stop-color="#0e0e0e"/><stop offset="0.9369" stop-color="#313131"/><stop offset="0.9534" stop-color="#393939"/><stop offset="0.9698" stop-color="#3b3b3b"/><stop offset="0.9991" stop-color="#363636"/></linearGradient>
<linearGradient id="c81" gradientUnits="userSpaceOnUse" x1="75" x2="622" y1="0" y2="0"><stop offset="0.0009" stop-color="#cdcdcd"/><stop offset="0.1216" stop-color="#d7d7d7"/><stop offset="0.4689" stop-color="#d8d8d8"/><stop offset="0.5000" stop-color="#d6d6d6"/><stop offset="0.5219" stop-color="#cecece"/><stop offset="0.5420" stop-color="#bebebe"/><stop offset="0.5622" stop-color="#a5a5a5"/><stop offset="0.6042" stop-color="#636363"/><stop offset="0.6152" stop-color="#585858"/><stop offset="0.6243" stop-color="#545454"/><stop offset="0.6335" stop-color="#585858"/><stop offset="0.6444" stop-color="#646464"/><stop offset="0.6828" stop-color="#acacac"/><stop offset="0.6993" stop-color="#c6c6c6"/><stop offset="0.7157" stop-color="#d5d5d5"/><stop offset="0.7322" stop-color="#d8d8d8"/><stop offset="0.7486" stop-color="#d0d0d0"/><stop offset="0.7651" stop-color="#bcbcbc"/><stop offset="0.7815" stop-color="#9f9f9f"/><stop offset="0.8163" stop-color="#555555"/><stop offset="0.8327" stop-color="#363636"/><stop offset="0.8528" stop-color="#191919"/><stop offset="0.8748" stop-color="#040404"/><stop offset="0.8839" stop-color="#070707"/><stop offset="0.9351" stop-color="#303030"/><stop offset="0.9552" stop-color="#3d3d3d"/><stop offset="0.9753" stop-color="#434343"/><stop offset="0.9991" stop-color="#414141"/></linearGradient>
<linearGradient id="c82" gradientUnits="userSpaceOnUse" x1="75" x2="622" y1="0" y2="0"><stop offset="0.0009" stop-color="#e6e6e6"/><stop offset="0.1453" stop-color="#ededed"/><stop offset="0.4452" stop-color="#ededed"/><stop offset="0.4945" stop-color="#e8e8e8"/><stop offset="0.5201" stop-color="#dcdcdc"/><stop offset="0.5439" stop-color="#c4c4c4"/><stop offset="0.5658" stop-color="#a2a2a2"/><stop offset="0.6079" stop-color="#505050"/><stop offset="0.6170" stop-color="#444444"/><stop offset="0.6261" stop-color="#3f3f3f"/><stop offset="0.6353" stop-color="#464646"/><stop offset="0.6444" stop-color="#545454"/><stop offset="0.6810" stop-color="#a7a7a7"/><stop offset="0.6993" stop-color="#c9c9c9"/><stop offset="0.7157" stop-color="#dbdbdb"/><stop offset="0.7322" stop-color="#dfdfdf"/><stop offset="0.7468" stop-color="#d8d8d8"/><stop offset="0.7614" stop-color="#c6c6c6"/><stop offset="0.7779" stop-color="#a8a8a8"/><stop offset="0.8126" stop-color="#5b5b5b"/><stop offset="0.8309" stop-color="#383838"/><stop offset="0.8510" stop-color="#1b1b1b"/><stop offset="0.8729" stop-color="#070707"/><stop offset="0.8803" stop-color="#060606"/><stop offset="0.8894" stop-color="#0b0b0b"/><stop offset="0.9644" stop-color="#464646"/><stop offset="0.9808" stop-color="#4c4c4c"/><stop offset="0.9991" stop-color="#4b4b4b"/></linearGradient>
<linearGradient id="c83" gradientUnits="userSpaceOnUse" x1="75" x2="622" y1="0" y2="0"><stop offset="0.0009" stop-color="#f7f7f7"/><stop offset="0.1197" stop-color="#fafafa"/><stop offset="0.4214" stop-color="#fafafa"/><stop offset="0.4634" stop-color="#f9f9f9"/><stop offset="0.4909" stop-color="#f3f3f3"/><stop offset="0.5201" stop-color="#e3e3e3"/><stop offset="0.5347" stop-color="#d3d3d3"/><stop offset="0.5475" stop-color="#c2c2c2"/><stop offset="0.5731" stop-color="#919191"/><stop offset="0.6133" stop-color="#343434"/><stop offset="0.6188" stop-color="#2a2a2a"/><stop offset="0.6243" stop-color="#242424"/><stop offset="0.6316" stop-color="#282828"/><stop offset="0.6389" stop-color="#363636"/><stop offset="0.6755" stop-color="#969696"/><stop offset="0.6938" stop-color="#bfbfbf"/><stop offset="0.7102" stop-color="#d8d8d8"/><stop offset="0.7267" stop-color="#e2e2e2"/><stop offset="0.7413" stop-color="#dedede"/><stop offset="0.7578" stop-color="#cdcdcd"/><stop offset="0.7742" stop-color="#afafaf"/><stop offset="0.8108" stop-color="#5e5e5e"/><stop offset="0.8272" stop-color="#3e3e3e"/><stop offset="0.8473" stop-color="#212121"/><stop offset="0.8675" stop-color="#111111"/><stop offset="0.8803" stop-color="#0e0e0e"/><stop offset="0.8931" stop-color="#121212"/><stop offset="0.9150" stop-color="#202020"/><stop offset="0.9680" stop-color="#4d4d4d"/><stop offset="0.9845" stop-color="#545454"/><stop offset="0.9991" stop-color="#535353"/></linearGradient>
<linearGradient id="c84" gradientUnits="userSpaceOnUse" x1="75" x2="622" y1="0" y2="0"><stop offset="0.0009" stop-color="#ffffff"/><stop offset="0.4269" stop-color="#fefefe"/><stop offset="0.4653" stop-color="#fcfcfc"/><stop offset="0.4909" stop-color="#f5f5f5"/><stop offset="0.5073" stop-color="#ededed"/><stop offset="0.5219" stop-color="#e1e1e1"/><stop offset="0.5366" stop-color="#d0d0d0"/><stop offset="0.5512" stop-color="#bababa"/><stop offset="0.5640" stop-color="#a2a2a2"/><stop offset="0.5786" stop-color="#818181"/><stop offset="0.5951" stop-color="#585858"/><stop offset="0.6207" stop-color="#121212"/><stop offset="0.6261" stop-color="#090909"/><stop offset="0.6335" stop-color="#191919"/><stop offset="0.6718" stop-color="#888888"/><stop offset="0.6901" stop-color="#b5b5b5"/><stop offset="0.7084" stop-color="#d4d4d4"/><stop offset="0.7176" stop-color="#dddddd"/><stop offset="0.7267" stop-color="#e1e1e1"/><stop offset="0.7413" stop-color="#dddddd"/><stop offset="0.7578" stop-color="#cbcbcb"/><stop offset="0.7742" stop-color="#adadad"/><stop offset="0.8090" stop-color="#616161"/><stop offset="0.8254" stop-color="#414141"/><stop offset="0.8455" stop-color="#252525"/><stop offset="0.8638" stop-color="#171717"/><stop offset="0.8821" stop-color="#131313"/><stop offset="0.9004" stop-color="#191919"/><stop offset="0.9223" stop-color="#282828"/><stop offset="0.9698" stop-color="#535353"/><stop offset="0.9845" stop-color="#5a5a5a"/><stop offset="0.9991" stop-color="#5a5a5a"/></linearGradient>
<linearGradient id="c85" gradientUnits="userSpaceOnUse" x1="75" x2="622" y1="0" y2="0"><stop offset="0.0009" stop-color="#fdfdfd"/><stop offset="0.1271" stop-color="#f8f8f8"/><stop offset="0.4342" stop-color="#f7f7f7"/><stop offset="0.4653" stop-color="#f5f5f5"/><stop offset="0.4890" stop-color="#f0f0f0"/><stop offset="0.5055" stop-color="#e8e8e8"/><stop offset="0.5201" stop-color="#dddddd"/><stop offset="0.5347" stop-color="#cdcdcd"/><stop offset="0.5475" stop-color="#bbbbbb"/><stop offset="0.5731" stop-color="#8b8b8b"/><stop offset="0.6152" stop-color="#282828"/><stop offset="0.6243" stop-color="#1b1b1b"/><stop offset="0.6298" stop-color="#1d1d1d"/><stop offset="0.6371" stop-color="#2b2b2b"/><stop offset="0.6755" stop-color="#909090"/><stop offset="0.6938" stop-color="#b9b9b9"/><stop offset="0.7102" stop-color="#d2d2d2"/><stop offset="0.7267" stop-color="#dddddd"/><stop offset="0.7413" stop-color="#d9d9d9"/><stop offset="0.7559" stop-color="#cacaca"/><stop offset="0.7724" stop-color="#adadad"/><stop offset="0.8071" stop-color="#626262"/><stop offset="0.8254" stop-color="#404040"/><stop offset="0.8455" stop-color="#252525"/><stop offset="0.8638" stop-color="#181818"/><stop offset="0.8821" stop-color="#151515"/><stop offset="0.9022" stop-color="#1b1b1b"/><stop offset="0.9241" stop-color="#2b2b2b"/><stop offset="0.9717" stop-color="#595959"/><stop offset="0.9863" stop-color="#5f5f5f"/><stop offset="0.9991" stop-color="#5f5f5f"/></linearGradient>
<linearGradient id="c86" gradientUnits="userSpaceOnUse" x1="75" x2="622" y1="0" y2="0"><stop offset="0.0009" stop-color="#f0f0f0"/><stop offset="0.1179" stop-color="#e7e7e7"/><stop offset="0.4360" stop-color="#e7e7e7"/><stop offset="0.4890" stop-color="#e1e1e1"/><stop offset="0.5165" stop-color="#d3d3d3"/><stop offset="0.5402" stop-color="#bcbcbc"/><stop offset="0.5640" stop-color="#999999"/><stop offset="0.6079" stop-color="#474747"/><stop offset="0.6170" stop-color="#3b3b3b"/><stop offset="0.6243" stop-color="#373737"/><stop offset="0.6335" stop-color="#3b3b3b"/><stop offset="0.6444" stop-color="#4b4b4b"/><stop offset="0.6846" stop-color="#a3a3a3"/><stop offset="0.7011" stop-color="#c1c1c1"/><stop offset="0.7176" stop-color="#d3d3d3"/><stop offset="0.7340" stop-color="#d6d6d6"/><stop offset="0.7486" stop-color="#cccccc"/><stop offset="0.7633" stop-color="#b8b8b8"/><stop offset="0.7761" stop-color="#a0a0a0"/><stop offset="0.8126" stop-color="#545454"/><stop offset="0.8327" stop-color="#333333"/><stop offset="0.8528" stop-color="#1c1c1c"/><stop offset="0.8729" stop-color="#131313"/><stop offset="0.8912" stop-color="#151515"/><stop offset="0.9113" stop-color="#212121"/><stop offset="0.9753" stop-color="#5e5e5e"/><stop offset="0.9863" stop-color="#636363"/><stop offset="0.9991" stop-color="#626262"/></linearGradient>
<linearGradient id="c87" gradientUnits="userSpaceOnUse" x1="75" x2="622" y1="0" y2="0"><stop offset="0.0009" stop-color="#dadada"/><stop offset="0.1216" stop-color="#cecece"/><stop offset="0.4525" stop-color="#cdcdcd"/><stop offset="0.4945" stop-color="#cacaca"/><stop offset="0.5183" stop-color="#c0c0c0"/><stop offset="0.5384" stop-color="#b1b1b1"/><stop offset="0.5585" stop-color="#9a9a9a"/><stop offset="0.6024" stop-color="#5b5b5b"/><stop offset="0.6133" stop-color="#515151"/><stop offset="0.6243" stop-color="#4d4d4d"/><stop offset="0.6353" stop-color="#515151"/><stop offset="0.6481" stop-color="#5f5f5f"/><stop offset="0.6883" stop-color="#a7a7a7"/><stop offset="0.7048" stop-color="#bfbfbf"/><stop offset="0.7194" stop-color="#cccccc"/><stop offset="0.7340" stop-color="#cdcdcd"/><stop offset="0.7486" stop-color="#c4c4c4"/><stop offset="0.7633" stop-color="#b1b1b1"/><stop offset="0.7779" stop-color="#969696"/><stop offset="0.8126" stop-color="#515151"/><stop offset="0.8346" stop-color="#2d2d2d"/><stop offset="0.8547" stop-color="#171717"/><stop offset="0.8729" stop-color="#0d0d0d"/><stop offset="0.8876" stop-color="#0f0f0f"/><stop offset="0.9095" stop-color="#1e1e1e"/><stop offset="0.9735" stop-color="#5f5f5f"/><stop offset="0.9863" stop-color="#656565"/><stop offset="0.9991" stop-color="#656565"/></linearGradient>
<linearGradient id="c88" gradientUnits="userSpaceOnUse" x1="75" x2="622" y1="0" y2="0"><stop offset="0.0009" stop-color="#bdbdbd"/><stop offset="0.1234" stop-color="#aeaeae"/><stop offset="0.5037" stop-color="#aeaeae"/><stop offset="0.5219" stop-color="#a9a9a9"/><stop offset="0.5402" stop-color="#9f9f9f"/><stop offset="0.5585" stop-color="#8f8f8f"/><stop offset="0.5987" stop-color="#656565"/><stop offset="0.6115" stop-color="#5d5d5d"/><stop offset="0.6225" stop-color="#5a5a5a"/><stop offset="0.6353" stop-color="#5d5d5d"/><stop offset="0.6499" stop-color="#6a6a6a"/><stop offset="0.6920" stop-color="#a8a8a8"/><stop offset="0.7066" stop-color="#b9b9b9"/><stop offset="0.7194" stop-color="#c2c2c2"/><stop offset="0.7322" stop-color="#c4c4c4"/><stop offset="0.7468" stop-color="#bcbcbc"/><stop offset="0.7633" stop-color="#a8a8a8"/><stop offset="0.8126" stop-color="#4d4d4d"/><stop offset="0.8346" stop-color="#2b2b2b"/><stop offset="0.8565" stop-color="#121212"/><stop offset="0.8748" stop-color="#040404"/><stop offset="0.8876" stop-color="#0b0b0b"/><stop offset="0.9132" stop-color="#202020"/><stop offset="0.9717" stop-color="#5e5e5e"/><stop offset="0.9863" stop-color="#666666"/><stop offset="0.9991" stop-color="#666666"/></linearGradient>
<linearGradient id="c89" gradientUnits="userSpaceOnUse" x1="75" x2="622" y1="0" y2="0"><stop offset="0.0009" stop-color="#9c9c9c"/><stop offset="0.0832" stop-color="#8e8e8e"/><stop offset="0.1252" stop-color="#8b8b8b"/><stop offset="0.4122" stop-color="#8c8c8c"/><stop offset="0.5165" stop-color="#929292"/><stop offset="0.5439" stop-color="#8a8a8a"/><stop offset="0.5987" stop-color="#646464"/><stop offset="0.6225" stop-color="#5d5d5d"/><stop offset="0.6371" stop-color="#626262"/><stop offset="0.6517" stop-color="#6d6d6d"/><stop offset="0.6938" stop-color="#a2a2a2"/><stop offset="0.7066" stop-color="#afafaf"/><stop offset="0.7194" stop-color="#b7b7b7"/><stop offset="0.7322" stop-color="#b8b8b8"/><stop offset="0.7468" stop-color="#b1b1b1"/><stop offset="0.7633" stop-color="#9e9e9e"/><stop offset="0.8144" stop-color="#474747"/><stop offset="0.8364" stop-color="#272727"/><stop offset="0.8583" stop-color="#101010"/><stop offset="0.8748" stop-color="#060606"/><stop offset="0.8876" stop-color="#0c0c0c"/><stop offset="0.9113" stop-color="#1f1f1f"/><stop offset="0.9717" stop-color="#5e5e5e"/><stop offset="0.9863" stop-color="#666666"/><stop offset="0.9991" stop-color="#666666"/></linearGradient>
<linearGradient id="c90" gradientUnits="userSpaceOnUse" x1="75" x2="622" y1="0" y2="0"><stop offset="0.0009" stop-color="#7b7b7b"/><stop offset="0.0814" stop-color="#6c6c6c"/><stop offset="0.1252" stop-color="#6a6a6a"/><stop offset="0.4269" stop-color="#6a6a6a"/><stop offset="0.5311" stop-color="#797979"/><stop offset="0.5567" stop-color="#737373"/><stop offset="0.6042" stop-color="#5a5a5a"/><stop offset="0.6225" stop-color="#585858"/><stop offset="0.6371" stop-color="#5c5c5c"/><stop offset="0.6517" stop-color="#676767"/><stop offset="0.6920" stop-color="#969696"/><stop offset="0.7066" stop-color="#a4a4a4"/><stop offset="0.7194" stop-color="#ababab"/><stop offset="0.7303" stop-color="#acacac"/><stop offset="0.7450" stop-color="#a7a7a7"/><stop offset="0.7614" stop-color="#969696"/><stop offset="0.7761" stop-color="#828282"/><stop offset="0.8144" stop-color="#444444"/><stop offset="0.8364" stop-color="#282828"/><stop offset="0.8583" stop-color="#151515"/><stop offset="0.8766" stop-color="#0f0f0f"/><stop offset="0.8912" stop-color="#131313"/><stop offset="0.9113" stop-color="#202020"/><stop offset="0.9735" stop-color="#5f5f5f"/><stop offset="0.9863" stop-color="#656565"/><stop offset="0.9991" stop-color="#656565"/></linearGradient>
<linearGradient id="c91" gradientUnits="userSpaceOnUse" x1="75" x2="622" y1="0" y2="0"><stop offset="0.0009" stop-color="#5d5d5d"/><stop offset="0.0996" stop-color="#4c4c4c"/><stop offset="0.4159" stop-color="#4c4c4c"/><stop offset="0.4616" stop-color="#4f4f4f"/><stop offset="0.5201" stop-color="#606060"/><stop offset="0.5420" stop-color="#636363"/><stop offset="0.5640" stop-color="#5f5f5f"/><stop offset="0.6060" stop-color="#4d4d4d"/><stop offset="0.6225" stop-color="#4b4b4b"/><stop offset="0.6353" stop-color="#4e4e4e"/><stop offset="0.6499" stop-color="#595959"/><stop offset="0.7048" stop-color="#969696"/><stop offset="0.7176" stop-color="#9d9d9d"/><stop offset="0.7303" stop-color="#9f9f9f"/><stop offset="0.7450" stop-color="#9a9a9a"/><stop offset="0.7614" stop-color="#8c8c8c"/><stop offset="0.8144" stop-color="#414141"/><stop offset="0.8346" stop-color="#2a2a2a"/><stop offset="0.8565" stop-color="#1a1a1a"/><stop offset="0.8766" stop-color="#151515"/><stop offset="0.8949" stop-color="#191919"/><stop offset="0.9132" stop-color="#242424"/><stop offset="0.9753" stop-color="#5f5f5f"/><stop offset="0.9863" stop-color="#646464"/><stop offset="0.9991" stop-color="#646464"/></linearGradient>
<linearGradient id="c92" gradientUnits="userSpaceOnUse" x1="75" x2="622" y1="0" y2="0"><stop offset="0.0009" stop-color="#444444"/><stop offset="0.0941" stop-color="#323232"/><stop offset="0.4342" stop-color="#333333"/><stop offset="0.4707" stop-color="#373737"/><stop offset="0.5256" stop-color="#4c4c4c"/><stop offset="0.5494" stop-color="#505050"/><stop offset="0.5676" stop-color="#4d4d4d"/><stop offset="0.6079" stop-color="#3b3b3b"/><stop offset="0.6243" stop-color="#393939"/><stop offset="0.6353" stop-color="#3c3c3c"/><stop offset="0.6481" stop-color="#464646"/><stop offset="0.6883" stop-color="#777777"/><stop offset="0.7029" stop-color="#868686"/><stop offset="0.7176" stop-color="#909090"/><stop offset="0.7303" stop-color="#929292"/><stop offset="0.7450" stop-color="#8e8e8e"/><stop offset="0.7614" stop-color="#818181"/><stop offset="0.8144" stop-color="#3d3d3d"/><stop offset="0.8364" stop-color="#272727"/><stop offset="0.8565" stop-color="#1b1b1b"/><stop offset="0.8766" stop-color="#171717"/><stop offset="0.8949" stop-color="#1b1b1b"/><stop offset="0.9132" stop-color="#262626"/><stop offset="0.9753" stop-color="#5d5d5d"/><stop offset="0.9863" stop-color="#626262"/><stop offset="0.9991" stop-color="#626262"/></linearGradient>
<linearGradient id="c93" gradientUnits="userSpaceOnUse" x1="75" x2="622" y1="0" y2="0"><stop offset="0.0009" stop-color="#303030"/><stop offset="0.0887" stop-color="#1e1e1e"/><stop offset="0.4452" stop-color="#202020"/><stop offset="0.4762" stop-color="#242424"/><stop offset="0.5311" stop-color="#3c3c3c"/><stop offset="0.5548" stop-color="#404040"/><stop offset="0.5750" stop-color="#3c3c3c"/><stop offset="0.6115" stop-color="#272727"/><stop offset="0.6243" stop-color="#242424"/><stop offset="0.6335" stop-color="#272727"/><stop offset="0.6444" stop-color="#313131"/><stop offset="0.6846" stop-color="#656565"/><stop offset="0.7011" stop-color="#777777"/><stop offset="0.7176" stop-color="#828282"/><stop offset="0.7322" stop-color="#858585"/><stop offset="0.7468" stop-color="#818181"/><stop offset="0.7633" stop-color="#757575"/><stop offset="0.8163" stop-color="#373737"/><stop offset="0.8364" stop-color="#242424"/><stop offset="0.8547" stop-color="#191919"/><stop offset="0.8729" stop-color="#151515"/><stop offset="0.8912" stop-color="#191919"/><stop offset="0.9113" stop-color="#242424"/><stop offset="0.9753" stop-color="#5b5b5b"/><stop offset="0.9863" stop-color="#5f5f5f"/><stop offset="0.9991" stop-color="#5f5f5f"/></linearGradient>
<linearGradient id="c94" gradientUnits="userSpaceOnUse" x1="75" x2="622" y1="0" y2="0"><stop offset="0.0009" stop-color="#212121"/><stop offset="0.0832" stop-color="#101010"/><stop offset="0.1618" stop-color="#131313"/><stop offset="0.4543" stop-color="#111111"/><stop offset="0.4781" stop-color="#151515"/><stop offset="0.5329" stop-color="#2f2f2f"/><stop offset="0.5585" stop-color="#333333"/><stop offset="0.5823" stop-color="#2d2d2d"/><stop offset="0.6170" stop-color="#131313"/><stop offset="0.6261" stop-color="#101010"/><stop offset="0.6408" stop-color="#1d1d1d"/><stop offset="0.6792" stop-color="#525252"/><stop offset="0.6974" stop-color="#686868"/><stop offset="0.7157" stop-color="#757575"/><stop offset="0.7322" stop-color="#797979"/><stop offset="0.7486" stop-color="#747474"/><stop offset="0.7651" stop-color="#696969"/><stop offset="0.8199" stop-color="#2e2e2e"/><stop offset="0.8400" stop-color="#1c1c1c"/><stop offset="0.8565" stop-color="#121212"/><stop offset="0.8711" stop-color="#0f0f0f"/><stop offset="0.8876" stop-color="#141414"/><stop offset="0.9077" stop-color="#202020"/><stop offset="0.9717" stop-color="#565656"/><stop offset="0.9863" stop-color="#5d5d5d"/><stop offset="0.9991" stop-color="#5d5d5d"/></linearGradient>
<linearGradient id="c95" gradientUnits="userSpaceOnUse" x1="75" x2="622" y1="0" y2="0"><stop offset="0.0009" stop-color="#171717"/><stop offset="0.0795" stop-color="#070707"/><stop offset="0.1527" stop-color="#0b0b0b"/><stop offset="0.3995" stop-color="#0b0b0b"/><stop offset="0.4598" stop-color="#080808"/><stop offset="0.4835" stop-color="#0d0d0d"/><stop offset="0.5366" stop-color="#262626"/><stop offset="0.5603" stop-color="#2a2a2a"/><stop offset="0.5878" stop-color="#222222"/><stop offset="0.6243" stop-color="#050505"/><stop offset="0.6335" stop-color="#0d0d0d"/><stop offset="0.6737" stop-color="#434343"/><stop offset="0.6938" stop-color="#5a5a5a"/><stop offset="0.7139" stop-color="#696969"/><stop offset="0.7322" stop-color="#6d6d6d"/><stop offset="0.7486" stop-color="#696969"/><stop offset="0.7651" stop-color="#5f5f5f"/><stop offset="0.8364" stop-color="#1b1b1b"/><stop offset="0.8565" stop-color="#0c0c0c"/><stop offset="0.8693" stop-color="#060606"/><stop offset="0.8803" stop-color="#0a0a0a"/><stop offset="0.9022" stop-color="#1a1a1a"/><stop offset="0.9698" stop-color="#535353"/><stop offset="0.9845" stop-color="#595959"/><stop offset="0.9991" stop-color="#5a5a5a"/></linearGradient>
<linearGradient id="c96" gradientUnits="userSpaceOnUse" x1="75" x2="622" y1="0" y2="0"><stop offset="0.0009" stop-color="#111111"/><stop offset="0.0265" stop-color="#0e0e0e"/><stop offset="0.0795" stop-color="#020202"/><stop offset="0.1417" stop-color="#060606"/><stop offset="0.4104" stop-color="#060606"/><stop offset="0.4598" stop-color="#010101"/><stop offset="0.4835" stop-color="#080808"/><stop offset="0.5384" stop-color="#1f1f1f"/><stop offset="0.5640" stop-color="#242424"/><stop offset="0.5823" stop-color="#212121"/><stop offset="0.6152" stop-color="#131313"/><stop offset="0.6243" stop-color="#121212"/><stop offset="0.6408" stop-color="#1b1b1b"/><stop offset="0.6792" stop-color="#454545"/><stop offset="0.6974" stop-color="#565656"/><stop offset="0.7157" stop-color="#606060"/><stop offset="0.7322" stop-color="#636363"/><stop offset="0.7486" stop-color="#606060"/><stop offset="0.7669" stop-color="#555555"/><stop offset="0.8364" stop-color="#191919"/><stop offset="0.8693" stop-color="#040404"/><stop offset="0.9004" stop-color="#181818"/><stop offset="0.9680" stop-color="#4f4f4f"/><stop offset="0.9845" stop-color="#565656"/><stop offset="0.9991" stop-color="#575757"/></linearGradient>
<linearGradient id="c97" gradientUnits="userSpaceOnUse" x1="75" x2="622" y1="0" y2="0"><stop offset="0.0009" stop-color="#0d0d0d"/><stop offset="0.0814" stop-color="#010101"/><stop offset="0.4634" stop-color="#020202"/><stop offset="0.5567" stop-color="#1f1f1f"/><stop offset="0.5786" stop-color="#202020"/><stop offset="0.6133" stop-color="#1c1c1c"/><stop offset="0.6280" stop-color="#1e1e1e"/><stop offset="0.6463" stop-color="#272727"/><stop offset="0.6993" stop-color="#515151"/><stop offset="0.7157" stop-color="#585858"/><stop offset="0.7303" stop-color="#5a5a5a"/><stop offset="0.7450" stop-color="#585858"/><stop offset="0.7614" stop-color="#515151"/><stop offset="0.8382" stop-color="#191919"/><stop offset="0.8565" stop-color="#101010"/><stop offset="0.8711" stop-color="#0d0d0d"/><stop offset="0.9004" stop-color="#1a1a1a"/><stop offset="0.9698" stop-color="#4d4d4d"/><stop offset="0.9845" stop-color="#535353"/><stop offset="0.9991" stop-color="#545454"/></linearGradient>
<linearGradient id="c98" gradientUnits="userSpaceOnUse" x1="75" x2="622" y1="0" y2="0"><stop offset="0.0009" stop-color="#0a0a0a"/><stop offset="0.0795" stop-color="#030303"/><stop offset="0.1691" stop-color="#010101"/><stop offset="0.4616" stop-color="#040404"/><stop offset="0.4909" stop-color="#090909"/><stop offset="0.5585" stop-color="#1d1d1d"/><stop offset="0.6280" stop-color="#252525"/><stop offset="0.6481" stop-color="#2e2e2e"/><stop offset="0.6974" stop-color="#4a4a4a"/><stop offset="0.7285" stop-color="#525252"/><stop offset="0.7450" stop-color="#505050"/><stop offset="0.7633" stop-color="#484848"/><stop offset="0.8382" stop-color="#1b1b1b"/><stop offset="0.8547" stop-color="#151515"/><stop offset="0.8711" stop-color="#141414"/><stop offset="0.9040" stop-color="#1f1f1f"/><stop offset="0.9717" stop-color="#4c4c4c"/><stop offset="0.9991" stop-color="#515151"/></linearGradient>
<linearGradient id="c99" gradientUnits="userSpaceOnUse" x1="75" x2="622" y1="0" y2="0"><stop offset="0.0009" stop-color="#090909"/><stop offset="0.1728" stop-color="#000000"/><stop offset="0.3812" stop-color="#000000"/><stop offset="0.4561" stop-color="#040404"/><stop offset="0.4890" stop-color="#090909"/><stop offset="0.5585" stop-color="#1b1b1b"/><stop offset="0.6225" stop-color="#272727"/><stop offset="0.6956" stop-color="#454545"/><stop offset="0.7249" stop-color="#4a4a4a"/><stop offset="0.7596" stop-color="#434343"/><stop offset="0.8346" stop-color="#1d1d1d"/><stop offset="0.8693" stop-color="#171717"/><stop offset="0.9040" stop-color="#212121"/><stop offset="0.9717" stop-color="#4a4a4a"/><stop offset="0.9991" stop-color="#4e4e4e"/></linearGradient>
<linearGradient id="c100" gradientUnits="userSpaceOnUse" x1="75" x2="622" y1="0" y2="0"><stop offset="0.0009" stop-color="#080808"/><stop offset="0.1764" stop-color="#000000"/><stop offset="0.3757" stop-color="#000000"/><stop offset="0.4470" stop-color="#030303"/><stop offset="0.5037" stop-color="#0c0c0c"/><stop offset="0.6261" stop-color="#292929"/><stop offset="0.6938" stop-color="#3f3f3f"/><stop offset="0.7212" stop-color="#434343"/><stop offset="0.7578" stop-color="#3d3d3d"/><stop offset="0.8327" stop-color="#1b1b1b"/><stop offset="0.8656" stop-color="#171717"/><stop offset="0.9022" stop-color="#212121"/><stop offset="0.9698" stop-color="#474747"/><stop offset="0.9991" stop-color="#4c4c4c"/></linearGradient>
<linearGradient id="c101" gradientUnits="userSpaceOnUse" x1="75" x2="622" y1="0" y2="0"><stop offset="0.0009" stop-color="#070707"/><stop offset="0.1709" stop-color="#000000"/><stop offset="0.4397" stop-color="#020202"/><stop offset="0.5000" stop-color="#0b0b0b"/><stop offset="0.6883" stop-color="#393939"/><stop offset="0.7194" stop-color="#3d3d3d"/><stop offset="0.7541" stop-color="#383838"/><stop offset="0.8291" stop-color="#181818"/><stop offset="0.8601" stop-color="#121212"/><stop offset="0.8949" stop-color="#1c1c1c"/><stop offset="0.9680" stop-color="#444444"/><stop offset="0.9991" stop-color="#494949"/></linearGradient>
<linearGradient id="c102" gradientUnits="userSpaceOnUse" x1="75" x2="622" y1="0" y2="0"><stop offset="0.0009" stop-color="#070707"/><stop offset="0.1709" stop-color="#000000"/><stop offset="0.4360" stop-color="#020202"/><stop offset="0.4963" stop-color="#0a0a0a"/><stop offset="0.6846" stop-color="#323232"/><stop offset="0.7194" stop-color="#363636"/><stop offset="0.7596" stop-color="#303030"/><stop offset="0.8364" stop-color="#101010"/><stop offset="0.8583" stop-color="#0b0b0b"/><stop offset="0.8876" stop-color="#151515"/><stop offset="0.9644" stop-color="#404040"/><stop offset="0.9826" stop-color="#464646"/><stop offset="0.9991" stop-color="#474747"/></linearGradient>
<linearGradient id="c103" gradientUnits="userSpaceOnUse" x1="75" x2="622" y1="0" y2="0"><stop offset="0.0009" stop-color="#070707"/><stop offset="0.1746" stop-color="#000000"/><stop offset="0.4305" stop-color="#020202"/><stop offset="0.4872" stop-color="#080808"/><stop offset="0.6901" stop-color="#2d2d2d"/><stop offset="0.7230" stop-color="#303030"/><stop offset="0.7468" stop-color="#2d2d2d"/><stop offset="0.7724" stop-color="#272727"/><stop offset="0.8565" stop-color="#030303"/><stop offset="0.8784" stop-color="#0d0d0d"/><stop offset="0.9589" stop-color="#3c3c3c"/><stop offset="0.9790" stop-color="#434343"/><stop offset="0.9991" stop-color="#444444"/></linearGradient>
<linearGradient id="c104" gradientUnits="userSpaceOnUse" x1="75" x2="622" y1="0" y2="0"><stop offset="0.0009" stop-color="#060606"/><stop offset="0.1746" stop-color="#000000"/><stop offset="0.4232" stop-color="#020202"/><stop offset="0.4799" stop-color="#070707"/><stop offset="0.7267" stop-color="#292929"/><stop offset="0.7724" stop-color="#232323"/><stop offset="0.8565" stop-color="#050505"/><stop offset="0.8784" stop-color="#0d0d0d"/><stop offset="0.9589" stop-color="#3a3a3a"/><stop offset="0.9790" stop-color="#414141"/><stop offset="0.9991" stop-color="#424242"/></linearGradient>
<linearGradient id="c105" gradientUnits="userSpaceOnUse" x1="75" x2="622" y1="0" y2="0"><stop offset="0.0009" stop-color="#060606"/><stop offset="0.1764" stop-color="#000000"/><stop offset="0.4177" stop-color="#010101"/><stop offset="0.6335" stop-color="#161616"/><stop offset="0.7285" stop-color="#242424"/><stop offset="0.7651" stop-color="#212121"/><stop offset="0.8346" stop-color="#0e0e0e"/><stop offset="0.8565" stop-color="#0c0c0c"/><stop offset="0.8857" stop-color="#141414"/><stop offset="0.9625" stop-color="#3a3a3a"/><stop offset="0.9991" stop-color="#404040"/></linearGradient>
<linearGradient id="c106" gradientUnits="userSpaceOnUse" x1="75" x2="622" y1="0" y2="0"><stop offset="0.0009" stop-color="#060606"/><stop offset="0.1782" stop-color="#000000"/><stop offset="0.4104" stop-color="#010101"/><stop offset="0.5548" stop-color="#0e0e0e"/><stop offset="0.6353" stop-color="#101010"/><stop offset="0.7340" stop-color="#1f1f1f"/><stop offset="0.8547" stop-color="#111111"/><stop offset="0.8894" stop-color="#191919"/><stop offset="0.9644" stop-color="#393939"/><stop offset="0.9991" stop-color="#3e3e3e"/></linearGradient>
<linearGradient id="c107" gradientUnits="userSpaceOnUse" x1="75" x2="622" y1="0" y2="0"><stop offset="0.0009" stop-color="#060606"/><stop offset="0.1728" stop-color="#000000"/><stop offset="0.3830" stop-color="#010101"/><stop offset="0.5512" stop-color="#0c0c0c"/><stop offset="0.6353" stop-color="#0a0a0a"/><stop offset="0.7322" stop-color="#1b1b1b"/><stop offset="0.8473" stop-color="#131313"/><stop offset="0.8876" stop-color="#1b1b1b"/><stop offset="0.9662" stop-color="#393939"/><stop offset="0.9991" stop-color="#3d3d3d"/></linearGradient>
<linearGradient id="c108" gradientUnits="userSpaceOnUse" x1="75" x2="622" y1="0" y2="0"><stop offset="0.0009" stop-color="#050505"/><stop offset="0.1709" stop-color="#010101"/><stop offset="0.3629" stop-color="#000000"/><stop offset="0.5567" stop-color="#0b0b0b"/><stop offset="0.6316" stop-color="#050505"/><stop offset="0.7285" stop-color="#171717"/><stop offset="0.8236" stop-color="#131313"/><stop offset="0.8565" stop-color="#151515"/><stop offset="0.8912" stop-color="#1d1d1d"/><stop offset="0.9625" stop-color="#373737"/><stop offset="0.9991" stop-color="#3b3b3b"/></linearGradient>
<linearGradient id="c109" gradientUnits="userSpaceOnUse" x1="75" x2="622" y1="0" y2="0"><stop offset="0.0009" stop-color="#050505"/><stop offset="0.1728" stop-color="#010101"/><stop offset="0.3556" stop-color="#000000"/><stop offset="0.5530" stop-color="#0a0a0a"/><stop offset="0.6298" stop-color="#010101"/><stop offset="0.7249" stop-color="#141414"/><stop offset="0.8199" stop-color="#101010"/><stop offset="0.8510" stop-color="#121212"/><stop offset="0.8857" stop-color="#1a1a1a"/><stop offset="0.9589" stop-color="#353535"/><stop offset="0.9991" stop-color="#3a3a3a"/></linearGradient>
<linearGradient id="c110" gradientUnits="userSpaceOnUse" x1="75" x2="622" y1="0" y2="0"><stop offset="0.0009" stop-color="#050505"/><stop offset="0.1746" stop-color="#010101"/><stop offset="0.3537" stop-color="#000000"/><stop offset="0.5457" stop-color="#090909"/><stop offset="0.6298" stop-color="#040404"/><stop offset="0.7322" stop-color="#121212"/><stop offset="0.8327" stop-color="#0c0c0c"/><stop offset="0.8711" stop-color="#131313"/><stop offset="0.9589" stop-color="#333333"/><stop offset="0.9991" stop-color="#393939"/></linearGradient>
<linearGradient id="c111" gradientUnits="userSpaceOnUse" x1="75" x2="622" y1="0" y2="0"><stop offset="0.0009" stop-color="#050505"/><stop offset="0.1837" stop-color="#000000"/><stop offset="0.3775" stop-color="#010101"/><stop offset="0.5420" stop-color="#080808"/><stop offset="0.6316" stop-color="#070707"/><stop offset="0.7322" stop-color="#101010"/><stop offset="0.8309" stop-color="#070707"/><stop offset="0.8638" stop-color="#0e0e0e"/><stop offset="0.9552" stop-color="#313131"/><stop offset="0.9991" stop-color="#373737"/></linearGradient>
<linearGradient id="c112" gradientUnits="userSpaceOnUse" x1="75" x2="622" y1="0" y2="0"><stop offset="0.0009" stop-color="#050505"/><stop offset="0.1856" stop-color="#000000"/><stop offset="0.3739" stop-color="#010101"/><stop offset="0.7267" stop-color="#0f0f0f"/><stop offset="0.7724" stop-color="#0c0c0c"/><stop offset="0.8291" stop-color="#020202"/><stop offset="0.8601" stop-color="#0b0b0b"/><stop offset="0.9497" stop-color="#2e2e2e"/><stop offset="0.9753" stop-color="#343434"/><stop offset="0.9991" stop-color="#353535"/></linearGradient>
<linearGradient id="c113" gradientUnits="userSpaceOnUse" x1="75" x2="622" y1="0" y2="0"><stop offset="0.0009" stop-color="#050505"/><stop offset="0.1874" stop-color="#000000"/><stop offset="0.3702" stop-color="#010101"/><stop offset="0.7176" stop-color="#0f0f0f"/><stop offset="0.7614" stop-color="#0d0d0d"/><stop offset="0.8291" stop-color="#040404"/><stop offset="0.8620" stop-color="#0c0c0c"/><stop offset="0.9516" stop-color="#2e2e2e"/><stop offset="0.9991" stop-color="#343434"/></linearGradient>
<linearGradient id="c114" gradientUnits="userSpaceOnUse" x1="75" x2="622" y1="0" y2="0"><stop offset="0.0009" stop-color="#040404"/><stop offset="0.3684" stop-color="#010101"/><stop offset="0.7029" stop-color="#0e0e0e"/><stop offset="0.8254" stop-color="#090909"/><stop offset="0.8638" stop-color="#0f0f0f"/><stop offset="0.9552" stop-color="#2e2e2e"/><stop offset="0.9991" stop-color="#333333"/></linearGradient>
<linearGradient id="c115" gradientUnits="userSpaceOnUse" x1="75" x2="622" y1="0" y2="0"><stop offset="0.0009" stop-color="#040404"/><stop offset="0.3483" stop-color="#000000"/><stop offset="0.6554" stop-color="#0d0d0d"/><stop offset="0.8181" stop-color="#0c0c0c"/><stop offset="0.8656" stop-color="#131313"/><stop offset="0.9570" stop-color="#2e2e2e"/><stop offset="0.9991" stop-color="#323232"/></linearGradient>
<linearGradient id="c116" gradientUnits="userSpaceOnUse" x1="75" x2="622" y1="0" y2="0"><stop offset="0.0009" stop-color="#040404"/><stop offset="0.3537" stop-color="#000000"/><stop offset="0.6280" stop-color="#0d0d0d"/><stop offset="0.8053" stop-color="#0d0d0d"/><stop offset="0.8620" stop-color="#141414"/><stop offset="0.9589" stop-color="#2d2d2d"/><stop offset="0.9991" stop-color="#313131"/></linearGradient>
<linearGradient id="c117" gradientUnits="userSpaceOnUse" x1="75" x2="622" y1="0" y2="0"><stop offset="0.0009" stop-color="#040404"/><stop offset="0.3519" stop-color="#000000"/><stop offset="0.6170" stop-color="#0c0c0c"/><stop offset="0.7925" stop-color="#0c0c0c"/><stop offset="0.8473" stop-color="#121212"/><stop offset="0.9516" stop-color="#2b2b2b"/><stop offset="0.9991" stop-color="#303030"/></linearGradient>
<linearGradient id="c118" gradientUnits="userSpaceOnUse" x1="75" x2="622" y1="0" y2="0"><stop offset="0.0009" stop-color="#040404"/><stop offset="0.3428" stop-color="#000000"/><stop offset="0.6115" stop-color="#0b0b0b"/><stop offset="0.7852" stop-color="#0b0b0b"/><stop offset="0.8492" stop-color="#121212"/><stop offset="0.9570" stop-color="#2c2c2c"/><stop offset="0.9991" stop-color="#2f2f2f"/></linearGradient><clipPath id="ccl"><rect x="75" y="464" width="547" height="357"/></clipPath></defs>
<g clip-path="url(#ccl)"><g filter="url(#jetc)"><rect x="75" y="458" width="547" height="6" fill="url(#c0)"/>
<rect x="75" y="464" width="547" height="3" fill="url(#c0)"/>
<rect x="75" y="467" width="547" height="3" fill="url(#c1)"/>
<rect x="75" y="470" width="547" height="3" fill="url(#c2)"/>
<rect x="75" y="473" width="547" height="3" fill="url(#c3)"/>
<rect x="75" y="476" width="547" height="3" fill="url(#c4)"/>
<rect x="75" y="479" width="547" height="3" fill="url(#c5)"/>
<rect x="75" y="482" width="547" height="3" fill="url(#c6)"/>
<rect x="75" y="485" width="547" height="3" fill="url(#c7)"/>
<rect x="75" y="488" width="547" height="3" fill="url(#c8)"/>
<rect x="75" y="491" width="547" height="3" fill="url(#c9)"/>
<rect x="75" y="494" width="547" height="3" fill="url(#c10)"/>
<rect x="75" y="497" width="547" height="3" fill="url(#c11)"/>
<rect x="75" y="500" width="547" height="3" fill="url(#c12)"/>
<rect x="75" y="503" width="547" height="3" fill="url(#c13)"/>
<rect x="75" y="506" width="547" height="3" fill="url(#c14)"/>
<rect x="75" y="509" width="547" height="3" fill="url(#c15)"/>
<rect x="75" y="512" width="547" height="3" fill="url(#c16)"/>
<rect x="75" y="515" width="547" height="3" fill="url(#c17)"/>
<rect x="75" y="518" width="547" height="3" fill="url(#c18)"/>
<rect x="75" y="521" width="547" height="3" fill="url(#c19)"/>
<rect x="75" y="524" width="547" height="3" fill="url(#c20)"/>
<rect x="75" y="527" width="547" height="3" fill="url(#c21)"/>
<rect x="75" y="530" width="547" height="3" fill="url(#c22)"/>
<rect x="75" y="533" width="547" height="3" fill="url(#c23)"/>
<rect x="75" y="536" width="547" height="3" fill="url(#c24)"/>
<rect x="75" y="539" width="547" height="3" fill="url(#c25)"/>
<rect x="75" y="542" width="547" height="3" fill="url(#c26)"/>
<rect x="75" y="545" width="547" height="3" fill="url(#c27)"/>
<rect x="75" y="548" width="547" height="3" fill="url(#c28)"/>
<rect x="75" y="551" width="547" height="3" fill="url(#c29)"/>
<rect x="75" y="554" width="547" height="3" fill="url(#c30)"/>
<rect x="75" y="557" width="547" height="3" fill="url(#c31)"/>
<rect x="75" y="560" width="547" height="3" fill="url(#c32)"/>
<rect x="75" y="563" width="547" height="3" fill="url(#c33)"/>
<rect x="75" y="566" width="547" height="3" fill="url(#c34)"/>
<rect x="75" y="569" width="547" height="3" fill="url(#c35)"/>
<rect x="75" y="572" width="547" height="3" fill="url(#c36)"/>
<rect x="75" y="575" width="547" height="3" fill="url(#c37)"/>
<rect x="75" y="578" width="547" height="3" fill="url(#c38)"/>
<rect x="75" y="581" width="547" height="3" fill="url(#c39)"/>
<rect x="75" y="584" width="547" height="3" fill="url(#c40)"/>
<rect x="75" y="587" width="547" height="3" fill="url(#c41)"/>
<rect x="75" y="590" width="547" height="3" fill="url(#c42)"/>
<rect x="75" y="593" width="547" height="3" fill="url(#c43)"/>
<rect x="75" y="596" width="547" height="3" fill="url(#c44)"/>
<rect x="75" y="599" width="547" height="3" fill="url(#c45)"/>
<rect x="75" y="602" width="547" height="3" fill="url(#c46)"/>
<rect x="75" y="605" width="547" height="3" fill="url(#c47)"/>
<rect x="75" y="608" width="547" height="3" fill="url(#c48)"/>
<rect x="75" y="611" width="547" height="3" fill="url(#c49)"/>
<rect x="75" y="614" width="547" height="3" fill="url(#c50)"/>
<rect x="75" y="617" width="547" height="3" fill="url(#c51)"/>
<rect x="75" y="620" width="547" height="3" fill="url(#c52)"/>
<rect x="75" y="623" width="547" height="3" fill="url(#c53)"/>
<rect x="75" y="626" width="547" height="3" fill="url(#c54)"/>
<rect x="75" y="629" width="547" height="3" fill="url(#c55)"/>
<rect x="75" y="632" width="547" height="3" fill="url(#c56)"/>
<rect x="75" y="635" width="547" height="3" fill="url(#c57)"/>
<rect x="75" y="638" width="547" height="3" fill="url(#c58)"/>
<rect x="75" y="641" width="547" height="3" fill="url(#c59)"/>
<rect x="75" y="644" width="547" height="3" fill="url(#c60)"/>
<rect x="75" y="647" width="547" height="3" fill="url(#c61)"/>
<rect x="75" y="650" width="547" height="3" fill="url(#c62)"/>
<rect x="75" y="653" width="547" height="3" fill="url(#c63)"/>
<rect x="75" y="656" width="547" height="3" fill="url(#c64)"/>
<rect x="75" y="659" width="547" height="3" fill="url(#c65)"/>
<rect x="75" y="662" width="547" height="3" fill="url(#c66)"/>
<rect x="75" y="665" width="547" height="3" fill="url(#c67)"/>
<rect x="75" y="668" width="547" height="3" fill="url(#c68)"/>
<rect x="75" y="671" width="547" height="3" fill="url(#c69)"/>
<rect x="75" y="674" width="547" height="3" fill="url(#c70)"/>
<rect x="75" y="677" width="547" height="3" fill="url(#c71)"/>
<rect x="75" y="680" width="547" height="3" fill="url(#c72)"/>
<rect x="75" y="683" width="547" height="3" fill="url(#c73)"/>
<rect x="75" y="686" width="547" height="3" fill="url(#c74)"/>
<rect x="75" y="689" width="547" height="3" fill="url(#c75)"/>
<rect x="75" y="692" width="547" height="3" fill="url(#c76)"/>
<rect x="75" y="695" width="547" height="3" fill="url(#c77)"/>
<rect x="75" y="698" width="547" height="3" fill="url(#c78)"/>
<rect x="75" y="701" width="547" height="3" fill="url(#c79)"/>
<rect x="75" y="704" width="547" height="3" fill="url(#c80)"/>
<rect x="75" y="707" width="547" height="3" fill="url(#c81)"/>
<rect x="75" y="710" width="547" height="3" fill="url(#c82)"/>
<rect x="75" y="713" width="547" height="3" fill="url(#c83)"/>
<rect x="75" y="716" width="547" height="3" fill="url(#c84)"/>
<rect x="75" y="719" width="547" height="3" fill="url(#c85)"/>
<rect x="75" y="722" width="547" height="3" fill="url(#c86)"/>
<rect x="75" y="725" width="547" height="3" fill="url(#c87)"/>
<rect x="75" y="728" width="547" height="3" fill="url(#c88)"/>
<rect x="75" y="731" width="547" height="3" fill="url(#c89)"/>
<rect x="75" y="734" width="547" height="3" fill="url(#c90)"/>
<rect x="75" y="737" width="547" height="3" fill="url(#c91)"/>
<rect x="75" y="740" width="547" height="3" fill="url(#c92)"/>
<rect x="75" y="743" width="547" height="3" fill="url(#c93)"/>
<rect x="75" y="746" width="547" height="3" fill="url(#c94)"/>
<rect x="75" y="749" width="547" height="3" fill="url(#c95)"/>
<rect x="75" y="752" width="547" height="3" fill="url(#c96)"/>
<rect x="75" y="755" width="547" height="3" fill="url(#c97)"/>
<rect x="75" y="758" width="547" height="3" fill="url(#c98)"/>
<rect x="75" y="761" width="547" height="3" fill="url(#c99)"/>
<rect x="75" y="764" width="547" height="3" fill="url(#c100)"/>
<rect x="75" y="767" width="547" height="3" fill="url(#c101)"/>
<rect x="75" y="770" width="547" height="3" fill="url(#c102)"/>
<rect x="75" y="773" width="547" height="3" fill="url(#c103)"/>
<rect x="75" y="776" width="547" height="3" fill="url(#c104)"/>
<rect x="75" y="779" width="547" height="3" fill="url(#c105)"/>
<rect x="75" y="782" width="547" height="3" fill="url(#c106)"/>
<rect x="75" y="785" width="547" height="3" fill="url(#c107)"/>
<rect x="75" y="788" width="547" height="3" fill="url(#c108)"/>
<rect x="75" y="791" width="547" height="3" fill="url(#c109)"/>
<rect x="75" y="794" width="547" height="3" fill="url(#c110)"/>
<rect x="75" y="797" width="547" height="3" fill="url(#c111)"/>
<rect x="75" y="800" width="547" height="3" fill="url(#c112)"/>
<rect x="75" y="803" width="547" height="3" fill="url(#c113)"/>
<rect x="75" y="806" width="547" height="3" fill="url(#c114)"/>
<rect x="75" y="809" width="547" height="3" fill="url(#c115)"/>
<rect x="75" y="812" width="547" height="3" fill="url(#c116)"/>
<rect x="75" y="815" width="547" height="3" fill="url(#c117)"/>
<rect x="75" y="818" width="547" height="3" fill="url(#c118)"/>
<rect x="75" y="821" width="547" height="6" fill="url(#c118)"/></g></g>
<defs><clipPath id="cd"><rect x="718" y="464" width="547" height="357"/></clipPath>
<filter id="b1" filterUnits="userSpaceOnUse" x="698" y="444" width="587" height="397"><feGaussianBlur stdDeviation="0.8"/></filter>
<filter id="b15" filterUnits="userSpaceOnUse" x="698" y="444" width="587" height="397"><feGaussianBlur stdDeviation="1.4"/></filter>
<filter id="b3" filterUnits="userSpaceOnUse" x="698" y="444" width="587" height="397"><feGaussianBlur stdDeviation="3"/></filter>
<filter id="b5" filterUnits="userSpaceOnUse" x="698" y="444" width="587" height="397"><feGaussianBlur stdDeviation="5"/></filter>
<filter id="b8" filterUnits="userSpaceOnUse" x="698" y="444" width="587" height="397"><feGaussianBlur stdDeviation="8"/></filter>
<linearGradient id="gA" gradientUnits="userSpaceOnUse" x1="0" y1="548" x2="0" y2="738"><stop offset="0" stop-color="#a0d0ff"/><stop offset="0.12" stop-color="#8ab8ff"/><stop offset="0.3" stop-color="#4460ff"/><stop offset="0.85" stop-color="#3048ff"/><stop offset="1" stop-color="#80a8ff"/></linearGradient>
<linearGradient id="gC" gradientUnits="userSpaceOnUse" x1="0" y1="735" x2="0" y2="550"><stop offset="0" stop-color="#8ab0ff"/><stop offset="0.1" stop-color="#3048ff"/><stop offset="0.65" stop-color="#3a58ff"/><stop offset="0.85" stop-color="#80b0ff"/><stop offset="1" stop-color="#d0f4ff"/></linearGradient>
<linearGradient id="gE" gradientUnits="userSpaceOnUse" x1="0" y1="550" x2="0" y2="675"><stop offset="0" stop-color="#d0f4ff"/><stop offset="0.3" stop-color="#98c8ff"/><stop offset="0.7" stop-color="#4a68ff"/><stop offset="1" stop-color="#c8f4ff"/></linearGradient></defs>
<g clip-path="url(#cd)">
<rect x="718" y="464" width="547" height="357" fill="#0a0080"/>
<g filter="url(#b8)" fill="#0010d0"><path d="M1012 748L1026 705L1034 650L1045 640L1075 690L1098 748L1095 770L1060 770L1016 764Z" opacity="0.28"/><ellipse cx="1117" cy="760" rx="13" ry="16" opacity="0.6"/><path d="M1244 690L1265 680L1265 821L1244 821Z" opacity="0.3"/><path d="M1128 745L1158 670L1168 690L1145 785Z" opacity="0.25"/></g>
<g filter="url(#b3)" fill="none" stroke-linejoin="round" stroke-linecap="round"><path d="M1045.0 544.0L1045.4 545.4L1045.9 547.3L1046.5 549.6L1047.2 552.0L1047.8 554.6L1048.5 557.0L1049.1 559.4L1049.8 561.8L1050.4 564.2L1051.1 566.8L1051.8 569.4L1052.5 572.0L1053.2 574.7L1053.8 577.4L1054.5 580.2L1055.2 583.1L1056.0 586.0L1057.0 589.0L1058.1 592.0L1059.4 595.0L1060.7 598.1L1062.1 601.3L1063.5 604.5L1065.0 608.0L1066.5 611.7L1068.1 615.5L1069.7 619.5L1071.3 623.5L1072.9 627.6L1074.5 631.5L1076.1 635.4L1077.7 639.2L1079.3 643.0L1080.8 646.8L1082.3 650.6L1083.7 654.4L1085.0 658.2L1086.1 662.0L1087.2 665.8L1088.3 669.7L1089.4 673.5L1090.5 677.3L1091.7 681.1L1092.9 684.9L1094.1 688.8L1095.3 692.6L1096.4 696.4L1097.5 700.2L1098.5 704.1L1099.5 708.0L1100.5 712.0L1101.4 715.9L1102.3 719.6L1103.1 723.0L1103.9 726.3L1104.7 729.6L1105.4 732.7L1106.1 735.5L1106.6 737.8L1107.0 739.5L1107.0 739.5L1108.3 739.7L1110.1 740.0L1112.1 740.2L1114.0 740.3L1115.9 740.2L1117.9 739.9L1119.7 739.7L1121.0 739.5L1121.0 739.5L1121.6 738.2L1122.5 736.5L1123.5 734.4L1124.7 732.0L1126.0 729.3L1127.3 726.3L1128.7 723.0L1130.2 719.3L1131.8 715.3L1133.5 711.0L1135.3 706.5L1137.1 701.7L1139.0 696.6L1141.1 691.2L1143.2 685.5L1145.4 679.6L1147.5 673.5L1149.4 667.4L1151.2 661.1L1152.9 654.5L1154.5 647.8L1156.0 641.0L1157.6 634.4L1159.2 628.1L1160.8 622.0L1162.5 615.9L1164.1 610.0L1165.7 604.3L1167.4 598.9L1169.0 593.8L1170.7 589.0L1172.4 584.5L1174.1 580.3L1175.7 576.4L1177.3 572.7L1178.8 569.3L1180.2 566.2L1181.4 563.3L1182.7 560.7L1183.8 558.4L1185.0 556.4L1186.2 554.5L1187.5 552.9L1188.9 551.6L1190.3 550.5L1191.6 549.7L1192.7 549.0L1193.5 548.4L1193.5 548.4L1194.3 548.7L1195.4 549.0L1196.7 549.4L1198.2 550.0L1199.6 550.9L1200.9 552.0L1202.1 553.5L1203.4 555.2L1204.6 557.1L1205.8 559.3L1207.1 561.7L1208.3 564.3L1209.5 567.0L1210.6 570.0L1211.8 573.1L1213.0 576.4L1214.2 580.1L1215.6 584.0L1217.1 588.3L1218.7 593.1L1220.4 598.1L1222.1 603.2L1223.8 608.4L1225.5 613.4L1227.2 618.4L1228.9 623.4L1230.6 628.4L1232.2 633.3L1233.8 638.2L1235.3 642.9L1236.7 647.7L1238.1 652.6L1239.3 657.4L1240.5 661.8L1241.6 665.7L1242.6 668.8L1243.4 671.0L1244.1 672.4L1244.6 673.3L1245.2 673.8L1245.7 674.0L1246.3 674.2L1247.0 674.2L1247.7 673.8L1248.4 673.2L1249.1 672.5L1249.8 671.7L1250.5 671.0L1251.2 670.3L1251.7 669.5L1252.3 668.7L1253.0 667.9L1253.8 667.0L1254.9 666.2L1256.4 665.3L1258.4 664.3L1260.5 663.3L1262.5 662.4L1264.3 661.6L1265.5 661.0" stroke="#0818d8" stroke-width="16" opacity="0.5" stroke-linecap="butt"/><path d="M1041.0 520.0L1041.2 521.0L1041.5 522.4L1041.8 524.1L1042.1 526.0L1042.6 528.0L1043.0 530.0L1043.5 532.3L1044.2 534.9L1044.9 537.6L1045.5 540.2L1046.1 542.4L1046.5 544.0" stroke="#0818d8" stroke-width="7" opacity="0.5" stroke-linecap="butt"/><path d="M1012.0 731.0L1012.5 730.5L1013.3 730.0L1014.2 729.3L1015.1 728.4L1016.1 727.4L1017.0 726.0L1017.8 724.3L1018.7 722.4L1019.6 720.2L1020.4 717.9L1021.2 715.4L1022.0 713.0L1022.7 710.6L1023.4 708.1L1024.1 705.6L1024.7 702.9L1025.3 700.0L1026.0 697.0L1026.7 693.8L1027.3 690.6L1028.0 687.2L1028.7 683.5L1029.3 679.5L1030.0 675.0L1030.7 670.0L1031.4 664.5L1032.0 658.6L1032.7 652.5L1033.4 646.3L1034.0 640.0L1034.6 633.6L1035.2 626.9L1035.8 620.0L1036.4 613.1L1037.0 606.4L1037.5 600.0L1038.0 593.9L1038.4 588.0L1038.8 582.2L1039.2 576.5L1039.6 570.8L1040.0 565.0L1040.4 558.8L1040.8 552.0L1041.2 545.3L1041.5 539.1L1041.8 533.8L1042.0 530.0" stroke="#1020e0" stroke-width="11" opacity="0.5"/><ellipse cx="1117" cy="747" rx="9" ry="5" fill="#3050ff" stroke="none"/></g>
<g filter="url(#b15)" fill="none" stroke-linejoin="round" stroke-linecap="round"><path d="M1046.5 544.0L1046.9 545.4L1047.4 547.3L1048.0 549.6L1048.7 552.0L1049.3 554.6L1050.0 557.0L1050.6 559.4L1051.3 561.8L1051.9 564.2L1052.6 566.8L1053.3 569.4L1054.0 572.0L1054.7 574.7L1055.3 577.4L1056.0 580.2L1056.7 583.1L1057.5 586.0L1058.5 589.0L1059.6 592.0L1060.9 595.0L1062.2 598.1L1063.6 601.3L1065.0 604.5L1066.5 608.0L1068.0 611.7L1069.6 615.5L1071.2 619.5L1072.8 623.5L1074.4 627.6L1076.0 631.5L1077.6 635.4L1079.2 639.2L1080.8 643.0L1082.3 646.8L1083.8 650.6L1085.2 654.4L1086.5 658.2L1087.6 662.0L1088.7 665.8L1089.8 669.7L1090.9 673.5L1092.0 677.3L1093.2 681.1L1094.4 684.9L1095.6 688.8L1096.8 692.6L1097.9 696.4L1099.0 700.2L1100.0 704.1L1101.0 708.0L1102.0 712.0L1102.9 715.9L1103.8 719.6L1104.6 723.0L1105.4 726.3L1106.2 729.6L1106.9 732.7L1107.6 735.5L1108.1 737.8L1108.5 739.5L1108.5 739.5L1109.8 739.7L1111.6 740.0L1113.6 740.2L1115.5 740.3L1117.4 740.2L1119.4 739.9L1121.2 739.7L1122.5 739.5L1122.5 739.5L1123.1 738.2L1124.0 736.5L1125.0 734.4L1126.2 732.0L1127.5 729.3L1128.8 726.3L1130.2 723.0L1131.7 719.3L1133.3 715.3L1135.0 711.0L1136.8 706.5L1138.6 701.7L1140.5 696.6L1142.6 691.2L1144.8 685.5L1146.9 679.6L1149.0 673.5L1150.9 667.4L1152.7 661.1L1154.4 654.5L1156.0 647.8L1157.5 641.0L1159.1 634.4L1160.7 628.1L1162.3 622.0L1164.0 615.9L1165.6 610.0L1167.2 604.3L1168.9 598.9L1170.5 593.8L1172.2 589.0L1173.9 584.5L1175.6 580.3L1177.2 576.4L1178.8 572.7L1180.3 569.3L1181.7 566.2L1182.9 563.3L1184.2 560.7L1185.3 558.4L1186.5 556.4L1187.7 554.5L1189.0 552.9L1190.4 551.6L1191.8 550.5L1193.1 549.7L1194.2 549.0L1195.0 548.4L1195.0 548.4L1195.8 548.7L1196.9 549.0L1198.2 549.4L1199.7 550.0L1201.1 550.9L1202.4 552.0L1203.6 553.5L1204.9 555.2L1206.1 557.1L1207.3 559.3L1208.6 561.7L1209.8 564.3L1211.0 567.0L1212.1 570.0L1213.3 573.1L1214.5 576.4L1215.7 580.1L1217.1 584.0L1218.6 588.3L1220.2 593.1L1221.9 598.1L1223.6 603.2L1225.3 608.4L1227.0 613.4L1228.7 618.4L1230.4 623.4L1232.1 628.4L1233.7 633.3L1235.3 638.2L1236.8 642.9L1238.2 647.7L1239.6 652.6L1240.8 657.4L1242.0 661.8L1243.1 665.7L1244.1 668.8L1244.9 671.0L1245.6 672.4L1246.1 673.3L1246.7 673.8L1247.2 674.0L1247.8 674.2L1248.5 674.2L1249.2 673.8L1249.9 673.2L1250.6 672.5L1251.3 671.7L1252.0 671.0L1252.7 670.3L1253.2 669.5L1253.8 668.7L1254.5 667.9L1255.3 667.0L1256.4 666.2L1257.9 665.3L1259.9 664.3L1262.0 663.3L1264.0 662.4L1265.8 661.6L1267.0 661.0" stroke="#2840fc" stroke-width="6.5" stroke-linecap="butt" opacity="0.9"/><path d="M1041.5 520.0L1041.7 521.0L1042.0 522.4L1042.3 524.1L1042.6 526.0L1043.1 528.0L1043.5 530.0L1044.0 532.3L1044.7 534.9L1045.4 537.6L1046.0 540.2L1046.6 542.4L1047.0 544.0" stroke="#2a40ff" stroke-width="4" stroke-linecap="butt"/><path d="M1012.0 731.0L1012.5 730.5L1013.3 730.0L1014.2 729.3L1015.1 728.4L1016.1 727.4L1017.0 726.0L1017.8 724.3L1018.7 722.4L1019.6 720.2L1020.4 717.9L1021.2 715.4" stroke="#2a40f8" stroke-width="4.5" opacity="0.75"/></g>
<g filter="url(#b1)" fill="none" stroke-linejoin="round" stroke-linecap="round"><path d="M1047.5 544.0L1047.9 545.4L1048.4 547.3L1049.0 549.6L1049.7 552.0L1050.3 554.6L1051.0 557.0L1051.6 559.4L1052.3 561.8L1052.9 564.2L1053.6 566.8L1054.3 569.4L1055.0 572.0L1055.7 574.7L1056.3 577.4L1057.0 580.2L1057.7 583.1L1058.5 586.0L1059.5 589.0L1060.6 592.0L1061.9 595.0L1063.2 598.1L1064.6 601.3L1066.0 604.5L1067.5 608.0L1069.0 611.7L1070.6 615.5L1072.2 619.5L1073.8 623.5L1075.4 627.6L1077.0 631.5L1078.6 635.4L1080.2 639.2L1081.8 643.0L1083.3 646.8L1084.8 650.6L1086.2 654.4L1087.5 658.2L1088.6 662.0L1089.7 665.8L1090.8 669.7L1091.9 673.5L1093.0 677.3L1094.2 681.1L1095.4 684.9L1096.6 688.8L1097.8 692.6L1098.9 696.4L1100.0 700.2L1101.0 704.1L1102.0 708.0L1103.0 712.0L1103.9 715.9L1104.8 719.6L1105.6 723.0L1106.4 726.3L1107.2 729.6L1107.9 732.7L1108.6 735.5L1109.1 737.8L1109.5 739.5" stroke="url(#gA)" stroke-width="2.6"/><path d="M1123.5 739.5L1124.1 738.2L1125.0 736.5L1126.0 734.4L1127.2 732.0L1128.5 729.3L1129.8 726.3L1131.2 723.0L1132.7 719.3L1134.3 715.3L1136.0 711.0L1137.8 706.5L1139.6 701.7L1141.5 696.6L1143.6 691.2L1145.8 685.5L1147.9 679.6L1150.0 673.5L1151.9 667.4L1153.7 661.1L1155.4 654.5L1157.0 647.8L1158.5 641.0L1160.1 634.4L1161.7 628.1L1163.3 622.0L1165.0 615.9L1166.6 610.0L1168.2 604.3L1169.9 598.9L1171.5 593.8L1173.2 589.0L1174.9 584.5L1176.6 580.3L1178.2 576.4L1179.8 572.7L1181.3 569.3L1182.7 566.2L1183.9 563.3L1185.2 560.7L1186.3 558.4L1187.5 556.4L1188.7 554.5L1190.0 552.9L1191.4 551.6L1192.8 550.5L1194.1 549.7L1195.2 549.0L1196.0 548.4" stroke="url(#gC)" stroke-width="2.6"/><path d="M1196.0 548.4L1196.8 548.7L1197.9 549.0L1199.2 549.4L1200.7 550.0L1202.1 550.9L1203.4 552.0L1204.6 553.5L1205.9 555.2L1207.1 557.1L1208.3 559.3L1209.6 561.7L1210.8 564.3L1212.0 567.0L1213.1 570.0L1214.3 573.1L1215.5 576.4L1216.7 580.1L1218.1 584.0L1219.6 588.3L1221.2 593.1L1222.9 598.1L1224.6 603.2L1226.3 608.4L1228.0 613.4L1229.7 618.4L1231.4 623.4L1233.1 628.4L1234.7 633.3L1236.3 638.2L1237.8 642.9L1239.2 647.7L1240.6 652.6L1241.8 657.4L1243.0 661.8L1244.1 665.7L1245.1 668.8L1245.9 671.0L1246.6 672.4L1247.1 673.3L1247.7 673.8L1248.2 674.0L1248.8 674.2L1249.5 674.2L1250.2 673.8L1250.9 673.2L1251.6 672.5L1252.3 671.7L1253.0 671.0L1253.7 670.3L1254.2 669.5L1254.8 668.7L1255.5 667.9L1256.3 667.0L1257.4 666.2L1258.9 665.3L1260.9 664.3L1263.0 663.3L1265.0 662.4L1266.8 661.6L1268.0 661.0" stroke="url(#gE)" stroke-width="2.6"/><path d="M1109.5 739.5L1110.8 739.7L1112.6 740.0L1114.6 740.2L1116.5 740.3L1118.4 740.2L1120.4 739.9L1122.2 739.7L1123.5 739.5" stroke="#e8f8b0" stroke-width="2.8"/><path d="M1042.0 520.0L1042.2 521.0L1042.5 522.4L1042.8 524.1L1043.1 526.0L1043.6 528.0L1044.0 530.0L1044.5 532.3L1045.2 534.9L1045.9 537.6L1046.5 540.2L1047.1 542.4L1047.5 544.0" stroke="#4a68ff" stroke-width="2"/><path d="M1187 555.5L1191.5 550.5M1200.5 550.5L1205 555.5" stroke="#f0f070" stroke-width="2.4"/><path d="M1192 549H1200" stroke="#d04020" stroke-width="2.6"/><path d="M1245.5 669.5L1249 674L1253 670.5" stroke="#d8f8ff" stroke-width="2.4"/><circle cx="1050" cy="571.5" r="2" fill="#d8f4ff" stroke="none"/></g>
<g filter="url(#b1)"><path d="M720 732.7H1003" stroke="#701420" stroke-width="3.2"/><path d="M726 732.7H765M982 732.7H999" stroke="#a81c1c" stroke-width="3"/><path d="M735 737H762" stroke="#1a24ff" stroke-width="2.2" opacity="0.45"/><rect x="719" y="727.5" width="6" height="3.5" fill="#98c0ff"/><rect x="719" y="731" width="6" height="3.5" fill="#e8f050"/><path d="M999 732.7H1011" stroke="#e8e860" stroke-width="3"/><ellipse cx="1013.5" cy="729.5" rx="2.5" ry="2" fill="#d0f0ff"/><path d="M1000 736.5H1013" stroke="#5078ff" stroke-width="2.5" opacity="0.9"/></g>
</g>
<g style="will-change:transform">
<text transform="translate(76.50 403.60) scale(1 1.05)" text-anchor="middle" font-size="31" fill="#000">0</text>
<text transform="translate(719.50 403.60) scale(1 1.05)" text-anchor="middle" font-size="31" fill="#000">0</text>
<text transform="translate(76.70 855.90) scale(1 1.05)" text-anchor="middle" font-size="31" fill="#000">0</text>
<text transform="translate(718.40 855.90) scale(1 1.05)" text-anchor="middle" font-size="31" fill="#000">0</text>
<text transform="translate(182.75 403.60) scale(1 1.05)" text-anchor="middle" font-size="31" fill="#000">200</text>
<text transform="translate(825.75 403.60) scale(1 1.05)" text-anchor="middle" font-size="31" fill="#000">200</text>
<text transform="translate(183.50 855.90) scale(1 1.05)" text-anchor="middle" font-size="31" fill="#000">200</text>
<text transform="translate(827.76 855.90) scale(1 1.05)" text-anchor="middle" font-size="31" fill="#000">200</text>
<text transform="translate(289.00 403.60) scale(1 1.05)" text-anchor="middle" font-size="31" fill="#000">400</text>
<text transform="translate(932.00 403.60) scale(1 1.05)" text-anchor="middle" font-size="31" fill="#000">400</text>
<text transform="translate(290.30 855.90) scale(1 1.05)" text-anchor="middle" font-size="31" fill="#000">400</text>
<text transform="translate(937.12 855.90) scale(1 1.05)" text-anchor="middle" font-size="31" fill="#000">400</text>
<text transform="translate(395.25 403.60) scale(1 1.05)" text-anchor="middle" font-size="31" fill="#000">600</text>
<text transform="translate(1038.25 403.60) scale(1 1.05)" text-anchor="middle" font-size="31" fill="#000">600</text>
<text transform="translate(397.10 855.90) scale(1 1.05)" text-anchor="middle" font-size="31" fill="#000">600</text>
<text transform="translate(1046.48 855.90) scale(1 1.05)" text-anchor="middle" font-size="31" fill="#000">600</text>
<text transform="translate(501.50 403.60) scale(1 1.05)" text-anchor="middle" font-size="31" fill="#000">800</text>
<text transform="translate(1144.50 403.60) scale(1 1.05)" text-anchor="middle" font-size="31" fill="#000">800</text>
<text transform="translate(503.90 855.90) scale(1 1.05)" text-anchor="middle" font-size="31" fill="#000">800</text>
<text transform="translate(1155.84 855.90) scale(1 1.05)" text-anchor="middle" font-size="31" fill="#000">800</text>
<text transform="translate(590.51 403.60) scale(1 1.05)" font-size="31" fill="#000">000</text>
<path d="M582.10 403.60L584.83 403.60L584.83 380.29L583.07 380.29L581.65 382.28L579.48 384.40L576.66 386.12L576.66 388.89L579.48 387.33L582.10 385.37Z" fill="#000"/>
<text transform="translate(1233.51 403.60) scale(1 1.05)" font-size="31" fill="#000">000</text>
<path d="M1225.10 403.60L1227.83 403.60L1227.83 380.29L1226.07 380.29L1224.65 382.28L1222.48 384.40L1219.66 386.12L1219.66 388.89L1222.48 387.33L1225.10 385.37Z" fill="#000"/>
<text transform="translate(593.46 855.90) scale(1 1.05)" font-size="31" fill="#000">000</text>
<path d="M585.05 855.90L587.78 855.90L587.78 832.59L586.02 832.59L584.60 834.58L582.43 836.70L579.61 838.42L579.61 841.19L582.43 839.62L585.05 837.67Z" fill="#000"/>
<text transform="translate(1247.96 855.90) scale(1 1.05)" font-size="31" fill="#000">000</text>
<path d="M1239.55 855.90L1242.28 855.90L1242.28 832.59L1240.52 832.59L1239.10 834.58L1236.93 836.70L1234.11 838.42L1234.11 841.19L1236.93 839.62L1239.55 837.67Z" fill="#000"/>
<text transform="translate(349.20 434.30) scale(1 1.05)" text-anchor="middle" font-size="31" fill="#000">Time (ms)</text>
<text transform="translate(1003.80 433.80) scale(1 1.05)" text-anchor="middle" font-size="31" fill="#000">Time (ms)</text>
<text transform="translate(349.20 886.10) scale(1 1.05)" text-anchor="middle" font-size="31" fill="#000">Time (ms)</text>
<text transform="translate(1003.80 886.40) scale(1 1.05)" text-anchor="middle" font-size="31" fill="#000">Time (ms)</text>
<path d="M53.79 24.70L56.51 24.70L56.51 1.39L54.76 1.39L53.33 3.38L51.16 5.50L48.34 7.22L48.34 9.99L51.16 8.42L53.79 6.47Z" fill="#000"/>
<text transform="translate(62.20 112.40) scale(1 1.05)" text-anchor="end" font-size="31" fill="#000">0.5</text>
<text transform="translate(62.20 201.20) scale(1 1.05)" text-anchor="end" font-size="31" fill="#000">0</text>
<text transform="translate(62.20 288.20) scale(1 1.05)" text-anchor="end" font-size="31" fill="#000">-0.5</text>
<text transform="translate(34.64 375.80) scale(1 1.05)" font-size="31" fill="#000">-</text>
<path d="M53.79 375.80L56.51 375.80L56.51 352.49L54.76 352.49L53.33 354.48L51.16 356.60L48.34 358.32L48.34 361.09L51.16 359.53L53.79 357.57Z" fill="#000"/>
<path d="M703.99 25.00L706.71 25.00L706.71 1.69L704.96 1.69L703.53 3.68L701.36 5.80L698.54 7.52L698.54 10.29L701.36 8.72L703.99 6.77Z" fill="#000"/>
<text transform="translate(712.50 107.60) scale(1 1.05)" text-anchor="end" font-size="31" fill="#000">0.08</text>
<text transform="translate(712.50 192.20) scale(1 1.05)" text-anchor="end" font-size="31" fill="#000">0.06</text>
<text transform="translate(712.50 275.80) scale(1 1.05)" text-anchor="end" font-size="31" fill="#000">0.04</text>
<text transform="translate(712.50 359.80) scale(1 1.05)" text-anchor="end" font-size="31" fill="#000">0.02</text>
<text transform="translate(19.11 479.20) scale(1 1.05)" font-size="31" fill="#000">0.</text>
<path d="M53.79 479.20L56.51 479.20L56.51 455.89L54.76 455.89L53.33 457.88L51.16 460.00L48.34 461.72L48.34 464.49L51.16 462.93L53.79 460.97Z" fill="#000"/>
<text transform="translate(668.91 479.20) scale(1 1.05)" font-size="31" fill="#000">0.</text>
<path d="M703.59 479.20L706.31 479.20L706.31 455.89L704.56 455.89L703.13 457.88L700.96 460.00L698.14 461.72L698.14 464.49L700.96 462.93L703.59 460.97Z" fill="#000"/>
<text transform="translate(62.20 566.20) scale(1 1.05)" text-anchor="end" font-size="31" fill="#000">0.08</text>
<text transform="translate(712.00 566.20) scale(1 1.05)" text-anchor="end" font-size="31" fill="#000">0.08</text>
<text transform="translate(62.20 652.90) scale(1 1.05)" text-anchor="end" font-size="31" fill="#000">0.06</text>
<text transform="translate(712.00 652.90) scale(1 1.05)" text-anchor="end" font-size="31" fill="#000">0.06</text>
<text transform="translate(62.20 741.00) scale(1 1.05)" text-anchor="end" font-size="31" fill="#000">0.04</text>
<text transform="translate(712.00 741.00) scale(1 1.05)" text-anchor="end" font-size="31" fill="#000">0.04</text>
<text transform="translate(62.20 828.70) scale(1 1.05)" text-anchor="end" font-size="31" fill="#000">0.02</text>
<text transform="translate(712.00 828.70) scale(1 1.05)" text-anchor="end" font-size="31" fill="#000">0.02</text>
<text transform="translate(83.60 64.70) scale(1 1.0)" text-anchor="start" font-size="52" fill="#000">(a)</text>
<text transform="translate(730.60 65.00) scale(1 1.0)" text-anchor="start" font-size="52" fill="#000">(b)</text>
<text transform="translate(85.00 520.00) scale(1 1.0)" text-anchor="start" font-size="52" fill="#fff">(c)</text>
<text transform="translate(730.00 520.00) scale(1 1.0)" text-anchor="start" font-size="52" fill="#fff">(d)</text>
</g>
</svg>
</body></html>
